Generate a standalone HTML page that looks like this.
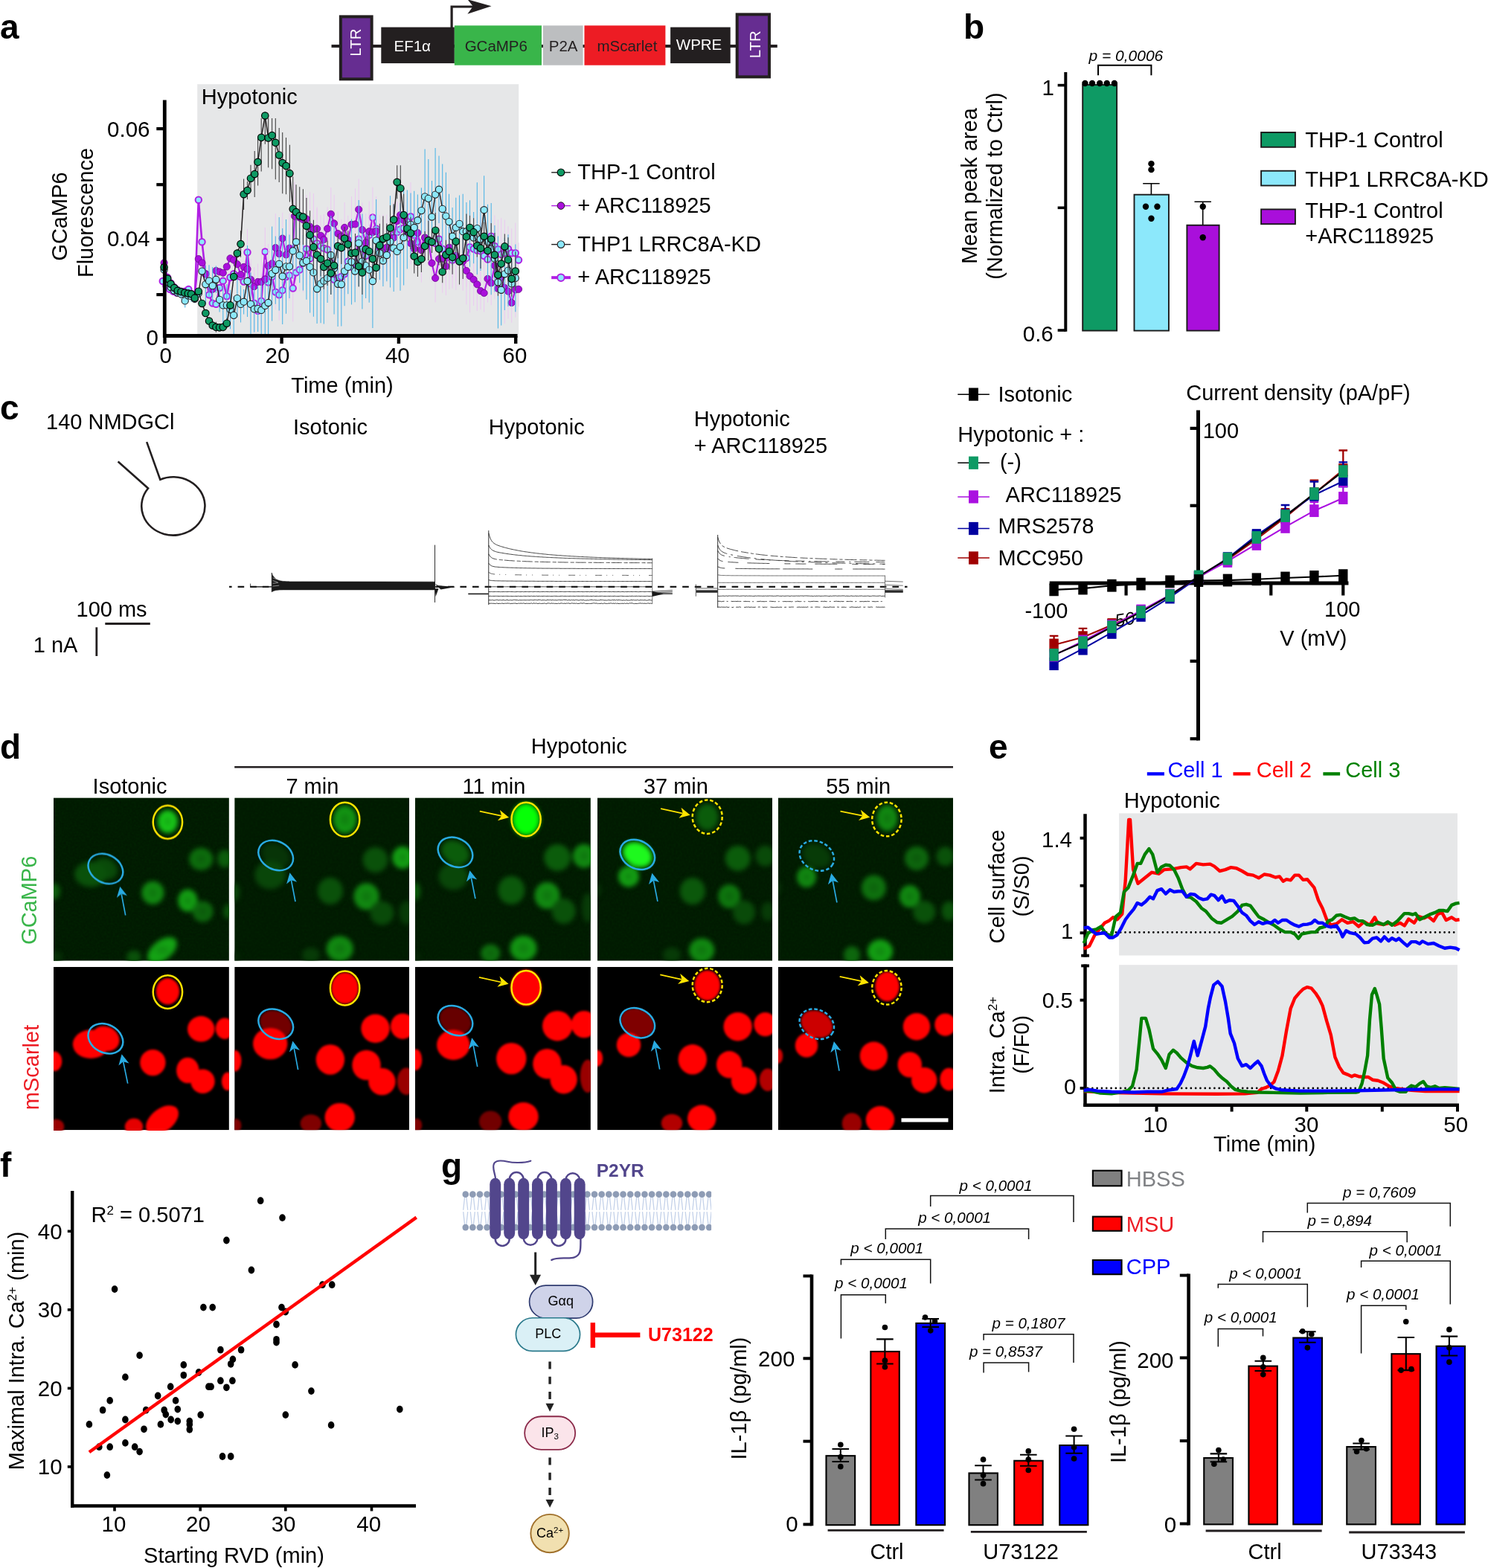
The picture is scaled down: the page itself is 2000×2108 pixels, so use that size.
<!DOCTYPE html>
<html lang="en"><head><meta charset="utf-8"><title>Figure</title>
<style>
html,body{margin:0;padding:0;background:#fff;}
body{width:2000px;height:2108px;overflow:hidden;}
svg{display:block;font-family:"Liberation Sans",sans-serif;}
</style></head><body>
<svg width="2000" height="2108" viewBox="0 0 2000 2108">
<rect x="0" y="0" width="2000" height="2108" fill="#fff"/>
<g id="pa">
<text x="0.00" y="52.30" font-size="46" font-weight="bold" >a</text>
<line x1="445.52" y1="61.94" x2="1044.78" y2="61.94" stroke="#231f20" stroke-width="4" />
<rect x="457.84" y="22.39" width="41.79" height="83.95" fill="#662d91" stroke="#231f20" stroke-width="4" />
<text font-size="20.5" text-anchor="middle" fill="#fff" transform="translate(485.45 57.09) rotate(-90)" >LTR</text>
<rect x="512.31" y="36.57" width="98.51" height="48.50" fill="#231f20" />
<text x="529.48" y="68.66" font-size="20.5" fill="#fff" >EF1α</text>
<path d="M607.1 37.3 L607.1 9.0 L638.8 9.0" fill="none" stroke="#231f20" stroke-width="3.2" />
<polygon points="628.4,-0.8 660.5,8.2 628.4,18.7 635.8,8.6" fill="#231f20"/>
<rect x="610.82" y="34.33" width="117.17" height="53.36" fill="#39b54a" />
<text x="666.79" y="68.66" font-size="20.5" text-anchor="middle" fill="#231f20" >GCaMP6</text>
<rect x="729.85" y="34.33" width="53.73" height="53.36" fill="#bcbec0" />
<text x="757.09" y="68.66" font-size="20.5" text-anchor="middle" fill="#231f20" >P2A</text>
<rect x="785.45" y="34.33" width="108.95" height="53.36" fill="#ed1c24" />
<text x="842.91" y="68.66" font-size="20.5" text-anchor="middle" fill="#231f20" >mScarlet</text>
<rect x="901.12" y="36.57" width="80.60" height="48.50" fill="#231f20" />
<text x="939.55" y="67.16" font-size="20.5" text-anchor="middle" fill="#fff" >WPRE</text>
<rect x="990.67" y="19.40" width="43.29" height="83.96" fill="#662d91" stroke="#231f20" stroke-width="4" />
<text font-size="20.5" text-anchor="middle" fill="#fff" transform="translate(1022.01 59.70) rotate(-90)" >LTR</text>
<rect x="265.20" y="113.20" width="432.00" height="336.40" fill="#e6e7e8" />
<text x="270.80" y="140.20" font-size="29" >Hypotonic</text>
<path d="M332.5 307.9 V370.7M337.0 354.6 V408.2M341.7 367.5 V447.7M346.6 393.2 V442.6M351.2 367.7 V441.8M356.3 305.8 V370.9M360.6 355.2 V403.9M365.6 335.7 V408.3M370.3 368.8 V416.4M375.2 362.0 V430.7M379.7 365.5 V414.8M384.5 346.8 V397.2M389.0 336.1 V404.2M393.7 342.8 V432.4M398.0 340.3 V392.5M402.7 333.9 V391.4M407.4 313.8 V392.8M411.9 286.6 V382.6M416.6 309.5 V385.8M421.4 288.1 V354.8M426.1 278.3 V375.9M431.1 306.8 V354.9M435.3 288.0 V379.3M440.1 305.0 V366.0M444.8 326.7 V379.9M449.1 349.8 V401.7M454.1 342.9 V404.9M458.8 327.5 V416.5M463.1 340.7 V395.9M467.8 313.2 V389.7M472.5 319.1 V398.7M477.1 320.6 V386.0M482.2 284.1 V358.9M486.9 310.1 V359.1M491.6 319.6 V368.3M496.2 287.6 V344.2M500.9 251.6 V333.4M505.6 273.3 V341.6M510.3 294.1 V356.4M514.9 296.2 V373.0M519.8 303.5 V373.2M524.5 301.9 V363.5M529.2 271.9 V359.8M533.7 270.7 V353.5M538.0 279.1 V337.7M542.6 268.4 V344.6M547.3 260.4 V333.9M552.0 245.1 V337.2M556.7 273.7 V358.1M561.4 294.8 V355.7M566.4 282.0 V379.7M571.1 293.7 V345.6M575.8 289.4 V357.3M580.5 282.3 V368.2M585.1 300.3 V354.0M590.0 285.7 V357.3M594.7 310.7 V358.4M599.4 303.4 V384.5M603.9 302.7 V389.0M608.1 311.5 V387.6M612.8 297.9 V390.0M617.5 316.5 V378.8M622.2 308.3 V390.9M626.9 308.1 V385.4M631.5 293.9 V370.4M636.6 299.7 V369.5M641.3 291.3 V381.6M646.0 289.5 V385.3M650.6 308.5 V379.4M655.5 308.2 V389.1M660.2 293.3 V342.2M664.9 289.4 V372.3M669.4 295.1 V375.2M673.7 292.9 V391.3M678.3 295.5 V384.9M683.0 304.2 V365.0M687.7 307.1 V373.3M692.8 299.6 V380.8M697.0 326.2 V373.0" stroke="#ecc9f2" stroke-width="1.0" fill="none"/>
<polyline points="218.7,378.0 223.4,384.2 228.1,388.9 232.8,391.7 237.4,393.6 243.4,394.5 248.3,391.7 253.3,388.9 257.1,395.4 261.8,399.2 266.8,268.7 271.5,325.2 276.4,368.3 281.0,396.4 285.7,407.6 290.4,408.9 295.1,387.0 299.8,377.6 304.8,398.2 309.5,373.0 314.2,368.3 318.9,371.1 323.5,372.0 327.6,378.6 332.5,339.3 337.0,381.4 341.7,407.6 346.6,417.9 351.2,404.8 356.3,338.3 360.6,379.5 365.6,372.0 370.3,392.6 375.2,396.4 379.7,390.2 384.5,372.0 389.0,370.1 393.7,387.6 398.0,366.4 402.7,362.7 407.4,353.3 411.9,334.6 416.6,347.7 421.4,321.5 426.1,327.1 431.1,330.9 435.3,333.7 440.1,335.5 444.8,353.3 449.1,375.8 454.1,373.9 458.8,372.0 463.1,368.3 467.8,351.4 472.5,358.9 477.1,353.3 482.2,321.5 486.9,334.6 491.6,343.9 496.2,315.9 500.9,292.5 505.6,307.4 510.3,325.2 514.9,334.6 519.8,338.3 524.5,332.7 529.2,315.9 533.7,312.1 538.0,308.4 542.6,306.5 547.3,297.2 552.0,291.2 556.7,315.9 561.4,325.2 566.4,330.9 571.1,319.6 575.8,323.4 580.5,325.2 585.1,327.1 590.0,321.5 594.7,334.6 599.4,343.9 603.9,345.8 608.1,349.6 612.8,343.9 617.5,347.7 622.2,349.6 626.9,346.8 631.5,332.2 636.6,334.6 641.3,336.5 646.0,337.4 650.6,343.9 655.5,348.6 660.2,317.8 664.9,330.9 669.4,335.1 673.7,342.1 678.3,340.2 683.0,334.6 687.7,340.2 692.8,340.2 697.0,349.6" fill="none" stroke="#b01fe3" stroke-width="2.6" />
<circle cx="218.72" cy="378.01" r="4.2" fill="#8ce8fb" stroke="#b01fe3" stroke-width="2.0" /><circle cx="223.40" cy="384.19" r="4.2" fill="#8ce8fb" stroke="#b01fe3" stroke-width="2.0" /><circle cx="228.07" cy="388.87" r="4.2" fill="#8ce8fb" stroke="#b01fe3" stroke-width="2.0" /><circle cx="232.75" cy="391.68" r="4.2" fill="#8ce8fb" stroke="#b01fe3" stroke-width="2.0" /><circle cx="237.43" cy="393.55" r="4.2" fill="#8ce8fb" stroke="#b01fe3" stroke-width="2.0" /><circle cx="243.42" cy="394.48" r="4.2" fill="#8ce8fb" stroke="#b01fe3" stroke-width="2.0" /><circle cx="248.29" cy="391.68" r="4.2" fill="#8ce8fb" stroke="#b01fe3" stroke-width="2.0" /><circle cx="253.34" cy="388.87" r="4.2" fill="#8ce8fb" stroke="#b01fe3" stroke-width="2.0" /><circle cx="257.08" cy="395.42" r="4.2" fill="#8ce8fb" stroke="#b01fe3" stroke-width="2.0" /><circle cx="261.76" cy="399.16" r="4.2" fill="#8ce8fb" stroke="#b01fe3" stroke-width="2.0" /><circle cx="266.82" cy="268.71" r="4.2" fill="#8ce8fb" stroke="#b01fe3" stroke-width="2.0" /><circle cx="271.50" cy="325.23" r="4.2" fill="#8ce8fb" stroke="#b01fe3" stroke-width="2.0" /><circle cx="276.36" cy="368.28" r="4.2" fill="#8ce8fb" stroke="#b01fe3" stroke-width="2.0" /><circle cx="281.04" cy="396.36" r="4.2" fill="#8ce8fb" stroke="#b01fe3" stroke-width="2.0" /><circle cx="285.72" cy="407.59" r="4.2" fill="#8ce8fb" stroke="#b01fe3" stroke-width="2.0" /><circle cx="290.40" cy="408.90" r="4.2" fill="#8ce8fb" stroke="#b01fe3" stroke-width="2.0" /><circle cx="295.08" cy="387.00" r="4.2" fill="#8ce8fb" stroke="#b01fe3" stroke-width="2.0" /><circle cx="299.76" cy="377.64" r="4.2" fill="#8ce8fb" stroke="#b01fe3" stroke-width="2.0" /><circle cx="304.81" cy="398.23" r="4.2" fill="#8ce8fb" stroke="#b01fe3" stroke-width="2.0" /><circle cx="309.49" cy="372.96" r="4.2" fill="#8ce8fb" stroke="#b01fe3" stroke-width="2.0" /><circle cx="314.17" cy="368.28" r="4.2" fill="#8ce8fb" stroke="#b01fe3" stroke-width="2.0" /><circle cx="318.85" cy="371.09" r="4.2" fill="#8ce8fb" stroke="#b01fe3" stroke-width="2.0" /><circle cx="323.53" cy="372.03" r="4.2" fill="#8ce8fb" stroke="#b01fe3" stroke-width="2.0" /><circle cx="327.64" cy="378.58" r="4.2" fill="#8ce8fb" stroke="#b01fe3" stroke-width="2.0" /><circle cx="332.51" cy="339.27" r="4.2" fill="#8ce8fb" stroke="#b01fe3" stroke-width="2.0" /><circle cx="337.00" cy="381.38" r="4.2" fill="#8ce8fb" stroke="#b01fe3" stroke-width="2.0" /><circle cx="341.68" cy="407.59" r="4.2" fill="#8ce8fb" stroke="#b01fe3" stroke-width="2.0" /><circle cx="346.55" cy="417.88" r="4.2" fill="#8ce8fb" stroke="#b01fe3" stroke-width="2.0" /><circle cx="351.23" cy="404.78" r="4.2" fill="#8ce8fb" stroke="#b01fe3" stroke-width="2.0" /><circle cx="356.28" cy="338.34" r="4.2" fill="#8ce8fb" stroke="#b01fe3" stroke-width="2.0" /><circle cx="360.58" cy="379.51" r="4.2" fill="#8ce8fb" stroke="#b01fe3" stroke-width="2.0" /><circle cx="365.64" cy="372.03" r="4.2" fill="#8ce8fb" stroke="#b01fe3" stroke-width="2.0" /><circle cx="370.32" cy="392.61" r="4.2" fill="#8ce8fb" stroke="#b01fe3" stroke-width="2.0" /><circle cx="375.18" cy="396.36" r="4.2" fill="#8ce8fb" stroke="#b01fe3" stroke-width="2.0" /><circle cx="379.67" cy="390.18" r="4.2" fill="#8ce8fb" stroke="#b01fe3" stroke-width="2.0" /><circle cx="384.54" cy="372.03" r="4.2" fill="#8ce8fb" stroke="#b01fe3" stroke-width="2.0" /><circle cx="389.03" cy="370.15" r="4.2" fill="#8ce8fb" stroke="#b01fe3" stroke-width="2.0" /><circle cx="393.71" cy="387.56" r="4.2" fill="#8ce8fb" stroke="#b01fe3" stroke-width="2.0" /><circle cx="398.02" cy="366.41" r="4.2" fill="#8ce8fb" stroke="#b01fe3" stroke-width="2.0" /><circle cx="402.70" cy="362.67" r="4.2" fill="#8ce8fb" stroke="#b01fe3" stroke-width="2.0" /><circle cx="407.37" cy="353.31" r="4.2" fill="#8ce8fb" stroke="#b01fe3" stroke-width="2.0" /><circle cx="411.87" cy="334.59" r="4.2" fill="#8ce8fb" stroke="#b01fe3" stroke-width="2.0" /><circle cx="416.55" cy="347.69" r="4.2" fill="#8ce8fb" stroke="#b01fe3" stroke-width="2.0" /><circle cx="421.41" cy="321.49" r="4.2" fill="#8ce8fb" stroke="#b01fe3" stroke-width="2.0" /><circle cx="426.09" cy="327.11" r="4.2" fill="#8ce8fb" stroke="#b01fe3" stroke-width="2.0" /><circle cx="431.14" cy="330.85" r="4.2" fill="#8ce8fb" stroke="#b01fe3" stroke-width="2.0" /><circle cx="435.26" cy="333.66" r="4.2" fill="#8ce8fb" stroke="#b01fe3" stroke-width="2.0" /><circle cx="440.13" cy="335.53" r="4.2" fill="#8ce8fb" stroke="#b01fe3" stroke-width="2.0" /><circle cx="444.81" cy="353.31" r="4.2" fill="#8ce8fb" stroke="#b01fe3" stroke-width="2.0" /><circle cx="449.06" cy="375.77" r="4.2" fill="#8ce8fb" stroke="#b01fe3" stroke-width="2.0" /><circle cx="454.12" cy="373.90" r="4.2" fill="#8ce8fb" stroke="#b01fe3" stroke-width="2.0" /><circle cx="458.80" cy="372.03" r="4.2" fill="#8ce8fb" stroke="#b01fe3" stroke-width="2.0" /><circle cx="463.10" cy="368.28" r="4.2" fill="#8ce8fb" stroke="#b01fe3" stroke-width="2.0" /><circle cx="467.78" cy="351.44" r="4.2" fill="#8ce8fb" stroke="#b01fe3" stroke-width="2.0" /><circle cx="472.46" cy="358.92" r="4.2" fill="#8ce8fb" stroke="#b01fe3" stroke-width="2.0" /><circle cx="477.14" cy="353.31" r="4.2" fill="#8ce8fb" stroke="#b01fe3" stroke-width="2.0" /><circle cx="482.19" cy="321.49" r="4.2" fill="#8ce8fb" stroke="#b01fe3" stroke-width="2.0" /><circle cx="486.87" cy="334.59" r="4.2" fill="#8ce8fb" stroke="#b01fe3" stroke-width="2.0" /><circle cx="491.55" cy="343.95" r="4.2" fill="#8ce8fb" stroke="#b01fe3" stroke-width="2.0" /><circle cx="496.23" cy="315.88" r="4.2" fill="#8ce8fb" stroke="#b01fe3" stroke-width="2.0" /><circle cx="500.91" cy="292.48" r="4.2" fill="#8ce8fb" stroke="#b01fe3" stroke-width="2.0" /><circle cx="505.59" cy="307.45" r="4.2" fill="#8ce8fb" stroke="#b01fe3" stroke-width="2.0" /><circle cx="510.27" cy="325.23" r="4.2" fill="#8ce8fb" stroke="#b01fe3" stroke-width="2.0" /><circle cx="514.94" cy="334.59" r="4.2" fill="#8ce8fb" stroke="#b01fe3" stroke-width="2.0" /><circle cx="519.81" cy="338.34" r="4.2" fill="#8ce8fb" stroke="#b01fe3" stroke-width="2.0" /><circle cx="524.49" cy="332.72" r="4.2" fill="#8ce8fb" stroke="#b01fe3" stroke-width="2.0" /><circle cx="529.17" cy="315.88" r="4.2" fill="#8ce8fb" stroke="#b01fe3" stroke-width="2.0" /><circle cx="533.66" cy="312.13" r="4.2" fill="#8ce8fb" stroke="#b01fe3" stroke-width="2.0" /><circle cx="537.97" cy="308.39" r="4.2" fill="#8ce8fb" stroke="#b01fe3" stroke-width="2.0" /><circle cx="542.64" cy="306.52" r="4.2" fill="#8ce8fb" stroke="#b01fe3" stroke-width="2.0" /><circle cx="547.32" cy="297.16" r="4.2" fill="#8ce8fb" stroke="#b01fe3" stroke-width="2.0" /><circle cx="552.00" cy="291.17" r="4.2" fill="#8ce8fb" stroke="#b01fe3" stroke-width="2.0" /><circle cx="556.68" cy="315.88" r="4.2" fill="#8ce8fb" stroke="#b01fe3" stroke-width="2.0" /><circle cx="561.36" cy="325.23" r="4.2" fill="#8ce8fb" stroke="#b01fe3" stroke-width="2.0" /><circle cx="566.41" cy="330.85" r="4.2" fill="#8ce8fb" stroke="#b01fe3" stroke-width="2.0" /><circle cx="571.09" cy="319.62" r="4.2" fill="#8ce8fb" stroke="#b01fe3" stroke-width="2.0" /><circle cx="575.77" cy="323.36" r="4.2" fill="#8ce8fb" stroke="#b01fe3" stroke-width="2.0" /><circle cx="580.45" cy="325.23" r="4.2" fill="#8ce8fb" stroke="#b01fe3" stroke-width="2.0" /><circle cx="585.13" cy="327.11" r="4.2" fill="#8ce8fb" stroke="#b01fe3" stroke-width="2.0" /><circle cx="590.00" cy="321.49" r="4.2" fill="#8ce8fb" stroke="#b01fe3" stroke-width="2.0" /><circle cx="594.68" cy="334.59" r="4.2" fill="#8ce8fb" stroke="#b01fe3" stroke-width="2.0" /><circle cx="599.35" cy="343.95" r="4.2" fill="#8ce8fb" stroke="#b01fe3" stroke-width="2.0" /><circle cx="603.85" cy="345.82" r="4.2" fill="#8ce8fb" stroke="#b01fe3" stroke-width="2.0" /><circle cx="608.15" cy="349.57" r="4.2" fill="#8ce8fb" stroke="#b01fe3" stroke-width="2.0" /><circle cx="612.83" cy="343.95" r="4.2" fill="#8ce8fb" stroke="#b01fe3" stroke-width="2.0" /><circle cx="617.51" cy="347.69" r="4.2" fill="#8ce8fb" stroke="#b01fe3" stroke-width="2.0" /><circle cx="622.19" cy="349.57" r="4.2" fill="#8ce8fb" stroke="#b01fe3" stroke-width="2.0" /><circle cx="626.87" cy="346.76" r="4.2" fill="#8ce8fb" stroke="#b01fe3" stroke-width="2.0" /><circle cx="631.55" cy="332.16" r="4.2" fill="#8ce8fb" stroke="#b01fe3" stroke-width="2.0" /><circle cx="636.60" cy="334.59" r="4.2" fill="#8ce8fb" stroke="#b01fe3" stroke-width="2.0" /><circle cx="641.28" cy="336.46" r="4.2" fill="#8ce8fb" stroke="#b01fe3" stroke-width="2.0" /><circle cx="645.96" cy="337.40" r="4.2" fill="#8ce8fb" stroke="#b01fe3" stroke-width="2.0" /><circle cx="650.64" cy="343.95" r="4.2" fill="#8ce8fb" stroke="#b01fe3" stroke-width="2.0" /><circle cx="655.50" cy="348.63" r="4.2" fill="#8ce8fb" stroke="#b01fe3" stroke-width="2.0" /><circle cx="660.18" cy="317.75" r="4.2" fill="#8ce8fb" stroke="#b01fe3" stroke-width="2.0" /><circle cx="664.86" cy="330.85" r="4.2" fill="#8ce8fb" stroke="#b01fe3" stroke-width="2.0" /><circle cx="669.35" cy="335.15" r="4.2" fill="#8ce8fb" stroke="#b01fe3" stroke-width="2.0" /><circle cx="673.66" cy="342.08" r="4.2" fill="#8ce8fb" stroke="#b01fe3" stroke-width="2.0" /><circle cx="678.34" cy="340.21" r="4.2" fill="#8ce8fb" stroke="#b01fe3" stroke-width="2.0" /><circle cx="683.02" cy="334.59" r="4.2" fill="#8ce8fb" stroke="#b01fe3" stroke-width="2.0" /><circle cx="687.69" cy="340.21" r="4.2" fill="#8ce8fb" stroke="#b01fe3" stroke-width="2.0" /><circle cx="692.75" cy="340.21" r="4.2" fill="#8ce8fb" stroke="#b01fe3" stroke-width="2.0" /><circle cx="697.05" cy="349.57" r="4.2" fill="#8ce8fb" stroke="#b01fe3" stroke-width="2.0" />
<path d="M332.5 326.6 V396.8M337.0 348.5 V403.0M341.7 359.2 V411.0M346.6 354.6 V403.3M351.2 335.7 V422.2M356.3 349.1 V401.6M360.6 328.0 V386.8M365.6 321.0 V387.4M370.3 287.1 V379.1M375.2 316.2 V366.1M379.7 285.8 V355.3M384.5 305.0 V379.9M389.0 287.4 V380.0M393.7 292.4 V381.6M396.0 244.8 V336.4M402.7 262.3 V322.7M407.4 261.4 V329.1M411.9 262.0 V326.7M416.6 258.3 V351.0M421.4 260.1 V356.7M426.1 280.6 V334.3M431.1 289.3 V344.3M435.3 293.1 V351.0M440.1 278.4 V336.5M444.8 252.1 V323.5M449.1 261.9 V338.8M454.1 284.2 V343.8M458.8 294.8 V340.7M463.1 272.0 V339.9M467.8 289.8 V355.1M472.5 264.0 V339.7M477.5 253.3 V349.6M482.2 240.5 V322.8M486.9 272.4 V345.5M491.6 286.9 V365.4M496.2 270.4 V352.0M500.9 287.9 V336.4M505.6 264.1 V357.5M510.3 289.2 V376.3M514.9 288.5 V380.7M519.8 288.7 V376.7M524.5 286.4 V352.9M529.2 286.2 V353.0M533.7 271.6 V322.7M538.0 249.4 V328.8M542.6 271.8 V320.7M547.3 287.5 V336.7M552.0 298.8 V355.5M556.7 307.5 V361.7M561.4 281.2 V344.9M566.4 312.3 V360.7M571.1 296.8 V342.4M575.8 295.6 V349.3M580.5 328.2 V379.2M585.1 341.4 V406.4M590.0 324.6 V371.5M594.7 301.6 V393.7M599.4 318.9 V397.1M603.9 306.0 V359.5M608.1 314.4 V373.5M612.8 313.8 V377.9M617.5 319.0 V383.9M622.2 325.4 V377.5M626.9 318.6 V409.4M631.5 321.9 V420.3M636.6 340.6 V411.0M641.3 346.6 V418.0M646.0 366.0 V416.2M650.6 368.4 V419.4M655.5 342.9 V406.7M660.2 350.6 V410.3M664.9 312.2 V401.9M669.4 360.8 V415.0M673.7 348.6 V395.4M678.3 338.9 V435.1M683.0 354.8 V428.5M687.7 380.3 V433.7M692.8 352.2 V426.7M697.0 365.4 V412.4" stroke="#ecc9f2" stroke-width="1.0" fill="none"/>
<polyline points="220.6,353.3 225.3,373.0 229.6,380.4 234.2,386.1 238.7,389.8 243.4,391.7 248.3,393.0 252.8,394.1 257.1,394.9 261.8,398.2 266.8,348.1 271.5,353.3 276.4,368.3 281.0,379.5 285.7,388.9 290.4,364.0 295.1,365.5 299.8,366.8 304.8,358.6 309.5,347.3 314.2,349.6 318.9,355.2 323.5,369.2 327.6,358.9 332.5,361.7 337.0,375.8 341.7,385.1 346.6,378.9 351.2,378.9 356.3,375.4 360.6,357.4 365.6,354.2 370.3,333.1 375.2,341.1 379.7,320.6 384.5,342.4 389.0,333.7 393.7,337.0 396.0,290.6 402.7,292.5 407.4,295.3 411.9,294.4 416.6,304.6 421.4,308.4 426.1,307.4 431.1,316.8 435.3,322.1 440.1,307.4 444.8,287.8 449.1,300.3 454.1,314.0 458.8,317.8 463.1,306.0 467.8,322.4 472.5,301.8 477.5,301.5 482.2,281.6 486.9,308.9 491.6,326.2 496.2,311.2 500.9,312.1 505.6,310.8 510.3,332.7 514.9,334.6 519.8,332.7 524.5,319.6 529.2,319.6 533.7,297.2 538.0,289.1 542.6,296.2 547.3,312.1 552.0,327.1 556.7,334.6 561.4,313.1 566.4,336.5 571.1,319.6 575.8,322.4 580.5,353.7 585.1,373.9 590.0,348.1 594.7,347.7 599.4,358.0 603.9,332.7 608.1,343.9 612.8,345.8 617.5,351.4 622.2,351.4 626.9,364.0 631.5,371.1 636.6,375.8 641.3,382.3 646.0,391.1 650.6,393.9 655.5,374.8 660.2,380.4 664.9,357.1 669.4,387.9 673.7,372.0 678.3,387.0 683.0,391.7 687.7,407.0 692.8,389.4 697.0,388.9" fill="none" stroke="#b01fe3" stroke-width="2.2" />
<circle cx="220.59" cy="353.31" r="4.6" fill="#a90fdb" stroke="#6a0b8a" stroke-width="0.8" /><circle cx="225.27" cy="372.96" r="4.6" fill="#a90fdb" stroke="#6a0b8a" stroke-width="0.8" /><circle cx="229.57" cy="380.45" r="4.6" fill="#a90fdb" stroke="#6a0b8a" stroke-width="0.8" /><circle cx="234.25" cy="386.06" r="4.6" fill="#a90fdb" stroke="#6a0b8a" stroke-width="0.8" /><circle cx="238.74" cy="389.81" r="4.6" fill="#a90fdb" stroke="#6a0b8a" stroke-width="0.8" /><circle cx="243.42" cy="391.68" r="4.6" fill="#a90fdb" stroke="#6a0b8a" stroke-width="0.8" /><circle cx="248.29" cy="392.99" r="4.6" fill="#a90fdb" stroke="#6a0b8a" stroke-width="0.8" /><circle cx="252.78" cy="394.11" r="4.6" fill="#a90fdb" stroke="#6a0b8a" stroke-width="0.8" /><circle cx="257.08" cy="394.86" r="4.6" fill="#a90fdb" stroke="#6a0b8a" stroke-width="0.8" /><circle cx="261.76" cy="398.23" r="4.6" fill="#a90fdb" stroke="#6a0b8a" stroke-width="0.8" /><circle cx="266.82" cy="348.07" r="4.6" fill="#a90fdb" stroke="#6a0b8a" stroke-width="0.8" /><circle cx="271.50" cy="353.31" r="4.6" fill="#a90fdb" stroke="#6a0b8a" stroke-width="0.8" /><circle cx="276.36" cy="368.28" r="4.6" fill="#a90fdb" stroke="#6a0b8a" stroke-width="0.8" /><circle cx="281.04" cy="379.51" r="4.6" fill="#a90fdb" stroke="#6a0b8a" stroke-width="0.8" /><circle cx="285.72" cy="388.87" r="4.6" fill="#a90fdb" stroke="#6a0b8a" stroke-width="0.8" /><circle cx="290.40" cy="363.98" r="4.6" fill="#a90fdb" stroke="#6a0b8a" stroke-width="0.8" /><circle cx="295.08" cy="365.47" r="4.6" fill="#a90fdb" stroke="#6a0b8a" stroke-width="0.8" /><circle cx="299.76" cy="366.78" r="4.6" fill="#a90fdb" stroke="#6a0b8a" stroke-width="0.8" /><circle cx="304.81" cy="358.55" r="4.6" fill="#a90fdb" stroke="#6a0b8a" stroke-width="0.8" /><circle cx="309.49" cy="347.32" r="4.6" fill="#a90fdb" stroke="#6a0b8a" stroke-width="0.8" /><circle cx="314.17" cy="349.57" r="4.6" fill="#a90fdb" stroke="#6a0b8a" stroke-width="0.8" /><circle cx="318.85" cy="355.18" r="4.6" fill="#a90fdb" stroke="#6a0b8a" stroke-width="0.8" /><circle cx="323.53" cy="369.22" r="4.6" fill="#a90fdb" stroke="#6a0b8a" stroke-width="0.8" /><circle cx="327.64" cy="358.92" r="4.6" fill="#a90fdb" stroke="#6a0b8a" stroke-width="0.8" /><circle cx="332.51" cy="361.73" r="4.6" fill="#a90fdb" stroke="#6a0b8a" stroke-width="0.8" /><circle cx="337.00" cy="375.77" r="4.6" fill="#a90fdb" stroke="#6a0b8a" stroke-width="0.8" /><circle cx="341.68" cy="385.13" r="4.6" fill="#a90fdb" stroke="#6a0b8a" stroke-width="0.8" /><circle cx="346.55" cy="378.95" r="4.6" fill="#a90fdb" stroke="#6a0b8a" stroke-width="0.8" /><circle cx="351.23" cy="378.95" r="4.6" fill="#a90fdb" stroke="#6a0b8a" stroke-width="0.8" /><circle cx="356.28" cy="375.39" r="4.6" fill="#a90fdb" stroke="#6a0b8a" stroke-width="0.8" /><circle cx="360.58" cy="357.43" r="4.6" fill="#a90fdb" stroke="#6a0b8a" stroke-width="0.8" /><circle cx="365.64" cy="354.24" r="4.6" fill="#a90fdb" stroke="#6a0b8a" stroke-width="0.8" /><circle cx="370.32" cy="333.10" r="4.6" fill="#a90fdb" stroke="#6a0b8a" stroke-width="0.8" /><circle cx="375.18" cy="341.14" r="4.6" fill="#a90fdb" stroke="#6a0b8a" stroke-width="0.8" /><circle cx="379.67" cy="320.56" r="4.6" fill="#a90fdb" stroke="#6a0b8a" stroke-width="0.8" /><circle cx="384.54" cy="342.45" r="4.6" fill="#a90fdb" stroke="#6a0b8a" stroke-width="0.8" /><circle cx="389.03" cy="333.66" r="4.6" fill="#a90fdb" stroke="#6a0b8a" stroke-width="0.8" /><circle cx="393.71" cy="337.03" r="4.6" fill="#a90fdb" stroke="#6a0b8a" stroke-width="0.8" /><circle cx="395.96" cy="290.61" r="4.6" fill="#a90fdb" stroke="#6a0b8a" stroke-width="0.8" /><circle cx="402.70" cy="292.48" r="4.6" fill="#a90fdb" stroke="#6a0b8a" stroke-width="0.8" /><circle cx="407.37" cy="295.29" r="4.6" fill="#a90fdb" stroke="#6a0b8a" stroke-width="0.8" /><circle cx="411.87" cy="294.35" r="4.6" fill="#a90fdb" stroke="#6a0b8a" stroke-width="0.8" /><circle cx="416.55" cy="304.65" r="4.6" fill="#a90fdb" stroke="#6a0b8a" stroke-width="0.8" /><circle cx="421.41" cy="308.39" r="4.6" fill="#a90fdb" stroke="#6a0b8a" stroke-width="0.8" /><circle cx="426.09" cy="307.45" r="4.6" fill="#a90fdb" stroke="#6a0b8a" stroke-width="0.8" /><circle cx="431.14" cy="316.81" r="4.6" fill="#a90fdb" stroke="#6a0b8a" stroke-width="0.8" /><circle cx="435.26" cy="322.05" r="4.6" fill="#a90fdb" stroke="#6a0b8a" stroke-width="0.8" /><circle cx="440.13" cy="307.45" r="4.6" fill="#a90fdb" stroke="#6a0b8a" stroke-width="0.8" /><circle cx="444.81" cy="287.80" r="4.6" fill="#a90fdb" stroke="#6a0b8a" stroke-width="0.8" /><circle cx="449.06" cy="300.34" r="4.6" fill="#a90fdb" stroke="#6a0b8a" stroke-width="0.8" /><circle cx="454.12" cy="314.01" r="4.6" fill="#a90fdb" stroke="#6a0b8a" stroke-width="0.8" /><circle cx="458.80" cy="317.75" r="4.6" fill="#a90fdb" stroke="#6a0b8a" stroke-width="0.8" /><circle cx="463.10" cy="305.96" r="4.6" fill="#a90fdb" stroke="#6a0b8a" stroke-width="0.8" /><circle cx="467.78" cy="322.43" r="4.6" fill="#a90fdb" stroke="#6a0b8a" stroke-width="0.8" /><circle cx="472.46" cy="301.84" r="4.6" fill="#a90fdb" stroke="#6a0b8a" stroke-width="0.8" /><circle cx="477.51" cy="301.47" r="4.6" fill="#a90fdb" stroke="#6a0b8a" stroke-width="0.8" /><circle cx="482.19" cy="281.63" r="4.6" fill="#a90fdb" stroke="#6a0b8a" stroke-width="0.8" /><circle cx="486.87" cy="308.95" r="4.6" fill="#a90fdb" stroke="#6a0b8a" stroke-width="0.8" /><circle cx="491.55" cy="326.17" r="4.6" fill="#a90fdb" stroke="#6a0b8a" stroke-width="0.8" /><circle cx="496.23" cy="311.20" r="4.6" fill="#a90fdb" stroke="#6a0b8a" stroke-width="0.8" /><circle cx="500.91" cy="312.13" r="4.6" fill="#a90fdb" stroke="#6a0b8a" stroke-width="0.8" /><circle cx="505.59" cy="310.82" r="4.6" fill="#a90fdb" stroke="#6a0b8a" stroke-width="0.8" /><circle cx="510.27" cy="332.72" r="4.6" fill="#a90fdb" stroke="#6a0b8a" stroke-width="0.8" /><circle cx="514.94" cy="334.59" r="4.6" fill="#a90fdb" stroke="#6a0b8a" stroke-width="0.8" /><circle cx="519.81" cy="332.72" r="4.6" fill="#a90fdb" stroke="#6a0b8a" stroke-width="0.8" /><circle cx="524.49" cy="319.62" r="4.6" fill="#a90fdb" stroke="#6a0b8a" stroke-width="0.8" /><circle cx="529.17" cy="319.62" r="4.6" fill="#a90fdb" stroke="#6a0b8a" stroke-width="0.8" /><circle cx="533.66" cy="297.16" r="4.6" fill="#a90fdb" stroke="#6a0b8a" stroke-width="0.8" /><circle cx="537.97" cy="289.11" r="4.6" fill="#a90fdb" stroke="#6a0b8a" stroke-width="0.8" /><circle cx="542.64" cy="296.22" r="4.6" fill="#a90fdb" stroke="#6a0b8a" stroke-width="0.8" /><circle cx="547.32" cy="312.13" r="4.6" fill="#a90fdb" stroke="#6a0b8a" stroke-width="0.8" /><circle cx="552.00" cy="327.11" r="4.6" fill="#a90fdb" stroke="#6a0b8a" stroke-width="0.8" /><circle cx="556.68" cy="334.59" r="4.6" fill="#a90fdb" stroke="#6a0b8a" stroke-width="0.8" /><circle cx="561.36" cy="313.07" r="4.6" fill="#a90fdb" stroke="#6a0b8a" stroke-width="0.8" /><circle cx="566.41" cy="336.46" r="4.6" fill="#a90fdb" stroke="#6a0b8a" stroke-width="0.8" /><circle cx="571.09" cy="319.62" r="4.6" fill="#a90fdb" stroke="#6a0b8a" stroke-width="0.8" /><circle cx="575.77" cy="322.43" r="4.6" fill="#a90fdb" stroke="#6a0b8a" stroke-width="0.8" /><circle cx="580.45" cy="353.68" r="4.6" fill="#a90fdb" stroke="#6a0b8a" stroke-width="0.8" /><circle cx="585.13" cy="373.90" r="4.6" fill="#a90fdb" stroke="#6a0b8a" stroke-width="0.8" /><circle cx="590.00" cy="348.07" r="4.6" fill="#a90fdb" stroke="#6a0b8a" stroke-width="0.8" /><circle cx="594.68" cy="347.69" r="4.6" fill="#a90fdb" stroke="#6a0b8a" stroke-width="0.8" /><circle cx="599.35" cy="357.99" r="4.6" fill="#a90fdb" stroke="#6a0b8a" stroke-width="0.8" /><circle cx="603.85" cy="332.72" r="4.6" fill="#a90fdb" stroke="#6a0b8a" stroke-width="0.8" /><circle cx="608.15" cy="343.95" r="4.6" fill="#a90fdb" stroke="#6a0b8a" stroke-width="0.8" /><circle cx="612.83" cy="345.82" r="4.6" fill="#a90fdb" stroke="#6a0b8a" stroke-width="0.8" /><circle cx="617.51" cy="351.44" r="4.6" fill="#a90fdb" stroke="#6a0b8a" stroke-width="0.8" /><circle cx="622.19" cy="351.44" r="4.6" fill="#a90fdb" stroke="#6a0b8a" stroke-width="0.8" /><circle cx="626.87" cy="363.98" r="4.6" fill="#a90fdb" stroke="#6a0b8a" stroke-width="0.8" /><circle cx="631.55" cy="371.09" r="4.6" fill="#a90fdb" stroke="#6a0b8a" stroke-width="0.8" /><circle cx="636.60" cy="375.77" r="4.6" fill="#a90fdb" stroke="#6a0b8a" stroke-width="0.8" /><circle cx="641.28" cy="382.32" r="4.6" fill="#a90fdb" stroke="#6a0b8a" stroke-width="0.8" /><circle cx="645.96" cy="391.12" r="4.6" fill="#a90fdb" stroke="#6a0b8a" stroke-width="0.8" /><circle cx="650.64" cy="393.92" r="4.6" fill="#a90fdb" stroke="#6a0b8a" stroke-width="0.8" /><circle cx="655.50" cy="374.83" r="4.6" fill="#a90fdb" stroke="#6a0b8a" stroke-width="0.8" /><circle cx="660.18" cy="380.45" r="4.6" fill="#a90fdb" stroke="#6a0b8a" stroke-width="0.8" /><circle cx="664.86" cy="357.05" r="4.6" fill="#a90fdb" stroke="#6a0b8a" stroke-width="0.8" /><circle cx="669.35" cy="387.93" r="4.6" fill="#a90fdb" stroke="#6a0b8a" stroke-width="0.8" /><circle cx="673.66" cy="372.03" r="4.6" fill="#a90fdb" stroke="#6a0b8a" stroke-width="0.8" /><circle cx="678.34" cy="387.00" r="4.6" fill="#a90fdb" stroke="#6a0b8a" stroke-width="0.8" /><circle cx="683.02" cy="391.68" r="4.6" fill="#a90fdb" stroke="#6a0b8a" stroke-width="0.8" /><circle cx="687.69" cy="407.02" r="4.6" fill="#a90fdb" stroke="#6a0b8a" stroke-width="0.8" /><circle cx="692.75" cy="389.43" r="4.6" fill="#a90fdb" stroke="#6a0b8a" stroke-width="0.8" /><circle cx="697.05" cy="388.87" r="4.6" fill="#a90fdb" stroke="#6a0b8a" stroke-width="0.8" />
<path d="M243.4 388.6 V402.2M248.7 395.4 V413.4M252.8 388.9 V405.7M257.1 390.6 V405.8M261.8 396.5 V407.4M266.8 388.5 V400.5M271.5 359.5 V369.6M276.4 357.2 V407.4M281.0 356.2 V399.0M285.7 359.0 V409.4M290.4 357.5 V394.0M295.1 386.3 V419.5M299.8 384.7 V436.1M304.8 382.0 V438.8M309.5 389.7 V442.3M314.2 398.3 V449.0M318.9 375.2 V426.8M323.5 384.3 V433.5M327.6 389.0 V422.4M332.5 329.9 V426.1M337.0 366.5 V449.0M341.7 384.4 V446.5M346.6 384.1 V446.0M351.2 377.2 V449.0M356.3 371.9 V449.0M360.6 352.8 V449.0M365.6 304.4 V431.4M370.3 317.4 V408.7M375.2 292.0 V417.6M379.7 306.9 V436.0M384.5 294.9 V421.8M389.0 315.6 V401.1M393.7 299.7 V375.1M398.0 287.3 V363.2M402.7 306.5 V380.3M407.4 316.2 V390.5M411.9 299.0 V402.7M416.6 297.4 V420.4M421.4 307.0 V425.8M426.1 341.5 V435.1M431.1 328.5 V434.2M435.3 319.7 V435.6M440.1 340.9 V406.9M444.8 289.9 V396.1M449.1 299.0 V422.6M454.1 324.4 V439.1M458.8 326.1 V438.6M463.1 317.8 V411.3M467.8 322.7 V395.2M472.5 294.4 V409.6M477.1 322.9 V406.2M482.2 269.1 V385.1M486.9 287.4 V415.4M491.6 313.2 V400.9M496.2 318.6 V406.7M500.9 314.9 V441.1M505.6 268.0 V378.7M510.3 304.3 V376.2M514.9 316.1 V384.9M519.8 307.7 V378.3M524.5 263.2 V386.5M529.2 275.4 V391.9M533.7 302.8 V373.1M538.0 272.9 V390.7M542.6 254.9 V383.6M547.3 255.4 V361.4M552.0 259.6 V344.1M556.7 256.8 V355.2M561.4 261.6 V330.8M566.4 252.6 V313.6M571.1 200.4 V328.4M575.8 214.1 V319.6M580.5 243.1 V340.0M585.1 198.9 V324.3M590.0 209.5 V299.9M594.7 220.4 V341.4M599.4 231.7 V349.5M603.5 260.7 V335.5M608.1 278.9 V356.6M612.8 265.7 V346.2M617.5 262.5 V339.3M622.2 260.7 V361.7M626.9 272.1 V350.3M631.5 269.3 V358.7M636.6 285.0 V354.2M641.3 245.2 V368.9M646.0 279.1 V363.9M650.6 236.2 V328.2M655.5 274.8 V375.6M660.2 272.9 V396.2M664.9 303.0 V392.4M669.4 317.4 V441.6M673.7 342.3 V437.4M678.3 319.7 V416.9M683.0 315.3 V411.9M687.7 350.7 V412.0M692.8 328.5 V419.3" stroke="#52b6e6" stroke-width="1.1" fill="none"/>
<polyline points="220.6,362.7 225.3,379.5 229.6,386.1 234.2,390.7 238.7,393.6 243.4,395.4 248.7,404.4 252.8,397.3 257.1,398.2 261.8,402.0 266.8,394.5 271.5,364.5 276.4,382.3 281.0,377.6 285.7,384.2 290.4,375.8 295.1,402.9 299.8,410.4 304.8,410.4 309.5,416.0 314.2,423.9 318.9,401.0 323.5,408.9 327.6,405.7 332.5,378.0 337.0,408.9 341.7,415.4 346.6,415.1 351.2,416.9 356.3,410.9 360.6,407.0 365.6,367.9 370.3,363.0 375.2,354.8 379.7,371.5 384.5,358.4 389.0,358.4 393.7,337.4 398.0,325.2 402.7,343.4 407.4,353.3 411.9,350.9 416.6,358.9 421.4,366.4 426.1,388.3 431.1,381.4 435.3,377.6 440.1,373.9 444.8,343.0 449.1,360.8 454.1,381.8 458.8,382.3 463.1,364.5 467.8,358.9 472.5,352.0 477.1,364.5 482.2,327.1 486.9,351.4 491.6,357.1 496.2,362.7 500.9,378.0 505.6,323.4 510.3,340.2 514.9,350.5 519.8,343.0 524.5,324.9 529.2,333.7 533.7,338.0 538.0,331.8 542.6,319.2 547.3,308.4 552.0,301.8 556.7,306.0 561.4,296.2 566.4,283.1 571.1,264.4 575.8,266.8 580.5,291.6 585.1,261.6 590.0,254.7 594.7,280.9 599.4,290.6 603.5,298.1 608.1,317.8 612.8,306.0 617.5,300.9 622.2,311.2 626.9,311.2 631.5,314.0 636.6,319.6 641.3,307.1 646.0,321.5 650.6,282.2 655.5,325.2 660.2,334.6 664.9,347.7 669.4,379.5 673.7,389.8 678.3,368.3 683.0,363.6 687.7,381.4 692.8,373.9" fill="none" stroke="#231f20" stroke-width="1.4" />
<circle cx="220.59" cy="362.67" r="4.6" fill="#8ce8fb" stroke="#231f20" stroke-width="1.1" /><circle cx="225.27" cy="379.51" r="4.6" fill="#8ce8fb" stroke="#231f20" stroke-width="1.1" /><circle cx="229.57" cy="386.06" r="4.6" fill="#8ce8fb" stroke="#231f20" stroke-width="1.1" /><circle cx="234.25" cy="390.74" r="4.6" fill="#8ce8fb" stroke="#231f20" stroke-width="1.1" /><circle cx="238.74" cy="393.55" r="4.6" fill="#8ce8fb" stroke="#231f20" stroke-width="1.1" /><circle cx="243.42" cy="395.42" r="4.6" fill="#8ce8fb" stroke="#231f20" stroke-width="1.1" /><circle cx="248.66" cy="404.40" r="4.6" fill="#8ce8fb" stroke="#231f20" stroke-width="1.1" /><circle cx="252.78" cy="397.29" r="4.6" fill="#8ce8fb" stroke="#231f20" stroke-width="1.1" /><circle cx="257.08" cy="398.23" r="4.6" fill="#8ce8fb" stroke="#231f20" stroke-width="1.1" /><circle cx="261.76" cy="401.97" r="4.6" fill="#8ce8fb" stroke="#231f20" stroke-width="1.1" /><circle cx="266.82" cy="394.48" r="4.6" fill="#8ce8fb" stroke="#231f20" stroke-width="1.1" /><circle cx="271.50" cy="364.54" r="4.6" fill="#8ce8fb" stroke="#231f20" stroke-width="1.1" /><circle cx="276.36" cy="382.32" r="4.6" fill="#8ce8fb" stroke="#231f20" stroke-width="1.1" /><circle cx="281.04" cy="377.64" r="4.6" fill="#8ce8fb" stroke="#231f20" stroke-width="1.1" /><circle cx="285.72" cy="384.19" r="4.6" fill="#8ce8fb" stroke="#231f20" stroke-width="1.1" /><circle cx="290.40" cy="375.77" r="4.6" fill="#8ce8fb" stroke="#231f20" stroke-width="1.1" /><circle cx="295.08" cy="402.91" r="4.6" fill="#8ce8fb" stroke="#231f20" stroke-width="1.1" /><circle cx="299.76" cy="410.39" r="4.6" fill="#8ce8fb" stroke="#231f20" stroke-width="1.1" /><circle cx="304.81" cy="410.39" r="4.6" fill="#8ce8fb" stroke="#231f20" stroke-width="1.1" /><circle cx="309.49" cy="416.01" r="4.6" fill="#8ce8fb" stroke="#231f20" stroke-width="1.1" /><circle cx="314.17" cy="423.87" r="4.6" fill="#8ce8fb" stroke="#231f20" stroke-width="1.1" /><circle cx="318.85" cy="401.03" r="4.6" fill="#8ce8fb" stroke="#231f20" stroke-width="1.1" /><circle cx="323.53" cy="408.90" r="4.6" fill="#8ce8fb" stroke="#231f20" stroke-width="1.1" /><circle cx="327.64" cy="405.71" r="4.6" fill="#8ce8fb" stroke="#231f20" stroke-width="1.1" /><circle cx="332.51" cy="378.01" r="4.6" fill="#8ce8fb" stroke="#231f20" stroke-width="1.1" /><circle cx="337.00" cy="408.90" r="4.6" fill="#8ce8fb" stroke="#231f20" stroke-width="1.1" /><circle cx="341.68" cy="415.45" r="4.6" fill="#8ce8fb" stroke="#231f20" stroke-width="1.1" /><circle cx="346.55" cy="415.07" r="4.6" fill="#8ce8fb" stroke="#231f20" stroke-width="1.1" /><circle cx="351.23" cy="416.94" r="4.6" fill="#8ce8fb" stroke="#231f20" stroke-width="1.1" /><circle cx="356.28" cy="410.95" r="4.6" fill="#8ce8fb" stroke="#231f20" stroke-width="1.1" /><circle cx="360.58" cy="407.02" r="4.6" fill="#8ce8fb" stroke="#231f20" stroke-width="1.1" /><circle cx="365.64" cy="367.91" r="4.6" fill="#8ce8fb" stroke="#231f20" stroke-width="1.1" /><circle cx="370.32" cy="363.04" r="4.6" fill="#8ce8fb" stroke="#231f20" stroke-width="1.1" /><circle cx="375.18" cy="354.81" r="4.6" fill="#8ce8fb" stroke="#231f20" stroke-width="1.1" /><circle cx="379.67" cy="371.46" r="4.6" fill="#8ce8fb" stroke="#231f20" stroke-width="1.1" /><circle cx="384.54" cy="358.36" r="4.6" fill="#8ce8fb" stroke="#231f20" stroke-width="1.1" /><circle cx="389.03" cy="358.36" r="4.6" fill="#8ce8fb" stroke="#231f20" stroke-width="1.1" /><circle cx="393.71" cy="337.40" r="4.6" fill="#8ce8fb" stroke="#231f20" stroke-width="1.1" /><circle cx="398.02" cy="325.23" r="4.6" fill="#8ce8fb" stroke="#231f20" stroke-width="1.1" /><circle cx="402.70" cy="343.39" r="4.6" fill="#8ce8fb" stroke="#231f20" stroke-width="1.1" /><circle cx="407.37" cy="353.31" r="4.6" fill="#8ce8fb" stroke="#231f20" stroke-width="1.1" /><circle cx="411.87" cy="350.88" r="4.6" fill="#8ce8fb" stroke="#231f20" stroke-width="1.1" /><circle cx="416.55" cy="358.92" r="4.6" fill="#8ce8fb" stroke="#231f20" stroke-width="1.1" /><circle cx="421.41" cy="366.41" r="4.6" fill="#8ce8fb" stroke="#231f20" stroke-width="1.1" /><circle cx="426.09" cy="388.31" r="4.6" fill="#8ce8fb" stroke="#231f20" stroke-width="1.1" /><circle cx="431.14" cy="381.38" r="4.6" fill="#8ce8fb" stroke="#231f20" stroke-width="1.1" /><circle cx="435.26" cy="377.64" r="4.6" fill="#8ce8fb" stroke="#231f20" stroke-width="1.1" /><circle cx="440.13" cy="373.90" r="4.6" fill="#8ce8fb" stroke="#231f20" stroke-width="1.1" /><circle cx="444.81" cy="343.02" r="4.6" fill="#8ce8fb" stroke="#231f20" stroke-width="1.1" /><circle cx="449.06" cy="360.80" r="4.6" fill="#8ce8fb" stroke="#231f20" stroke-width="1.1" /><circle cx="454.12" cy="381.76" r="4.6" fill="#8ce8fb" stroke="#231f20" stroke-width="1.1" /><circle cx="458.80" cy="382.32" r="4.6" fill="#8ce8fb" stroke="#231f20" stroke-width="1.1" /><circle cx="463.10" cy="364.54" r="4.6" fill="#8ce8fb" stroke="#231f20" stroke-width="1.1" /><circle cx="467.78" cy="358.92" r="4.6" fill="#8ce8fb" stroke="#231f20" stroke-width="1.1" /><circle cx="472.46" cy="352.00" r="4.6" fill="#8ce8fb" stroke="#231f20" stroke-width="1.1" /><circle cx="477.14" cy="364.54" r="4.6" fill="#8ce8fb" stroke="#231f20" stroke-width="1.1" /><circle cx="482.19" cy="327.11" r="4.6" fill="#8ce8fb" stroke="#231f20" stroke-width="1.1" /><circle cx="486.87" cy="351.44" r="4.6" fill="#8ce8fb" stroke="#231f20" stroke-width="1.1" /><circle cx="491.55" cy="357.05" r="4.6" fill="#8ce8fb" stroke="#231f20" stroke-width="1.1" /><circle cx="496.23" cy="362.67" r="4.6" fill="#8ce8fb" stroke="#231f20" stroke-width="1.1" /><circle cx="500.91" cy="378.01" r="4.6" fill="#8ce8fb" stroke="#231f20" stroke-width="1.1" /><circle cx="505.59" cy="323.36" r="4.6" fill="#8ce8fb" stroke="#231f20" stroke-width="1.1" /><circle cx="510.27" cy="340.21" r="4.6" fill="#8ce8fb" stroke="#231f20" stroke-width="1.1" /><circle cx="514.94" cy="350.50" r="4.6" fill="#8ce8fb" stroke="#231f20" stroke-width="1.1" /><circle cx="519.81" cy="343.02" r="4.6" fill="#8ce8fb" stroke="#231f20" stroke-width="1.1" /><circle cx="524.49" cy="324.86" r="4.6" fill="#8ce8fb" stroke="#231f20" stroke-width="1.1" /><circle cx="529.17" cy="333.66" r="4.6" fill="#8ce8fb" stroke="#231f20" stroke-width="1.1" /><circle cx="533.66" cy="337.96" r="4.6" fill="#8ce8fb" stroke="#231f20" stroke-width="1.1" /><circle cx="537.97" cy="331.79" r="4.6" fill="#8ce8fb" stroke="#231f20" stroke-width="1.1" /><circle cx="542.64" cy="319.25" r="4.6" fill="#8ce8fb" stroke="#231f20" stroke-width="1.1" /><circle cx="547.32" cy="308.39" r="4.6" fill="#8ce8fb" stroke="#231f20" stroke-width="1.1" /><circle cx="552.00" cy="301.84" r="4.6" fill="#8ce8fb" stroke="#231f20" stroke-width="1.1" /><circle cx="556.68" cy="305.96" r="4.6" fill="#8ce8fb" stroke="#231f20" stroke-width="1.1" /><circle cx="561.36" cy="296.22" r="4.6" fill="#8ce8fb" stroke="#231f20" stroke-width="1.1" /><circle cx="566.41" cy="283.12" r="4.6" fill="#8ce8fb" stroke="#231f20" stroke-width="1.1" /><circle cx="571.09" cy="264.41" r="4.6" fill="#8ce8fb" stroke="#231f20" stroke-width="1.1" /><circle cx="575.77" cy="266.84" r="4.6" fill="#8ce8fb" stroke="#231f20" stroke-width="1.1" /><circle cx="580.45" cy="291.55" r="4.6" fill="#8ce8fb" stroke="#231f20" stroke-width="1.1" /><circle cx="585.13" cy="261.60" r="4.6" fill="#8ce8fb" stroke="#231f20" stroke-width="1.1" /><circle cx="590.00" cy="254.68" r="4.6" fill="#8ce8fb" stroke="#231f20" stroke-width="1.1" /><circle cx="594.68" cy="280.88" r="4.6" fill="#8ce8fb" stroke="#231f20" stroke-width="1.1" /><circle cx="599.35" cy="290.61" r="4.6" fill="#8ce8fb" stroke="#231f20" stroke-width="1.1" /><circle cx="603.47" cy="298.10" r="4.6" fill="#8ce8fb" stroke="#231f20" stroke-width="1.1" /><circle cx="608.15" cy="317.75" r="4.6" fill="#8ce8fb" stroke="#231f20" stroke-width="1.1" /><circle cx="612.83" cy="305.96" r="4.6" fill="#8ce8fb" stroke="#231f20" stroke-width="1.1" /><circle cx="617.51" cy="300.90" r="4.6" fill="#8ce8fb" stroke="#231f20" stroke-width="1.1" /><circle cx="622.19" cy="311.20" r="4.6" fill="#8ce8fb" stroke="#231f20" stroke-width="1.1" /><circle cx="626.87" cy="311.20" r="4.6" fill="#8ce8fb" stroke="#231f20" stroke-width="1.1" /><circle cx="631.55" cy="314.01" r="4.6" fill="#8ce8fb" stroke="#231f20" stroke-width="1.1" /><circle cx="636.60" cy="319.62" r="4.6" fill="#8ce8fb" stroke="#231f20" stroke-width="1.1" /><circle cx="641.28" cy="307.08" r="4.6" fill="#8ce8fb" stroke="#231f20" stroke-width="1.1" /><circle cx="645.96" cy="321.49" r="4.6" fill="#8ce8fb" stroke="#231f20" stroke-width="1.1" /><circle cx="650.64" cy="282.19" r="4.6" fill="#8ce8fb" stroke="#231f20" stroke-width="1.1" /><circle cx="655.50" cy="325.23" r="4.6" fill="#8ce8fb" stroke="#231f20" stroke-width="1.1" /><circle cx="660.18" cy="334.59" r="4.6" fill="#8ce8fb" stroke="#231f20" stroke-width="1.1" /><circle cx="664.86" cy="347.69" r="4.6" fill="#8ce8fb" stroke="#231f20" stroke-width="1.1" /><circle cx="669.35" cy="379.51" r="4.6" fill="#8ce8fb" stroke="#231f20" stroke-width="1.1" /><circle cx="673.66" cy="389.81" r="4.6" fill="#8ce8fb" stroke="#231f20" stroke-width="1.1" /><circle cx="678.34" cy="368.28" r="4.6" fill="#8ce8fb" stroke="#231f20" stroke-width="1.1" /><circle cx="683.02" cy="363.60" r="4.6" fill="#8ce8fb" stroke="#231f20" stroke-width="1.1" /><circle cx="687.69" cy="381.38" r="4.6" fill="#8ce8fb" stroke="#231f20" stroke-width="1.1" /><circle cx="692.75" cy="373.90" r="4.6" fill="#8ce8fb" stroke="#231f20" stroke-width="1.1" />
<path d="M281.0 427.2 V435.9M285.7 433.9 V441.1M290.4 432.8 V446.7M295.1 436.0 V444.7M299.8 434.2 V445.4M304.8 428.1 V441.4M309.5 404.5 V416.3M314.2 367.1 V377.0M318.9 334.8 V346.4M323.5 310.2 V345.8M327.6 240.5 V281.9M332.5 243.9 V268.1M337.0 221.8 V257.6M342.2 203.1 V265.0M346.6 186.0 V249.6M351.2 159.0 V230.5M356.3 159.0 V193.7M360.6 159.0 V225.2M365.6 159.0 V227.3M370.3 159.0 V241.3M375.2 172.0 V244.9M379.7 178.0 V260.3M384.5 184.9 V261.2M389.4 194.8 V271.5M393.7 237.5 V324.3M398.0 248.3 V321.7M402.7 251.3 V329.2M407.4 254.2 V328.9M411.9 265.9 V341.5M416.6 283.2 V348.6M421.4 295.8 V368.6M426.1 304.9 V380.4M431.1 324.6 V371.5M435.3 329.2 V388.7M440.1 323.6 V384.1M444.8 338.8 V395.9M449.1 340.3 V373.8M454.1 314.4 V347.3M458.8 311.3 V354.9M463.1 304.9 V336.2M467.8 310.2 V347.0M472.5 325.0 V356.2M477.5 314.0 V365.3M482.2 330.4 V385.6M486.9 336.9 V395.9M491.6 318.2 V352.1M496.2 311.5 V364.4M500.9 322.6 V373.6M505.6 343.1 V376.7M510.3 300.7 V359.1M514.9 290.5 V351.8M519.8 300.6 V336.8M524.5 276.1 V336.9M529.2 274.2 V316.4M533.7 222.2 V267.3M538.3 222.2 V284.2M542.6 260.7 V317.5M547.3 290.3 V324.6M552.0 291.8 V335.1M556.7 321.4 V367.6M561.4 331.9 V372.1M566.4 330.6 V365.9M571.1 311.1 V350.6M575.8 296.8 V349.9M580.5 310.5 V340.0M585.3 286.0 V333.4M590.0 312.8 V356.4M594.7 350.8 V380.2M599.4 322.7 V362.6M603.9 313.1 V362.8M608.1 322.8 V368.8M612.8 309.2 V340.2M617.5 320.5 V382.4M622.2 319.7 V375.0M626.9 287.6 V349.0M631.5 289.8 V322.1M636.6 293.3 V331.0M641.3 315.2 V345.4M646.0 306.2 V361.1M650.6 298.8 V336.7M655.5 320.5 V353.6M660.2 300.0 V343.0M664.9 312.9 V372.4M669.4 341.4 V397.7M673.7 335.9 V373.4M678.3 314.5 V348.3M683.0 319.3 V379.0M687.7 350.8 V398.8M692.8 338.4 V390.7" stroke="#444" stroke-width="1.1" fill="none"/>
<polyline points="220.6,359.3 225.3,374.8 229.6,381.8 234.2,387.0 238.7,390.7 243.4,392.2 248.3,393.6 252.8,394.5 257.1,395.2 261.8,400.7 266.8,391.7 271.5,408.0 276.4,421.1 281.0,431.5 285.7,437.5 290.4,439.8 295.1,440.3 299.8,439.8 304.8,434.7 309.5,410.4 314.2,372.0 318.9,340.6 323.5,328.0 327.6,261.2 332.5,256.0 337.0,239.7 342.2,234.1 346.6,217.8 351.2,184.9 356.3,155.5 360.6,185.4 365.6,182.1 370.3,191.8 375.2,208.4 379.7,219.1 384.5,223.1 389.4,233.2 393.7,280.9 398.0,285.0 402.7,290.2 407.4,291.6 411.9,303.7 416.6,315.9 421.4,332.2 426.1,342.6 431.1,348.1 435.3,358.9 440.1,353.9 444.8,367.4 449.1,357.1 454.1,330.9 458.8,333.1 463.1,320.6 467.8,328.6 472.5,340.6 477.5,339.6 482.2,358.0 486.9,366.4 491.6,335.1 496.2,338.0 500.9,348.1 505.6,359.9 510.3,329.9 514.9,321.1 519.8,318.7 524.5,306.5 529.2,295.3 533.7,244.8 538.3,253.2 542.6,289.1 547.3,307.4 552.0,313.4 556.7,344.5 561.4,352.0 566.4,348.3 571.1,330.9 575.8,323.4 580.5,325.2 585.3,309.7 590.0,334.6 594.7,365.5 599.4,342.6 603.9,338.0 608.1,345.8 612.8,324.7 617.5,351.4 622.2,347.3 626.9,318.3 631.5,306.0 636.6,312.1 641.3,330.3 646.0,333.7 650.6,317.8 655.5,337.0 660.2,321.5 664.9,342.6 669.4,369.6 673.7,354.6 678.3,331.4 683.0,349.2 687.7,374.8 692.8,364.5" fill="none" stroke="#231f20" stroke-width="1.5" />
<circle cx="220.59" cy="359.30" r="4.7" fill="#0e9a64" stroke="#000" stroke-width="1.2" /><circle cx="225.27" cy="374.83" r="4.7" fill="#0e9a64" stroke="#000" stroke-width="1.2" /><circle cx="229.57" cy="381.76" r="4.7" fill="#0e9a64" stroke="#000" stroke-width="1.2" /><circle cx="234.25" cy="387.00" r="4.7" fill="#0e9a64" stroke="#000" stroke-width="1.2" /><circle cx="238.74" cy="390.74" r="4.7" fill="#0e9a64" stroke="#000" stroke-width="1.2" /><circle cx="243.42" cy="392.24" r="4.7" fill="#0e9a64" stroke="#000" stroke-width="1.2" /><circle cx="248.29" cy="393.55" r="4.7" fill="#0e9a64" stroke="#000" stroke-width="1.2" /><circle cx="252.78" cy="394.48" r="4.7" fill="#0e9a64" stroke="#000" stroke-width="1.2" /><circle cx="257.08" cy="395.23" r="4.7" fill="#0e9a64" stroke="#000" stroke-width="1.2" /><circle cx="261.76" cy="400.66" r="4.7" fill="#0e9a64" stroke="#000" stroke-width="1.2" /><circle cx="266.82" cy="391.68" r="4.7" fill="#0e9a64" stroke="#000" stroke-width="1.2" /><circle cx="271.50" cy="407.96" r="4.7" fill="#0e9a64" stroke="#000" stroke-width="1.2" /><circle cx="276.36" cy="421.06" r="4.7" fill="#0e9a64" stroke="#000" stroke-width="1.2" /><circle cx="281.04" cy="431.54" r="4.7" fill="#0e9a64" stroke="#000" stroke-width="1.2" /><circle cx="285.72" cy="437.53" r="4.7" fill="#0e9a64" stroke="#000" stroke-width="1.2" /><circle cx="290.40" cy="439.78" r="4.7" fill="#0e9a64" stroke="#000" stroke-width="1.2" /><circle cx="295.08" cy="440.34" r="4.7" fill="#0e9a64" stroke="#000" stroke-width="1.2" /><circle cx="299.76" cy="439.78" r="4.7" fill="#0e9a64" stroke="#000" stroke-width="1.2" /><circle cx="304.81" cy="434.72" r="4.7" fill="#0e9a64" stroke="#000" stroke-width="1.2" /><circle cx="309.49" cy="410.39" r="4.7" fill="#0e9a64" stroke="#000" stroke-width="1.2" /><circle cx="314.17" cy="372.03" r="4.7" fill="#0e9a64" stroke="#000" stroke-width="1.2" /><circle cx="318.85" cy="340.58" r="4.7" fill="#0e9a64" stroke="#000" stroke-width="1.2" /><circle cx="323.53" cy="328.04" r="4.7" fill="#0e9a64" stroke="#000" stroke-width="1.2" /><circle cx="327.64" cy="261.23" r="4.7" fill="#0e9a64" stroke="#000" stroke-width="1.2" /><circle cx="332.51" cy="255.99" r="4.7" fill="#0e9a64" stroke="#000" stroke-width="1.2" /><circle cx="337.00" cy="239.70" r="4.7" fill="#0e9a64" stroke="#000" stroke-width="1.2" /><circle cx="342.24" cy="234.09" r="4.7" fill="#0e9a64" stroke="#000" stroke-width="1.2" /><circle cx="346.55" cy="217.80" r="4.7" fill="#0e9a64" stroke="#000" stroke-width="1.2" /><circle cx="351.23" cy="184.86" r="4.7" fill="#0e9a64" stroke="#000" stroke-width="1.2" /><circle cx="356.28" cy="155.48" r="4.7" fill="#0e9a64" stroke="#000" stroke-width="1.2" /><circle cx="360.58" cy="185.43" r="4.7" fill="#0e9a64" stroke="#000" stroke-width="1.2" /><circle cx="365.64" cy="182.06" r="4.7" fill="#0e9a64" stroke="#000" stroke-width="1.2" /><circle cx="370.32" cy="191.79" r="4.7" fill="#0e9a64" stroke="#000" stroke-width="1.2" /><circle cx="375.18" cy="208.45" r="4.7" fill="#0e9a64" stroke="#000" stroke-width="1.2" /><circle cx="379.67" cy="219.11" r="4.7" fill="#0e9a64" stroke="#000" stroke-width="1.2" /><circle cx="384.54" cy="223.05" r="4.7" fill="#0e9a64" stroke="#000" stroke-width="1.2" /><circle cx="389.41" cy="233.15" r="4.7" fill="#0e9a64" stroke="#000" stroke-width="1.2" /><circle cx="393.71" cy="280.88" r="4.7" fill="#0e9a64" stroke="#000" stroke-width="1.2" /><circle cx="398.02" cy="285.00" r="4.7" fill="#0e9a64" stroke="#000" stroke-width="1.2" /><circle cx="402.70" cy="290.24" r="4.7" fill="#0e9a64" stroke="#000" stroke-width="1.2" /><circle cx="407.37" cy="291.55" r="4.7" fill="#0e9a64" stroke="#000" stroke-width="1.2" /><circle cx="411.87" cy="303.71" r="4.7" fill="#0e9a64" stroke="#000" stroke-width="1.2" /><circle cx="416.55" cy="315.88" r="4.7" fill="#0e9a64" stroke="#000" stroke-width="1.2" /><circle cx="421.41" cy="332.16" r="4.7" fill="#0e9a64" stroke="#000" stroke-width="1.2" /><circle cx="426.09" cy="342.64" r="4.7" fill="#0e9a64" stroke="#000" stroke-width="1.2" /><circle cx="431.14" cy="348.07" r="4.7" fill="#0e9a64" stroke="#000" stroke-width="1.2" /><circle cx="435.26" cy="358.92" r="4.7" fill="#0e9a64" stroke="#000" stroke-width="1.2" /><circle cx="440.13" cy="353.87" r="4.7" fill="#0e9a64" stroke="#000" stroke-width="1.2" /><circle cx="444.81" cy="367.35" r="4.7" fill="#0e9a64" stroke="#000" stroke-width="1.2" /><circle cx="449.06" cy="357.05" r="4.7" fill="#0e9a64" stroke="#000" stroke-width="1.2" /><circle cx="454.12" cy="330.85" r="4.7" fill="#0e9a64" stroke="#000" stroke-width="1.2" /><circle cx="458.80" cy="333.10" r="4.7" fill="#0e9a64" stroke="#000" stroke-width="1.2" /><circle cx="463.10" cy="320.56" r="4.7" fill="#0e9a64" stroke="#000" stroke-width="1.2" /><circle cx="467.78" cy="328.60" r="4.7" fill="#0e9a64" stroke="#000" stroke-width="1.2" /><circle cx="472.46" cy="340.58" r="4.7" fill="#0e9a64" stroke="#000" stroke-width="1.2" /><circle cx="477.51" cy="339.65" r="4.7" fill="#0e9a64" stroke="#000" stroke-width="1.2" /><circle cx="482.19" cy="357.99" r="4.7" fill="#0e9a64" stroke="#000" stroke-width="1.2" /><circle cx="486.87" cy="366.41" r="4.7" fill="#0e9a64" stroke="#000" stroke-width="1.2" /><circle cx="491.55" cy="335.15" r="4.7" fill="#0e9a64" stroke="#000" stroke-width="1.2" /><circle cx="496.23" cy="337.96" r="4.7" fill="#0e9a64" stroke="#000" stroke-width="1.2" /><circle cx="500.91" cy="348.07" r="4.7" fill="#0e9a64" stroke="#000" stroke-width="1.2" /><circle cx="505.59" cy="359.86" r="4.7" fill="#0e9a64" stroke="#000" stroke-width="1.2" /><circle cx="510.27" cy="329.91" r="4.7" fill="#0e9a64" stroke="#000" stroke-width="1.2" /><circle cx="514.94" cy="321.12" r="4.7" fill="#0e9a64" stroke="#000" stroke-width="1.2" /><circle cx="519.81" cy="318.68" r="4.7" fill="#0e9a64" stroke="#000" stroke-width="1.2" /><circle cx="524.49" cy="306.52" r="4.7" fill="#0e9a64" stroke="#000" stroke-width="1.2" /><circle cx="529.17" cy="295.29" r="4.7" fill="#0e9a64" stroke="#000" stroke-width="1.2" /><circle cx="533.66" cy="244.76" r="4.7" fill="#0e9a64" stroke="#000" stroke-width="1.2" /><circle cx="538.34" cy="253.18" r="4.7" fill="#0e9a64" stroke="#000" stroke-width="1.2" /><circle cx="542.64" cy="289.11" r="4.7" fill="#0e9a64" stroke="#000" stroke-width="1.2" /><circle cx="547.32" cy="307.45" r="4.7" fill="#0e9a64" stroke="#000" stroke-width="1.2" /><circle cx="552.00" cy="313.44" r="4.7" fill="#0e9a64" stroke="#000" stroke-width="1.2" /><circle cx="556.68" cy="344.51" r="4.7" fill="#0e9a64" stroke="#000" stroke-width="1.2" /><circle cx="561.36" cy="352.00" r="4.7" fill="#0e9a64" stroke="#000" stroke-width="1.2" /><circle cx="566.41" cy="348.26" r="4.7" fill="#0e9a64" stroke="#000" stroke-width="1.2" /><circle cx="571.09" cy="330.85" r="4.7" fill="#0e9a64" stroke="#000" stroke-width="1.2" /><circle cx="575.77" cy="323.36" r="4.7" fill="#0e9a64" stroke="#000" stroke-width="1.2" /><circle cx="580.45" cy="325.23" r="4.7" fill="#0e9a64" stroke="#000" stroke-width="1.2" /><circle cx="585.32" cy="309.70" r="4.7" fill="#0e9a64" stroke="#000" stroke-width="1.2" /><circle cx="590.00" cy="334.59" r="4.7" fill="#0e9a64" stroke="#000" stroke-width="1.2" /><circle cx="594.68" cy="365.47" r="4.7" fill="#0e9a64" stroke="#000" stroke-width="1.2" /><circle cx="599.35" cy="342.64" r="4.7" fill="#0e9a64" stroke="#000" stroke-width="1.2" /><circle cx="603.85" cy="337.96" r="4.7" fill="#0e9a64" stroke="#000" stroke-width="1.2" /><circle cx="608.15" cy="345.82" r="4.7" fill="#0e9a64" stroke="#000" stroke-width="1.2" /><circle cx="612.83" cy="324.67" r="4.7" fill="#0e9a64" stroke="#000" stroke-width="1.2" /><circle cx="617.51" cy="351.44" r="4.7" fill="#0e9a64" stroke="#000" stroke-width="1.2" /><circle cx="622.19" cy="347.32" r="4.7" fill="#0e9a64" stroke="#000" stroke-width="1.2" /><circle cx="626.87" cy="318.31" r="4.7" fill="#0e9a64" stroke="#000" stroke-width="1.2" /><circle cx="631.55" cy="305.96" r="4.7" fill="#0e9a64" stroke="#000" stroke-width="1.2" /><circle cx="636.60" cy="312.13" r="4.7" fill="#0e9a64" stroke="#000" stroke-width="1.2" /><circle cx="641.28" cy="330.29" r="4.7" fill="#0e9a64" stroke="#000" stroke-width="1.2" /><circle cx="645.96" cy="333.66" r="4.7" fill="#0e9a64" stroke="#000" stroke-width="1.2" /><circle cx="650.64" cy="317.75" r="4.7" fill="#0e9a64" stroke="#000" stroke-width="1.2" /><circle cx="655.50" cy="337.03" r="4.7" fill="#0e9a64" stroke="#000" stroke-width="1.2" /><circle cx="660.18" cy="321.49" r="4.7" fill="#0e9a64" stroke="#000" stroke-width="1.2" /><circle cx="664.86" cy="342.64" r="4.7" fill="#0e9a64" stroke="#000" stroke-width="1.2" /><circle cx="669.35" cy="369.59" r="4.7" fill="#0e9a64" stroke="#000" stroke-width="1.2" /><circle cx="673.66" cy="354.62" r="4.7" fill="#0e9a64" stroke="#000" stroke-width="1.2" /><circle cx="678.34" cy="331.41" r="4.7" fill="#0e9a64" stroke="#000" stroke-width="1.2" /><circle cx="683.02" cy="349.19" r="4.7" fill="#0e9a64" stroke="#000" stroke-width="1.2" /><circle cx="687.69" cy="374.83" r="4.7" fill="#0e9a64" stroke="#000" stroke-width="1.2" /><circle cx="692.75" cy="364.54" r="4.7" fill="#0e9a64" stroke="#000" stroke-width="1.2" />
<line x1="221.30" y1="134.50" x2="221.30" y2="453.90" stroke="#000" stroke-width="4.8" />
<line x1="219.00" y1="451.50" x2="695.50" y2="451.50" stroke="#000" stroke-width="4.8" />
<line x1="210.30" y1="173.10" x2="221.50" y2="173.10" stroke="#000" stroke-width="4.2" />
<line x1="210.30" y1="248.20" x2="221.50" y2="248.20" stroke="#000" stroke-width="4.2" />
<line x1="210.30" y1="321.80" x2="221.50" y2="321.80" stroke="#000" stroke-width="4.2" />
<line x1="210.30" y1="396.10" x2="221.50" y2="396.10" stroke="#000" stroke-width="4.2" />
<line x1="221.50" y1="451.50" x2="221.50" y2="462.00" stroke="#000" stroke-width="4.4" />
<line x1="378.60" y1="451.50" x2="378.60" y2="462.00" stroke="#000" stroke-width="4.4" />
<line x1="535.90" y1="451.50" x2="535.90" y2="462.00" stroke="#000" stroke-width="4.4" />
<line x1="693.20" y1="451.50" x2="693.20" y2="462.00" stroke="#000" stroke-width="4.4" />
<text x="201.50" y="184.40" font-size="29.5" text-anchor="end" >0.06</text>
<text x="201.50" y="331.40" font-size="29.5" text-anchor="end" >0.04</text>
<text x="213.00" y="464.00" font-size="29.5" text-anchor="end" >0</text>
<text x="222.80" y="488.30" font-size="29.5" text-anchor="middle" >0</text>
<text x="373.00" y="488.30" font-size="29.5" text-anchor="middle" >20</text>
<text x="534.30" y="488.30" font-size="29.5" text-anchor="middle" >40</text>
<text x="692.00" y="488.30" font-size="29.5" text-anchor="middle" >60</text>
<text x="460.00" y="527.50" font-size="29" text-anchor="middle" >Time (min)</text>
<text font-size="29" text-anchor="middle" transform="translate(90.00 291.00) rotate(-90)" >GCaMP6</text>
<text font-size="29" text-anchor="middle" transform="translate(124.50 286.00) rotate(-90)" >Fluorescence</text>
<line x1="741.15" y1="231.81" x2="766.95" y2="231.81" stroke="#231f20" stroke-width="1.4" />
<circle cx="753.94" cy="231.81" r="4.8" fill="#0e9a64" stroke="#000" stroke-width="1.1" />
<text x="776.33" y="241.19" font-size="29" >THP-1 Control</text>
<line x1="741.15" y1="276.59" x2="766.95" y2="276.59" stroke="#b01fe3" stroke-width="1.4" />
<circle cx="753.94" cy="276.59" r="4.8" fill="#a90fdb" stroke="#231f20" stroke-width="1.0" />
<text x="776.33" y="285.54" font-size="29" >+ ARC118925</text>
<line x1="741.15" y1="328.61" x2="766.95" y2="328.61" stroke="#231f20" stroke-width="1.4" />
<circle cx="753.94" cy="328.61" r="4.8" fill="#8ce8fb" stroke="#231f20" stroke-width="1.1" />
<text x="776.33" y="337.78" font-size="29" >THP1 LRRC8A-KD</text>
<line x1="741.15" y1="373.18" x2="766.95" y2="373.18" stroke="#b01fe3" stroke-width="4" />
<circle cx="753.94" cy="373.18" r="4.8" fill="#8ce8fb" stroke="#b01fe3" stroke-width="2.0" />
<text x="776.33" y="382.13" font-size="29" >+ ARC118925</text>
</g>
<g id="pb">
<text x="1295.00" y="51.50" font-size="46" font-weight="bold" >b</text>
<rect x="1455.19" y="114.04" width="45.91" height="330.52" fill="#0e9a64" stroke="#1a1a1a" stroke-width="1.9" />
<rect x="1524.49" y="261.69" width="46.44" height="182.87" fill="#8ce8fb" stroke="#1a1a1a" stroke-width="1.9" />
<rect x="1595.38" y="302.74" width="43.25" height="141.82" fill="#a90fdb" stroke="#1a1a1a" stroke-width="1.9" />
<path d="M1536.2 246.8 H1558.6 M1547.4 246.8 V261.2" fill="none" stroke="#000" stroke-width="1.6" />
<path d="M1605.5 271.3 H1627.9 M1616.7 271.3 V302.2" fill="none" stroke="#000" stroke-width="1.6" />
<circle cx="1458.42" cy="111.94" r="4.2" fill="#000" />
<circle cx="1468.02" cy="111.94" r="4.2" fill="#000" />
<circle cx="1478.14" cy="111.94" r="4.2" fill="#000" />
<circle cx="1487.74" cy="111.94" r="4.2" fill="#000" />
<circle cx="1497.87" cy="111.94" r="4.2" fill="#000" />
<circle cx="1547.44" cy="220.15" r="4.2" fill="#000" />
<circle cx="1547.44" cy="228.14" r="4.2" fill="#000" />
<circle cx="1539.98" cy="277.72" r="4.2" fill="#000" />
<circle cx="1555.44" cy="277.72" r="4.2" fill="#000" />
<circle cx="1547.44" cy="293.71" r="4.2" fill="#000" />
<circle cx="1616.74" cy="277.72" r="4.2" fill="#000" />
<circle cx="1616.74" cy="319.30" r="4.2" fill="#000" />
<path d="M1476.0 101.3 V87.7 H1547.4 V101.3" fill="none" stroke="#000" stroke-width="2.0" />
<text x="1513.33" y="82.09" font-size="21" text-anchor="middle" font-style="italic" >p = 0,0006</text>
<line x1="1432.30" y1="97.01" x2="1432.30" y2="445.63" stroke="#000" stroke-width="4" />
<line x1="1421.64" y1="114.61" x2="1432.30" y2="114.61" stroke="#000" stroke-width="3.6" />
<line x1="1421.64" y1="279.32" x2="1432.30" y2="279.32" stroke="#000" stroke-width="3.6" />
<line x1="1421.64" y1="444.03" x2="1432.30" y2="444.03" stroke="#000" stroke-width="3.6" />
<text x="1416.84" y="128.46" font-size="29.5" text-anchor="end" >1</text>
<text x="1415.78" y="459.22" font-size="29.5" text-anchor="end" >0.6</text>
<text font-size="29" text-anchor="middle" transform="translate(1312.90 250.00) rotate(-90)" >Mean peak area</text>
<text font-size="29" text-anchor="middle" transform="translate(1347.01 250.00) rotate(-90)" >(Normalized to Ctrl)</text>
<rect x="1695.10" y="178.01" width="45.84" height="19.78" fill="#0e9a64" stroke="#1a1a1a" stroke-width="1.9" />
<rect x="1695.10" y="229.71" width="45.84" height="19.79" fill="#8ce8fb" stroke="#1a1a1a" stroke-width="1.9" />
<rect x="1695.10" y="281.42" width="45.84" height="19.79" fill="#a90fdb" stroke="#1a1a1a" stroke-width="1.9" />
<text x="1754.26" y="198.29" font-size="29" >THP-1 Control</text>
<text x="1754.26" y="250.53" font-size="29" >THP1 LRRC8A-KD</text>
<text x="1754.26" y="292.64" font-size="29" >THP-1 Control</text>
<text x="1754.26" y="326.76" font-size="29" >+ARC118925</text>
</g>
<g id="pc">
<text x="0.00" y="563.50" font-size="46" font-weight="bold" >c</text>
<text x="62.00" y="577.30" font-size="29" >140 NMDGCl</text>
<path d="M197.2 594.1 L215.3 644.7 A42.6 39.2 0 1 1 199.1 656.5 L158.6 620.5" fill="none" stroke="#231f20" stroke-width="2.6" stroke-linejoin="miter"/>
<text x="102.50" y="828.60" font-size="29" >100 ms</text>
<line x1="141.30" y1="838.50" x2="201.80" y2="838.50" stroke="#231f20" stroke-width="2.8" />
<line x1="129.80" y1="843.30" x2="129.80" y2="882.00" stroke="#231f20" stroke-width="2.8" />
<text x="44.80" y="876.60" font-size="29" >1 nA</text>
<text x="394.00" y="584.00" font-size="29" >Isotonic</text>
<text x="656.70" y="584.20" font-size="29" >Hypotonic</text>
<text x="932.80" y="573.00" font-size="29" >Hypotonic</text>
<text x="932.80" y="608.70" font-size="29" >+ ARC118925</text>
<line x1="308.00" y1="788.90" x2="1219.50" y2="788.90" stroke="#1a1a1a" stroke-width="2.4" stroke-dasharray="8.6 8.0" stroke-dashoffset="5"/>
<line x1="336.64" y1="788.88" x2="365.16" y2="788.88" stroke="#1a1a1a" stroke-width="1.4" />
<line x1="336.64" y1="784.62" x2="336.64" y2="789.41" stroke="#1a1a1a" stroke-width="0.8" />
<path d="M365.2 770.0 L366.2 772.8 L367.2 774.4 L368.2 775.8 L369.2 776.9 L370.2 777.8 L371.2 778.6 L372.2 779.2 L373.2 779.7 L374.2 780.1 L375.2 780.4 L376.2 780.7 L377.2 780.9 L378.2 781.1 L379.2 781.3 L380.2 781.4 L381.2 781.5 L382.2 781.6 L383.2 781.6 L384.2 781.7 L385.2 781.7 L386.2 781.8 L387.2 781.8 L388.2 781.8 L389.2 781.9 L390.2 781.9 L391.2 781.9 L392.2 781.9 L393.2 781.9 L394.2 781.9 L395.2 781.9 L396.2 781.9 L397.2 781.9 L398.2 781.9 L399.2 781.9 L400.2 781.9 L401.2 781.9 L402.2 781.9 L403.2 781.9 L404.2 781.9 L584.5 782.2 L584.5 792.9 L404.2 792.9 L403.2 792.9 L402.2 792.9 L401.2 792.9 L400.2 792.9 L399.2 792.9 L398.2 792.9 L397.2 792.9 L396.2 792.9 L395.2 792.9 L394.2 792.9 L393.2 792.9 L392.2 792.9 L391.2 792.9 L390.2 792.9 L389.2 792.9 L388.2 792.9 L387.2 792.9 L386.2 792.9 L385.2 792.9 L384.2 792.9 L383.2 792.9 L382.2 792.9 L381.2 792.9 L380.2 792.9 L379.2 793.0 L378.2 793.0 L377.2 793.0 L376.2 793.1 L375.2 793.1 L374.2 793.2 L373.2 793.3 L372.2 793.4 L371.2 793.5 L370.2 793.7 L369.2 794.0 L368.2 794.3 L367.2 794.7 L366.2 795.2 L365.2 795.8 Z" fill="#1a1a1a" stroke="#1a1a1a" stroke-width="0.6"/>
<line x1="366.66" y1="773.16" x2="371.16" y2="775.16" stroke="#fff" stroke-width="0.5" />
<line x1="366.66" y1="776.89" x2="372.16" y2="778.89" stroke="#fff" stroke-width="0.5" />
<line x1="366.66" y1="780.62" x2="373.16" y2="782.62" stroke="#fff" stroke-width="0.5" />
<line x1="366.66" y1="784.35" x2="374.16" y2="783.35" stroke="#fff" stroke-width="0.5" />
<line x1="366.66" y1="788.08" x2="375.16" y2="787.08" stroke="#fff" stroke-width="0.5" />
<line x1="584.51" y1="732.64" x2="584.51" y2="809.94" stroke="#1a1a1a" stroke-width="0.9" />
<polygon points="584.5,784.9 589.5,787.3 612.5,788.9 592.5,792.4" fill="#1a1a1a"/><polygon points="584.5,791.3 589.5,791.3 585.7,801.9" fill="#1a1a1a"/>
<line x1="629.28" y1="798.43" x2="656.78" y2="798.43" stroke="#1a1a1a" stroke-width="1.6" />
<line x1="656.78" y1="713.19" x2="656.78" y2="813.14" stroke="#333" stroke-width="1.0" />
<line x1="876.68" y1="750.45" x2="876.68" y2="811.54" stroke="#555" stroke-width="0.8" />
<polyline points="656.8,716.6 658.0,721.0 659.2,724.2 660.4,726.5 661.6,728.2 662.8,729.4 664.0,730.4 665.2,731.2 666.4,731.9 667.6,732.5 668.8,733.0 670.0,733.4 671.2,733.9 672.4,734.3 673.6,734.7 674.8,735.0 676.0,735.4 677.2,735.7 678.4,736.1 679.6,736.4 680.8,736.7 682.0,737.0 683.2,737.3 684.4,737.6 685.6,737.9 686.8,738.2 688.0,738.4 689.2,738.7 690.4,738.9 691.6,739.2 692.8,739.4 694.0,739.7 695.2,739.9 696.4,740.1 697.6,740.4 698.8,740.6 700.0,740.8 701.2,741.0 702.4,741.2 703.6,741.4 704.8,741.6 706.0,741.8 707.2,741.9 708.5,742.1 709.7,742.3 710.9,742.5 712.1,742.6 713.3,742.8 714.5,743.0 715.7,743.1 716.9,743.3 718.1,743.4 719.3,743.6 720.5,743.7 721.7,743.9 722.9,744.0 724.1,744.1 725.3,744.3 726.5,744.4 727.7,744.5 728.9,744.7 730.1,744.8 731.3,744.9 732.5,745.0 733.7,745.1 734.9,745.3 736.1,745.4 737.3,745.5 738.5,745.6 739.7,745.7 740.9,745.8 742.1,745.9 743.3,746.0 744.5,746.1 745.7,746.2 746.9,746.3 748.1,746.4 749.3,746.5 750.5,746.6 751.7,746.7 752.9,746.7 754.1,746.8 755.3,746.9 756.5,747.0 757.7,747.1 758.9,747.2 760.1,747.2 761.3,747.3 762.5,747.4 763.7,747.5 764.9,747.6 766.1,747.6 767.3,747.7 768.5,747.8 769.7,747.8 770.9,747.9 772.1,748.0 773.3,748.0 774.5,748.1 775.7,748.2 776.9,748.2 778.1,748.3 779.3,748.4 780.5,748.4 781.8,748.5 783.0,748.5 784.2,748.6 785.4,748.7 786.6,748.7 787.8,748.8 789.0,748.8 790.2,748.9 791.4,748.9 792.6,749.0 793.8,749.1 795.0,749.1 796.2,749.2 797.4,749.2 798.6,749.3 799.8,749.3 801.0,749.4 802.2,749.4 803.4,749.5 804.6,749.5 805.8,749.5 807.0,749.6 808.2,749.6 809.4,749.7 810.6,749.7 811.8,749.8 813.0,749.8 814.2,749.9 815.4,749.9 816.6,749.9 817.8,750.0 819.0,750.0 820.2,750.1 821.4,750.1 822.6,750.1 823.8,750.2 825.0,750.2 826.2,750.3 827.4,750.3 828.6,750.3 829.8,750.4 831.0,750.4 832.2,750.4 833.4,750.5 834.6,750.5 835.8,750.6 837.0,750.6 838.2,750.6 839.4,750.7 840.6,750.7 841.8,750.7 843.0,750.8 844.2,750.8 845.4,750.8 846.6,750.9 847.8,750.9 849.0,750.9 850.2,750.9 851.4,751.0 852.6,751.0 853.8,751.0 855.1,751.1 856.3,751.1 857.5,751.1 858.7,751.2 859.9,751.2 861.1,751.2 862.3,751.2 863.5,751.3 864.7,751.3 865.9,751.3 867.1,751.3 868.3,751.4 869.5,751.4 870.7,751.4 871.9,751.4 873.1,751.5 874.3,751.5 875.5,751.5 876.7,751.5" fill="none" stroke="#222" stroke-width="0.85" stroke-linejoin="round"/>
<polyline points="656.8,732.9 658.0,735.5 659.2,737.3 660.4,738.5 661.6,739.5 662.8,740.2 664.0,740.8 665.2,741.2 666.4,741.6 667.6,742.0 668.8,742.3 670.0,742.5 671.2,742.8 672.4,743.0 673.6,743.2 674.8,743.4 676.0,743.6 677.2,743.8 678.4,744.0 679.6,744.2 680.8,744.4 682.0,744.6 683.2,744.7 684.4,744.9 685.6,745.1 686.8,745.2 688.0,745.4 689.2,745.5 690.4,745.7 691.6,745.8 692.8,746.0 694.0,746.1 695.2,746.2 696.4,746.4 697.6,746.5 698.8,746.6 700.0,746.7 701.2,746.8 702.4,747.0 703.6,747.1 704.8,747.2 706.0,747.3 707.2,747.4 708.5,747.5 709.7,747.6 710.9,747.7 712.1,747.8 713.3,747.9 714.5,748.0 715.7,748.1 716.9,748.1 718.1,748.2 719.3,748.3 720.5,748.4 721.7,748.5 722.9,748.6 724.1,748.6 725.3,748.7 726.5,748.8 727.7,748.8 728.9,748.9 730.1,749.0 731.3,749.1 732.5,749.1 733.7,749.2 734.9,749.3 736.1,749.3 737.3,749.4 738.5,749.4 739.7,749.5 740.9,749.6 742.1,749.6 743.3,749.7 744.5,749.7 745.7,749.8 746.9,749.8 748.1,749.9 749.3,749.9 750.5,750.0 751.7,750.0 752.9,750.1 754.1,750.1 755.3,750.2 756.5,750.2 757.7,750.3 758.9,750.3 760.1,750.4 761.3,750.4 762.5,750.4 763.7,750.5 764.9,750.5 766.1,750.6 767.3,750.6 768.5,750.6 769.7,750.7 770.9,750.7 772.1,750.8 773.3,750.8 774.5,750.8 775.7,750.9 776.9,750.9 778.1,750.9 779.3,751.0 780.5,751.0 781.8,751.0 783.0,751.1 784.2,751.1 785.4,751.1 786.6,751.2 787.8,751.2 789.0,751.2 790.2,751.2 791.4,751.3 792.6,751.3 793.8,751.3 795.0,751.4 796.2,751.4 797.4,751.4 798.6,751.4 799.8,751.5 801.0,751.5 802.2,751.5 803.4,751.6 804.6,751.6 805.8,751.6 807.0,751.6 808.2,751.7 809.4,751.7 810.6,751.7 811.8,751.7 813.0,751.7 814.2,751.8 815.4,751.8 816.6,751.8 817.8,751.8 819.0,751.9 820.2,751.9 821.4,751.9 822.6,751.9 823.8,751.9 825.0,752.0 826.2,752.0 827.4,752.0 828.6,752.0 829.8,752.0 831.0,752.1 832.2,752.1 833.4,752.1 834.6,752.1 835.8,752.1 837.0,752.2 838.2,752.2 839.4,752.2 840.6,752.2 841.8,752.2 843.0,752.3 844.2,752.3 845.4,752.3 846.6,752.3 847.8,752.3 849.0,752.3 850.2,752.4 851.4,752.4 852.6,752.4 853.8,752.4 855.1,752.4 856.3,752.4 857.5,752.5 858.7,752.5 859.9,752.5 861.1,752.5 862.3,752.5 863.5,752.5 864.7,752.5 865.9,752.6 867.1,752.6 868.3,752.6 869.5,752.6 870.7,752.6 871.9,752.6 873.1,752.6 874.3,752.7 875.5,752.7 876.7,752.7" fill="none" stroke="#222" stroke-width="0.85" stroke-linejoin="round"/>
<polyline points="656.8,744.7 658.0,746.9 659.2,748.4 660.4,749.5 661.6,750.3 662.8,750.8 664.0,751.2 665.2,751.5 666.4,751.8 667.6,752.0 668.8,752.2 670.0,752.3 671.2,752.5 672.4,752.6 673.6,752.7 674.8,752.8 676.0,752.9 677.2,753.0 678.4,753.1 679.6,753.2 680.8,753.3 682.0,753.4 683.2,753.5 684.4,753.6 685.6,753.7 686.8,753.7 688.0,753.8 689.2,753.9 690.4,754.0 691.6,754.0 692.8,754.1 694.0,754.2 695.2,754.2 696.4,754.3 697.6,754.3 698.8,754.4 700.0,754.5 701.2,754.5 702.4,754.6 703.6,754.6 704.8,754.7 706.0,754.7 707.2,754.8 708.5,754.8 709.7,754.8 710.9,754.9 712.1,754.9 713.3,755.0 714.5,755.0 715.7,755.1 716.9,755.1 718.1,755.1 719.3,755.2 720.5,755.2 721.7,755.2 722.9,755.3 724.1,755.3 725.3,755.3 726.5,755.4 727.7,755.4 728.9,755.4 730.1,755.4 731.3,755.5 732.5,755.5 733.7,755.5 734.9,755.6 736.1,755.6 737.3,755.6 738.5,755.6 739.7,755.6 740.9,755.7 742.1,755.7 743.3,755.7 744.5,755.7 745.7,755.8 746.9,755.8 748.1,755.8 749.3,755.8 750.5,755.8 751.7,755.9 752.9,755.9 754.1,755.9 755.3,755.9 756.5,755.9 757.7,755.9 758.9,756.0 760.1,756.0 761.3,756.0 762.5,756.0 763.7,756.0 764.9,756.0 766.1,756.0 767.3,756.1 768.5,756.1 769.7,756.1 770.9,756.1 772.1,756.1 773.3,756.1 774.5,756.1 775.7,756.1 776.9,756.2 778.1,756.2 779.3,756.2 780.5,756.2 781.8,756.2 783.0,756.2 784.2,756.2 785.4,756.2 786.6,756.2 787.8,756.3 789.0,756.3 790.2,756.3 791.4,756.3 792.6,756.3 793.8,756.3 795.0,756.3 796.2,756.3 797.4,756.3 798.6,756.3 799.8,756.3 801.0,756.3 802.2,756.4 803.4,756.4 804.6,756.4 805.8,756.4 807.0,756.4 808.2,756.4 809.4,756.4 810.6,756.4 811.8,756.4 813.0,756.4 814.2,756.4 815.4,756.4 816.6,756.4 817.8,756.4 819.0,756.5 820.2,756.5 821.4,756.5 822.6,756.5 823.8,756.5 825.0,756.5 826.2,756.5 827.4,756.5 828.6,756.5 829.8,756.5 831.0,756.5 832.2,756.5 833.4,756.5 834.6,756.5 835.8,756.5 837.0,756.5 838.2,756.5 839.4,756.6 840.6,756.6 841.8,756.6 843.0,756.6 844.2,756.6 845.4,756.6 846.6,756.6 847.8,756.6 849.0,756.6 850.2,756.6 851.4,756.6 852.6,756.6 853.8,756.6 855.1,756.6 856.3,756.6 857.5,756.6 858.7,756.6 859.9,756.6 861.1,756.6 862.3,756.6 863.5,756.6 864.7,756.6 865.9,756.6 867.1,756.7 868.3,756.7 869.5,756.7 870.7,756.7 871.9,756.7 873.1,756.7 874.3,756.7 875.5,756.7 876.7,756.7" fill="none" stroke="#222" stroke-width="0.85" stroke-linejoin="round" stroke-dasharray="14 3 5 2"/>
<polyline points="656.8,757.2 658.0,758.8 659.2,759.8 660.4,760.6 661.6,761.1 662.8,761.5 664.0,761.7 665.2,762.0 666.4,762.1 667.6,762.2 668.8,762.3 670.0,762.4 671.2,762.5 672.4,762.6 673.6,762.7 674.8,762.7 676.0,762.8 677.2,762.8 678.4,762.9 679.6,762.9 680.8,763.0 682.0,763.0 683.2,763.1 684.4,763.1 685.6,763.2 686.8,763.2 688.0,763.2 689.2,763.3 690.4,763.3 691.6,763.4 692.8,763.4 694.0,763.4 695.2,763.5 696.4,763.5 697.6,763.5 698.8,763.6 700.0,763.6 701.2,763.6 702.4,763.6 703.6,763.7 704.8,763.7 706.0,763.7 707.2,763.7 708.5,763.8 709.7,763.8 710.9,763.8 712.1,763.8 713.3,763.8 714.5,763.9 715.7,763.9 716.9,763.9 718.1,763.9 719.3,763.9 720.5,763.9 721.7,764.0 722.9,764.0 724.1,764.0 725.3,764.0 726.5,764.0 727.7,764.0 728.9,764.1 730.1,764.1 731.3,764.1 732.5,764.1 733.7,764.1 734.9,764.1 736.1,764.1 737.3,764.1 738.5,764.1 739.7,764.2 740.9,764.2 742.1,764.2 743.3,764.2 744.5,764.2 745.7,764.2 746.9,764.2 748.1,764.2 749.3,764.2 750.5,764.2 751.7,764.2 752.9,764.3 754.1,764.3 755.3,764.3 756.5,764.3 757.7,764.3 758.9,764.3 760.1,764.3 761.3,764.3 762.5,764.3 763.7,764.3 764.9,764.3 766.1,764.3 767.3,764.3 768.5,764.3 769.7,764.3 770.9,764.3 772.1,764.3 773.3,764.3 774.5,764.4 775.7,764.4 776.9,764.4 778.1,764.4 779.3,764.4 780.5,764.4 781.8,764.4 783.0,764.4 784.2,764.4 785.4,764.4 786.6,764.4 787.8,764.4 789.0,764.4 790.2,764.4 791.4,764.4 792.6,764.4 793.8,764.4 795.0,764.4 796.2,764.4 797.4,764.4 798.6,764.4 799.8,764.4 801.0,764.4 802.2,764.4 803.4,764.4 804.6,764.4 805.8,764.4 807.0,764.4 808.2,764.4 809.4,764.4 810.6,764.4 811.8,764.4 813.0,764.5 814.2,764.5 815.4,764.5 816.6,764.5 817.8,764.5 819.0,764.5 820.2,764.5 821.4,764.5 822.6,764.5 823.8,764.5 825.0,764.5 826.2,764.5 827.4,764.5 828.6,764.5 829.8,764.5 831.0,764.5 832.2,764.5 833.4,764.5 834.6,764.5 835.8,764.5 837.0,764.5 838.2,764.5 839.4,764.5 840.6,764.5 841.8,764.5 843.0,764.5 844.2,764.5 845.4,764.5 846.6,764.5 847.8,764.5 849.0,764.5 850.2,764.5 851.4,764.5 852.6,764.5 853.8,764.5 855.1,764.5 856.3,764.5 857.5,764.5 858.7,764.5 859.9,764.5 861.1,764.5 862.3,764.5 863.5,764.5 864.7,764.5 865.9,764.5 867.1,764.5 868.3,764.5 869.5,764.5 870.7,764.5 871.9,764.5 873.1,764.5 874.3,764.5 875.5,764.5 876.7,764.5" fill="none" stroke="#222" stroke-width="0.85" stroke-linejoin="round"/>
<polyline points="656.8,769.2 658.0,770.1 659.2,770.8 660.4,771.2 661.6,771.5 662.8,771.7 664.0,771.9 665.2,772.0 666.4,772.1 667.6,772.1 668.8,772.2 670.0,772.2 671.2,772.3 672.4,772.3 673.6,772.4 674.8,772.4 676.0,772.4 677.2,772.5 678.4,772.5 679.6,772.5 680.8,772.5 682.0,772.6 683.2,772.6 684.4,772.6 685.6,772.6 686.8,772.7 688.0,772.7 689.2,772.7 690.4,772.7 691.6,772.8 692.8,772.8 694.0,772.8 695.2,772.8 696.4,772.8 697.6,772.8 698.8,772.9 700.0,772.9 701.2,772.9 702.4,772.9 703.6,772.9 704.8,772.9 706.0,772.9 707.2,773.0 708.5,773.0 709.7,773.0 710.9,773.0 712.1,773.0 713.3,773.0 714.5,773.0 715.7,773.0 716.9,773.1 718.1,773.1 719.3,773.1 720.5,773.1 721.7,773.1 722.9,773.1 724.1,773.1 725.3,773.1 726.5,773.1 727.7,773.1 728.9,773.1 730.1,773.2 731.3,773.2 732.5,773.2 733.7,773.2 734.9,773.2 736.1,773.2 737.3,773.2 738.5,773.2 739.7,773.2 740.9,773.2 742.1,773.2 743.3,773.2 744.5,773.2 745.7,773.2 746.9,773.2 748.1,773.3 749.3,773.3 750.5,773.3 751.7,773.3 752.9,773.3 754.1,773.3 755.3,773.3 756.5,773.3 757.7,773.3 758.9,773.3 760.1,773.3 761.3,773.3 762.5,773.3 763.7,773.3 764.9,773.3 766.1,773.3 767.3,773.3 768.5,773.3 769.7,773.3 770.9,773.3 772.1,773.3 773.3,773.3 774.5,773.3 775.7,773.3 776.9,773.3 778.1,773.3 779.3,773.4 780.5,773.4 781.8,773.4 783.0,773.4 784.2,773.4 785.4,773.4 786.6,773.4 787.8,773.4 789.0,773.4 790.2,773.4 791.4,773.4 792.6,773.4 793.8,773.4 795.0,773.4 796.2,773.4 797.4,773.4 798.6,773.4 799.8,773.4 801.0,773.4 802.2,773.4 803.4,773.4 804.6,773.4 805.8,773.4 807.0,773.4 808.2,773.4 809.4,773.4 810.6,773.4 811.8,773.4 813.0,773.4 814.2,773.4 815.4,773.4 816.6,773.4 817.8,773.4 819.0,773.4 820.2,773.4 821.4,773.4 822.6,773.4 823.8,773.4 825.0,773.4 826.2,773.4 827.4,773.4 828.6,773.4 829.8,773.4 831.0,773.4 832.2,773.4 833.4,773.4 834.6,773.4 835.8,773.4 837.0,773.4 838.2,773.4 839.4,773.4 840.6,773.4 841.8,773.4 843.0,773.5 844.2,773.5 845.4,773.5 846.6,773.5 847.8,773.5 849.0,773.5 850.2,773.5 851.4,773.5 852.6,773.5 853.8,773.5 855.1,773.5 856.3,773.5 857.5,773.5 858.7,773.5 859.9,773.5 861.1,773.5 862.3,773.5 863.5,773.5 864.7,773.5 865.9,773.5 867.1,773.5 868.3,773.5 869.5,773.5 870.7,773.5 871.9,773.5 873.1,773.5 874.3,773.5 875.5,773.5 876.7,773.5" fill="none" stroke="#222" stroke-width="0.7" stroke-linejoin="round" stroke-dasharray="9 6 1 7 1 12"/>
<polyline points="656.8,779.6 658.0,780.0 659.2,780.3 660.4,780.4 661.6,780.6 662.8,780.6 664.0,780.7 665.2,780.8 666.4,780.8 667.6,780.8 668.8,780.9 670.0,780.9 671.2,780.9 672.4,780.9 673.6,781.0 674.8,781.0 676.0,781.0 677.2,781.0 678.4,781.0 679.6,781.0 680.8,781.1 682.0,781.1 683.2,781.1 684.4,781.1 685.6,781.1 686.8,781.1 688.0,781.1 689.2,781.1 690.4,781.2 691.6,781.2 692.8,781.2 694.0,781.2 695.2,781.2 696.4,781.2 697.6,781.2 698.8,781.2 700.0,781.2 701.2,781.2 702.4,781.3 703.6,781.3 704.8,781.3 706.0,781.3 707.2,781.3 708.5,781.3 709.7,781.3 710.9,781.3 712.1,781.3 713.3,781.3 714.5,781.3 715.7,781.3 716.9,781.3 718.1,781.3 719.3,781.4 720.5,781.4 721.7,781.4 722.9,781.4 724.1,781.4 725.3,781.4 726.5,781.4 727.7,781.4 728.9,781.4 730.1,781.4 731.3,781.4 732.5,781.4 733.7,781.4 734.9,781.4 736.1,781.4 737.3,781.4 738.5,781.4 739.7,781.4 740.9,781.4 742.1,781.4 743.3,781.4 744.5,781.4 745.7,781.5 746.9,781.5 748.1,781.5 749.3,781.5 750.5,781.5 751.7,781.5 752.9,781.5 754.1,781.5 755.3,781.5 756.5,781.5 757.7,781.5 758.9,781.5 760.1,781.5 761.3,781.5 762.5,781.5 763.7,781.5 764.9,781.5 766.1,781.5 767.3,781.5 768.5,781.5 769.7,781.5 770.9,781.5 772.1,781.5 773.3,781.5 774.5,781.5 775.7,781.5 776.9,781.5 778.1,781.5 779.3,781.5 780.5,781.5 781.8,781.5 783.0,781.5 784.2,781.5 785.4,781.5 786.6,781.5 787.8,781.5 789.0,781.5 790.2,781.5 791.4,781.6 792.6,781.6 793.8,781.6 795.0,781.6 796.2,781.6 797.4,781.6 798.6,781.6 799.8,781.6 801.0,781.6 802.2,781.6 803.4,781.6 804.6,781.6 805.8,781.6 807.0,781.6 808.2,781.6 809.4,781.6 810.6,781.6 811.8,781.6 813.0,781.6 814.2,781.6 815.4,781.6 816.6,781.6 817.8,781.6 819.0,781.6 820.2,781.6 821.4,781.6 822.6,781.6 823.8,781.6 825.0,781.6 826.2,781.6 827.4,781.6 828.6,781.6 829.8,781.6 831.0,781.6 832.2,781.6 833.4,781.6 834.6,781.6 835.8,781.6 837.0,781.6 838.2,781.6 839.4,781.6 840.6,781.6 841.8,781.6 843.0,781.6 844.2,781.6 845.4,781.6 846.6,781.6 847.8,781.6 849.0,781.6 850.2,781.6 851.4,781.6 852.6,781.6 853.8,781.6 855.1,781.6 856.3,781.6 857.5,781.6 858.7,781.6 859.9,781.6 861.1,781.6 862.3,781.6 863.5,781.6 864.7,781.6 865.9,781.6 867.1,781.6 868.3,781.6 869.5,781.6 870.7,781.6 871.9,781.6 873.1,781.6 874.3,781.6 875.5,781.6 876.7,781.6" fill="none" stroke="#222" stroke-width="0.85" stroke-linejoin="round"/>
<polyline points="656.8,788.8 658.0,788.8 659.2,788.8 660.4,788.8 661.6,788.8 662.8,788.8 664.0,788.8 665.2,788.8 666.4,788.8 667.6,788.8 668.8,788.8 670.0,788.8 671.2,788.8 672.4,788.8 673.6,788.8 674.8,788.8 676.0,788.8 677.2,788.8 678.4,788.8 679.6,788.8 680.8,788.8 682.0,788.8 683.2,788.8 684.4,788.8 685.6,788.8 686.8,788.8 688.0,788.8 689.2,788.8 690.4,788.8 691.6,788.8 692.8,788.8 694.0,788.8 695.2,788.8 696.4,788.8 697.6,788.8 698.8,788.8 700.0,788.8 701.2,788.8 702.4,788.8 703.6,788.8 704.8,788.8 706.0,788.8 707.2,788.8 708.5,788.8 709.7,788.8 710.9,788.8 712.1,788.8 713.3,788.8 714.5,788.8 715.7,788.8 716.9,788.8 718.1,788.8 719.3,788.8 720.5,788.8 721.7,788.8 722.9,788.8 724.1,788.8 725.3,788.8 726.5,788.8 727.7,788.8 728.9,788.8 730.1,788.8 731.3,788.8 732.5,788.8 733.7,788.8 734.9,788.8 736.1,788.8 737.3,788.8 738.5,788.8 739.7,788.8 740.9,788.8 742.1,788.8 743.3,788.8 744.5,788.8 745.7,788.8 746.9,788.8 748.1,788.8 749.3,788.8 750.5,788.8 751.7,788.8 752.9,788.8 754.1,788.8 755.3,788.8 756.5,788.8 757.7,788.8 758.9,788.8 760.1,788.8 761.3,788.8 762.5,788.8 763.7,788.8 764.9,788.8 766.1,788.8 767.3,788.8 768.5,788.8 769.7,788.8 770.9,788.8 772.1,788.8 773.3,788.8 774.5,788.8 775.7,788.8 776.9,788.8 778.1,788.8 779.3,788.8 780.5,788.8 781.8,788.8 783.0,788.8 784.2,788.8 785.4,788.8 786.6,788.8 787.8,788.8 789.0,788.8 790.2,788.8 791.4,788.8 792.6,788.8 793.8,788.8 795.0,788.8 796.2,788.8 797.4,788.8 798.6,788.8 799.8,788.8 801.0,788.8 802.2,788.8 803.4,788.8 804.6,788.8 805.8,788.8 807.0,788.8 808.2,788.8 809.4,788.8 810.6,788.8 811.8,788.8 813.0,788.8 814.2,788.8 815.4,788.8 816.6,788.8 817.8,788.8 819.0,788.8 820.2,788.8 821.4,788.8 822.6,788.8 823.8,788.8 825.0,788.8 826.2,788.8 827.4,788.8 828.6,788.8 829.8,788.8 831.0,788.8 832.2,788.8 833.4,788.8 834.6,788.8 835.8,788.8 837.0,788.8 838.2,788.8 839.4,788.8 840.6,788.8 841.8,788.8 843.0,788.8 844.2,788.8 845.4,788.8 846.6,788.8 847.8,788.8 849.0,788.8 850.2,788.8 851.4,788.8 852.6,788.8 853.8,788.8 855.1,788.8 856.3,788.8 857.5,788.8 858.7,788.8 859.9,788.8 861.1,788.8 862.3,788.8 863.5,788.8 864.7,788.8 865.9,788.8 867.1,788.8 868.3,788.8 869.5,788.8 870.7,788.8 871.9,788.8 873.1,788.8 874.3,788.8 875.5,788.8 876.7,788.8" fill="none" stroke="#222" stroke-width="0.85" stroke-linejoin="round"/>
<polyline points="656.8,795.4 658.0,795.6 659.2,795.6 660.4,795.5 661.6,795.5 662.8,795.7 664.0,795.5 665.2,795.6 666.4,795.4 667.6,795.6 668.8,795.5 670.0,795.6 671.2,795.5 672.4,795.7 673.6,795.6 674.8,795.6 676.0,795.6 677.2,795.5 678.4,795.6 679.6,795.5 680.8,795.6 682.0,795.6 683.2,795.5 684.4,795.4 685.6,795.4 686.8,795.6 688.0,795.5 689.2,795.6 690.4,795.6 691.6,795.7 692.8,795.7 694.0,795.6 695.2,795.5 696.4,795.4 697.6,795.6 698.8,795.6 700.0,795.7 701.2,795.5 702.4,795.4 703.6,795.7 704.8,795.6 706.0,795.5 707.2,795.6 708.5,795.4 709.7,795.6 710.9,795.6 712.1,795.6 713.3,795.4 714.5,795.4 715.7,795.6 716.9,795.7 718.1,795.4 719.3,795.4 720.5,795.4 721.7,795.6 722.9,795.5 724.1,795.5 725.3,795.7 726.5,795.6 727.7,795.5 728.9,795.6 730.1,795.4 731.3,795.5 732.5,795.6 733.7,795.4 734.9,795.4 736.1,795.6 737.3,795.5 738.5,795.7 739.7,795.4 740.9,795.6 742.1,795.5 743.3,795.6 744.5,795.5 745.7,795.6 746.9,795.5 748.1,795.5 749.3,795.5 750.5,795.6 751.7,795.5 752.9,795.5 754.1,795.5 755.3,795.4 756.5,795.5 757.7,795.6 758.9,795.6 760.1,795.6 761.3,795.5 762.5,795.4 763.7,795.4 764.9,795.5 766.1,795.5 767.3,795.6 768.5,795.5 769.7,795.6 770.9,795.6 772.1,795.6 773.3,795.6 774.5,795.6 775.7,795.5 776.9,795.5 778.1,795.4 779.3,795.6 780.5,795.5 781.8,795.4 783.0,795.7 784.2,795.6 785.4,795.6 786.6,795.5 787.8,795.4 789.0,795.7 790.2,795.4 791.4,795.5 792.6,795.7 793.8,795.4 795.0,795.5 796.2,795.5 797.4,795.5 798.6,795.7 799.8,795.5 801.0,795.4 802.2,795.5 803.4,795.4 804.6,795.6 805.8,795.7 807.0,795.7 808.2,795.4 809.4,795.6 810.6,795.5 811.8,795.5 813.0,795.5 814.2,795.5 815.4,795.4 816.6,795.6 817.8,795.4 819.0,795.7 820.2,795.4 821.4,795.7 822.6,795.5 823.8,795.4 825.0,795.6 826.2,795.6 827.4,795.6 828.6,795.6 829.8,795.6 831.0,795.4 832.2,795.6 833.4,795.6 834.6,795.7 835.8,795.4 837.0,795.4 838.2,795.6 839.4,795.7 840.6,795.5 841.8,795.6 843.0,795.6 844.2,795.5 845.4,795.5 846.6,795.6 847.8,795.4 849.0,795.5 850.2,795.6 851.4,795.5 852.6,795.5 853.8,795.5 855.1,795.5 856.3,795.6 857.5,795.6 858.7,795.7 859.9,795.5 861.1,795.5 862.3,795.5 863.5,795.4 864.7,795.5 865.9,795.6 867.1,795.6 868.3,795.5 869.5,795.4 870.7,795.4 871.9,795.4 873.1,795.5 874.3,795.5 875.5,795.7 876.7,795.6" fill="none" stroke="#222" stroke-width="0.85" stroke-linejoin="round"/>
<polyline points="656.8,801.4 658.0,801.4 659.2,801.3 660.4,801.5 661.6,801.5 662.8,801.4 664.0,801.5 665.2,801.4 666.4,801.4 667.6,801.4 668.8,801.4 670.0,801.5 671.2,801.5 672.4,801.5 673.6,801.3 674.8,801.6 676.0,801.5 677.2,801.4 678.4,801.5 679.6,801.4 680.8,801.4 682.0,801.4 683.2,801.5 684.4,801.5 685.6,801.6 686.8,801.4 688.0,801.6 689.2,801.6 690.4,801.5 691.6,801.6 692.8,801.4 694.0,801.6 695.2,801.6 696.4,801.3 697.6,801.5 698.8,801.6 700.0,801.4 701.2,801.6 702.4,801.6 703.6,801.4 704.8,801.4 706.0,801.4 707.2,801.6 708.5,801.4 709.7,801.4 710.9,801.4 712.1,801.6 713.3,801.4 714.5,801.3 715.7,801.6 716.9,801.4 718.1,801.4 719.3,801.6 720.5,801.4 721.7,801.3 722.9,801.6 724.1,801.4 725.3,801.4 726.5,801.6 727.7,801.4 728.9,801.6 730.1,801.4 731.3,801.4 732.5,801.4 733.7,801.5 734.9,801.5 736.1,801.4 737.3,801.5 738.5,801.4 739.7,801.6 740.9,801.6 742.1,801.5 743.3,801.6 744.5,801.3 745.7,801.4 746.9,801.4 748.1,801.4 749.3,801.6 750.5,801.6 751.7,801.6 752.9,801.5 754.1,801.3 755.3,801.4 756.5,801.3 757.7,801.6 758.9,801.4 760.1,801.4 761.3,801.6 762.5,801.4 763.7,801.6 764.9,801.4 766.1,801.5 767.3,801.3 768.5,801.6 769.7,801.4 770.9,801.4 772.1,801.5 773.3,801.5 774.5,801.4 775.7,801.3 776.9,801.5 778.1,801.3 779.3,801.6 780.5,801.4 781.8,801.4 783.0,801.4 784.2,801.3 785.4,801.4 786.6,801.5 787.8,801.4 789.0,801.4 790.2,801.4 791.4,801.5 792.6,801.6 793.8,801.4 795.0,801.6 796.2,801.5 797.4,801.3 798.6,801.4 799.8,801.6 801.0,801.5 802.2,801.4 803.4,801.5 804.6,801.6 805.8,801.4 807.0,801.4 808.2,801.4 809.4,801.3 810.6,801.5 811.8,801.5 813.0,801.5 814.2,801.5 815.4,801.5 816.6,801.5 817.8,801.4 819.0,801.6 820.2,801.3 821.4,801.6 822.6,801.4 823.8,801.6 825.0,801.4 826.2,801.3 827.4,801.5 828.6,801.6 829.8,801.6 831.0,801.6 832.2,801.6 833.4,801.3 834.6,801.4 835.8,801.3 837.0,801.5 838.2,801.5 839.4,801.5 840.6,801.6 841.8,801.6 843.0,801.5 844.2,801.6 845.4,801.5 846.6,801.3 847.8,801.6 849.0,801.3 850.2,801.3 851.4,801.6 852.6,801.4 853.8,801.5 855.1,801.3 856.3,801.4 857.5,801.5 858.7,801.3 859.9,801.5 861.1,801.6 862.3,801.4 863.5,801.5 864.7,801.5 865.9,801.5 867.1,801.6 868.3,801.5 869.5,801.3 870.7,801.4 871.9,801.5 873.1,801.6 874.3,801.4 875.5,801.5 876.7,801.3" fill="none" stroke="#222" stroke-width="0.85" stroke-linejoin="round"/>
<polyline points="656.8,807.0 658.0,806.7 659.2,806.8 660.4,806.9 661.6,806.5 662.8,806.9 664.0,807.0 665.2,807.0 666.4,806.6 667.6,806.5 668.8,806.5 670.0,807.1 671.2,806.7 672.4,806.7 673.6,806.8 674.8,806.9 676.0,806.6 677.2,806.6 678.4,807.0 679.6,807.0 680.8,806.6 682.0,806.4 683.2,807.1 684.4,806.9 685.6,806.8 686.8,806.7 688.0,807.1 689.2,806.7 690.4,806.5 691.6,806.4 692.8,806.6 694.0,806.8 695.2,806.6 696.4,807.1 697.6,806.9 698.8,806.7 700.0,806.9 701.2,806.8 702.4,806.8 703.6,806.7 704.8,806.8 706.0,806.7 707.2,807.0 708.5,806.5 709.7,807.0 710.9,806.6 712.1,807.0 713.3,806.4 714.5,806.7 715.7,806.7 716.9,806.9 718.1,806.5 719.3,806.6 720.5,806.5 721.7,806.8 722.9,806.8 724.1,806.3 725.3,806.5 726.5,806.5 727.7,807.1 728.9,806.7 730.1,806.8 731.3,806.6 732.5,806.9 733.7,807.0 734.9,806.9 736.1,806.3 737.3,806.7 738.5,806.7 739.7,806.4 740.9,807.0 742.1,806.6 743.3,806.6 744.5,806.8 745.7,806.8 746.9,806.7 748.1,807.0 749.3,806.8 750.5,806.6 751.7,806.4 752.9,806.8 754.1,806.6 755.3,806.8 756.5,806.6 757.7,806.3 758.9,806.4 760.1,806.5 761.3,806.4 762.5,807.0 763.7,806.8 764.9,806.5 766.1,806.9 767.3,806.9 768.5,806.4 769.7,806.9 770.9,806.5 772.1,807.1 773.3,806.5 774.5,806.6 775.7,806.5 776.9,807.0 778.1,807.0 779.3,806.8 780.5,806.5 781.8,806.7 783.0,806.9 784.2,806.4 785.4,807.1 786.6,807.0 787.8,807.1 789.0,806.9 790.2,806.8 791.4,807.1 792.6,806.6 793.8,806.6 795.0,806.4 796.2,806.5 797.4,807.0 798.6,806.4 799.8,806.9 801.0,806.7 802.2,807.0 803.4,807.0 804.6,806.9 805.8,807.0 807.0,806.4 808.2,806.6 809.4,806.6 810.6,806.7 811.8,806.9 813.0,807.0 814.2,806.9 815.4,807.1 816.6,806.9 817.8,806.6 819.0,806.8 820.2,806.9 821.4,807.0 822.6,806.6 823.8,806.6 825.0,806.8 826.2,806.5 827.4,807.1 828.6,806.3 829.8,806.9 831.0,806.7 832.2,806.5 833.4,806.8 834.6,806.7 835.8,807.1 837.0,807.1 838.2,806.8 839.4,807.0 840.6,807.1 841.8,806.5 843.0,807.0 844.2,807.0 845.4,807.1 846.6,807.0 847.8,806.7 849.0,806.5 850.2,806.9 851.4,806.5 852.6,806.9 853.8,806.8 855.1,807.0 856.3,806.6 857.5,806.6 858.7,807.1 859.9,806.9 861.1,806.6 862.3,806.8 863.5,806.7 864.7,806.9 865.9,806.8 867.1,806.6 868.3,807.1 869.5,807.1 870.7,807.0 871.9,806.6 873.1,806.5 874.3,806.9 875.5,807.0 876.7,806.9" fill="none" stroke="#222" stroke-width="0.85" stroke-linejoin="round"/>
<polyline points="656.8,811.0 658.0,811.4 659.2,811.2 660.4,811.1 661.6,811.3 662.8,811.2 664.0,811.3 665.2,811.4 666.4,811.6 667.6,810.9 668.8,811.3 670.0,811.6 671.2,811.3 672.4,811.3 673.6,811.5 674.8,810.8 676.0,811.5 677.2,811.3 678.4,811.3 679.6,811.1 680.8,811.3 682.0,810.9 683.2,811.2 684.4,811.0 685.6,811.6 686.8,811.5 688.0,811.2 689.2,811.4 690.4,811.1 691.6,811.2 692.8,811.0 694.0,811.5 695.2,811.4 696.4,811.4 697.6,810.9 698.8,811.5 700.0,810.8 701.2,811.3 702.4,811.2 703.6,810.9 704.8,811.2 706.0,811.5 707.2,811.3 708.5,811.1 709.7,811.5 710.9,811.1 712.1,811.5 713.3,811.1 714.5,810.9 715.7,811.6 716.9,810.9 718.1,811.0 719.3,811.4 720.5,810.9 721.7,811.3 722.9,811.5 724.1,811.3 725.3,811.1 726.5,811.4 727.7,811.5 728.9,811.3 730.1,811.3 731.3,811.1 732.5,811.1 733.7,811.6 734.9,811.6 736.1,810.8 737.3,811.0 738.5,811.0 739.7,811.5 740.9,811.0 742.1,811.0 743.3,811.4 744.5,811.0 745.7,811.6 746.9,811.2 748.1,811.5 749.3,811.5 750.5,811.0 751.7,811.5 752.9,811.2 754.1,811.0 755.3,810.9 756.5,811.4 757.7,811.3 758.9,811.1 760.1,811.5 761.3,811.0 762.5,811.2 763.7,810.9 764.9,811.1 766.1,811.5 767.3,811.2 768.5,810.9 769.7,811.0 770.9,811.3 772.1,811.0 773.3,811.5 774.5,810.9 775.7,811.5 776.9,811.3 778.1,811.5 779.3,811.1 780.5,810.9 781.8,811.0 783.0,811.3 784.2,810.8 785.4,810.9 786.6,811.4 787.8,811.5 789.0,811.5 790.2,811.5 791.4,811.3 792.6,811.5 793.8,811.4 795.0,811.3 796.2,811.2 797.4,810.8 798.6,810.9 799.8,811.0 801.0,811.2 802.2,810.9 803.4,811.6 804.6,811.3 805.8,811.4 807.0,811.5 808.2,811.0 809.4,811.5 810.6,811.6 811.8,811.0 813.0,810.9 814.2,811.5 815.4,811.5 816.6,811.5 817.8,811.1 819.0,811.3 820.2,810.9 821.4,811.0 822.6,811.2 823.8,811.4 825.0,810.9 826.2,811.6 827.4,810.8 828.6,811.6 829.8,811.0 831.0,811.5 832.2,811.5 833.4,811.6 834.6,811.2 835.8,811.4 837.0,811.1 838.2,811.5 839.4,810.9 840.6,811.5 841.8,811.3 843.0,810.9 844.2,811.6 845.4,811.1 846.6,810.9 847.8,811.0 849.0,810.8 850.2,811.0 851.4,811.4 852.6,811.6 853.8,811.3 855.1,811.5 856.3,811.5 857.5,811.4 858.7,811.1 859.9,811.0 861.1,810.9 862.3,811.3 863.5,811.0 864.7,811.4 865.9,811.1 867.1,811.3 868.3,811.3 869.5,811.3 870.7,810.9 871.9,811.0 873.1,811.4 874.3,811.0 875.5,811.4 876.7,811.6" fill="none" stroke="#222" stroke-width="0.85" stroke-linejoin="round"/>
<line x1="876.68" y1="795.23" x2="903.86" y2="793.63" stroke="#222" stroke-width="0.8" />
<line x1="876.68" y1="797.15" x2="903.86" y2="795.55" stroke="#222" stroke-width="0.8" />
<line x1="876.68" y1="797.47" x2="903.86" y2="797.47" stroke="#222" stroke-width="0.8" />
<line x1="876.68" y1="798.75" x2="903.86" y2="798.75" stroke="#222" stroke-width="0.8" />
<polygon points="876.7,794.8 891.9,798.4 876.7,802.0" fill="#1a1a1a"/>
<line x1="935.35" y1="785.52" x2="935.35" y2="801.73" stroke="#333" stroke-width="0.8" />
<rect x="935.69" y="793.37" width="29.00" height="3.41" fill="#2a2a2a" />
<line x1="935.69" y1="790.98" x2="964.69" y2="790.98" stroke="#222" stroke-width="0.7" />
<line x1="964.69" y1="719.00" x2="964.69" y2="817.08" stroke="#333" stroke-width="1.0" />
<line x1="1189.51" y1="773.58" x2="1189.51" y2="803.43" stroke="#555" stroke-width="0.8" />
<polyline points="964.7,722.1 965.9,726.1 967.1,728.9 968.3,730.9 969.5,732.4 970.7,733.6 971.9,734.4 973.1,735.2 974.3,735.8 975.5,736.3 976.7,736.7 977.9,737.2 979.1,737.5 980.3,737.9 981.5,738.3 982.7,738.6 983.9,738.9 985.1,739.2 986.3,739.5 987.5,739.8 988.7,740.1 989.9,740.4 991.1,740.6 992.3,740.9 993.5,741.1 994.7,741.4 995.9,741.6 997.2,741.9 998.4,742.1 999.6,742.3 1000.8,742.5 1002.0,742.7 1003.2,742.9 1004.4,743.1 1005.6,743.3 1006.8,743.5 1008.0,743.7 1009.2,743.9 1010.4,744.1 1011.6,744.3 1012.8,744.4 1014.0,744.6 1015.2,744.8 1016.4,744.9 1017.6,745.1 1018.8,745.2 1020.0,745.4 1021.2,745.5 1022.4,745.7 1023.6,745.8 1024.8,746.0 1026.0,746.1 1027.2,746.2 1028.4,746.4 1029.6,746.5 1030.8,746.6 1032.0,746.7 1033.2,746.9 1034.4,747.0 1035.6,747.1 1036.8,747.2 1038.0,747.3 1039.2,747.4 1040.4,747.5 1041.6,747.6 1042.8,747.7 1044.0,747.8 1045.2,747.9 1046.4,748.0 1047.6,748.1 1048.8,748.2 1050.0,748.3 1051.3,748.4 1052.5,748.5 1053.7,748.6 1054.9,748.7 1056.1,748.7 1057.3,748.8 1058.5,748.9 1059.7,749.0 1060.9,749.1 1062.1,749.1 1063.3,749.2 1064.5,749.3 1065.7,749.4 1066.9,749.4 1068.1,749.5 1069.3,749.6 1070.5,749.6 1071.7,749.7 1072.9,749.8 1074.1,749.8 1075.3,749.9 1076.5,750.0 1077.7,750.0 1078.9,750.1 1080.1,750.2 1081.3,750.2 1082.5,750.3 1083.7,750.3 1084.9,750.4 1086.1,750.4 1087.3,750.5 1088.5,750.6 1089.7,750.6 1090.9,750.7 1092.1,750.7 1093.3,750.8 1094.5,750.8 1095.7,750.9 1096.9,750.9 1098.1,751.0 1099.3,751.0 1100.5,751.1 1101.7,751.1 1102.9,751.2 1104.2,751.2 1105.4,751.3 1106.6,751.3 1107.8,751.3 1109.0,751.4 1110.2,751.4 1111.4,751.5 1112.6,751.5 1113.8,751.6 1115.0,751.6 1116.2,751.6 1117.4,751.7 1118.6,751.7 1119.8,751.8 1121.0,751.8 1122.2,751.8 1123.4,751.9 1124.6,751.9 1125.8,752.0 1127.0,752.0 1128.2,752.0 1129.4,752.1 1130.6,752.1 1131.8,752.1 1133.0,752.2 1134.2,752.2 1135.4,752.2 1136.6,752.3 1137.8,752.3 1139.0,752.3 1140.2,752.4 1141.4,752.4 1142.6,752.4 1143.8,752.5 1145.0,752.5 1146.2,752.5 1147.4,752.6 1148.6,752.6 1149.8,752.6 1151.0,752.6 1152.2,752.7 1153.4,752.7 1154.6,752.7 1155.8,752.8 1157.0,752.8 1158.3,752.8 1159.5,752.8 1160.7,752.9 1161.9,752.9 1163.1,752.9 1164.3,752.9 1165.5,753.0 1166.7,753.0 1167.9,753.0 1169.1,753.0 1170.3,753.1 1171.5,753.1 1172.7,753.1 1173.9,753.1 1175.1,753.2 1176.3,753.2 1177.5,753.2 1178.7,753.2 1179.9,753.3 1181.1,753.3 1182.3,753.3 1183.5,753.3 1184.7,753.4 1185.9,753.4 1187.1,753.4 1188.3,753.4 1189.5,753.4" fill="none" stroke="#222" stroke-width="0.85" stroke-linejoin="round" stroke-dasharray="10 3 4 3 16 4"/>
<polyline points="964.7,732.9 965.9,736.0 967.1,738.1 968.3,739.7 969.5,740.9 970.7,741.7 971.9,742.4 973.1,743.0 974.3,743.5 975.5,743.9 976.7,744.3 977.9,744.6 979.1,744.9 980.3,745.2 981.5,745.5 982.7,745.8 983.9,746.0 985.1,746.3 986.3,746.5 987.5,746.7 988.7,747.0 989.9,747.2 991.1,747.4 992.3,747.6 993.5,747.8 994.7,748.0 995.9,748.2 997.2,748.4 998.4,748.6 999.6,748.8 1000.8,749.0 1002.0,749.1 1003.2,749.3 1004.4,749.5 1005.6,749.6 1006.8,749.8 1008.0,750.0 1009.2,750.1 1010.4,750.3 1011.6,750.4 1012.8,750.6 1014.0,750.7 1015.2,750.8 1016.4,751.0 1017.6,751.1 1018.8,751.2 1020.0,751.3 1021.2,751.5 1022.4,751.6 1023.6,751.7 1024.8,751.8 1026.0,751.9 1027.2,752.0 1028.4,752.2 1029.6,752.3 1030.8,752.4 1032.0,752.5 1033.2,752.6 1034.4,752.7 1035.6,752.8 1036.8,752.9 1038.0,752.9 1039.2,753.0 1040.4,753.1 1041.6,753.2 1042.8,753.3 1044.0,753.4 1045.2,753.5 1046.4,753.6 1047.6,753.6 1048.8,753.7 1050.0,753.8 1051.3,753.9 1052.5,753.9 1053.7,754.0 1054.9,754.1 1056.1,754.2 1057.3,754.2 1058.5,754.3 1059.7,754.4 1060.9,754.4 1062.1,754.5 1063.3,754.6 1064.5,754.6 1065.7,754.7 1066.9,754.8 1068.1,754.8 1069.3,754.9 1070.5,754.9 1071.7,755.0 1072.9,755.0 1074.1,755.1 1075.3,755.2 1076.5,755.2 1077.7,755.3 1078.9,755.3 1080.1,755.4 1081.3,755.4 1082.5,755.5 1083.7,755.5 1084.9,755.6 1086.1,755.6 1087.3,755.7 1088.5,755.7 1089.7,755.8 1090.9,755.8 1092.1,755.9 1093.3,755.9 1094.5,755.9 1095.7,756.0 1096.9,756.0 1098.1,756.1 1099.3,756.1 1100.5,756.2 1101.7,756.2 1102.9,756.2 1104.2,756.3 1105.4,756.3 1106.6,756.4 1107.8,756.4 1109.0,756.4 1110.2,756.5 1111.4,756.5 1112.6,756.5 1113.8,756.6 1115.0,756.6 1116.2,756.7 1117.4,756.7 1118.6,756.7 1119.8,756.8 1121.0,756.8 1122.2,756.8 1123.4,756.9 1124.6,756.9 1125.8,756.9 1127.0,757.0 1128.2,757.0 1129.4,757.0 1130.6,757.0 1131.8,757.1 1133.0,757.1 1134.2,757.1 1135.4,757.2 1136.6,757.2 1137.8,757.2 1139.0,757.3 1140.2,757.3 1141.4,757.3 1142.6,757.3 1143.8,757.4 1145.0,757.4 1146.2,757.4 1147.4,757.4 1148.6,757.5 1149.8,757.5 1151.0,757.5 1152.2,757.5 1153.4,757.6 1154.6,757.6 1155.8,757.6 1157.0,757.6 1158.3,757.7 1159.5,757.7 1160.7,757.7 1161.9,757.7 1163.1,757.8 1164.3,757.8 1165.5,757.8 1166.7,757.8 1167.9,757.9 1169.1,757.9 1170.3,757.9 1171.5,757.9 1172.7,757.9 1173.9,758.0 1175.1,758.0 1176.3,758.0 1177.5,758.0 1178.7,758.0 1179.9,758.1 1181.1,758.1 1182.3,758.1 1183.5,758.1 1184.7,758.1 1185.9,758.2 1187.1,758.2 1188.3,758.2 1189.5,758.2" fill="none" stroke="#222" stroke-width="0.85" stroke-linejoin="round" stroke-dasharray="18 5 3 6"/>
<polyline points="964.7,740.3 965.9,742.4 967.1,743.9 968.3,745.0 969.5,745.8 970.7,746.4 971.9,746.8 973.1,747.2 974.3,747.5 975.5,747.7 976.7,748.0 977.9,748.2 979.1,748.4 980.3,748.6 981.5,748.7 982.7,748.9 983.9,749.1 985.1,749.2 986.3,749.4 987.5,749.5 988.7,749.6 989.9,749.8 991.1,749.9 992.3,750.0 993.5,750.2 994.7,750.3 995.9,750.4 997.2,750.5 998.4,750.6 999.6,750.7 1000.8,750.8 1002.0,750.9 1003.2,751.0 1004.4,751.1 1005.6,751.2 1006.8,751.3 1008.0,751.4 1009.2,751.5 1010.4,751.6 1011.6,751.7 1012.8,751.7 1014.0,751.8 1015.2,751.9 1016.4,752.0 1017.6,752.0 1018.8,752.1 1020.0,752.2 1021.2,752.3 1022.4,752.3 1023.6,752.4 1024.8,752.5 1026.0,752.5 1027.2,752.6 1028.4,752.6 1029.6,752.7 1030.8,752.8 1032.0,752.8 1033.2,752.9 1034.4,752.9 1035.6,753.0 1036.8,753.0 1038.0,753.1 1039.2,753.1 1040.4,753.2 1041.6,753.2 1042.8,753.3 1044.0,753.3 1045.2,753.4 1046.4,753.4 1047.6,753.4 1048.8,753.5 1050.0,753.5 1051.3,753.6 1052.5,753.6 1053.7,753.6 1054.9,753.7 1056.1,753.7 1057.3,753.7 1058.5,753.8 1059.7,753.8 1060.9,753.9 1062.1,753.9 1063.3,753.9 1064.5,753.9 1065.7,754.0 1066.9,754.0 1068.1,754.0 1069.3,754.1 1070.5,754.1 1071.7,754.1 1072.9,754.2 1074.1,754.2 1075.3,754.2 1076.5,754.2 1077.7,754.3 1078.9,754.3 1080.1,754.3 1081.3,754.3 1082.5,754.4 1083.7,754.4 1084.9,754.4 1086.1,754.4 1087.3,754.5 1088.5,754.5 1089.7,754.5 1090.9,754.5 1092.1,754.6 1093.3,754.6 1094.5,754.6 1095.7,754.6 1096.9,754.6 1098.1,754.7 1099.3,754.7 1100.5,754.7 1101.7,754.7 1102.9,754.7 1104.2,754.8 1105.4,754.8 1106.6,754.8 1107.8,754.8 1109.0,754.8 1110.2,754.9 1111.4,754.9 1112.6,754.9 1113.8,754.9 1115.0,754.9 1116.2,754.9 1117.4,755.0 1118.6,755.0 1119.8,755.0 1121.0,755.0 1122.2,755.0 1123.4,755.0 1124.6,755.1 1125.8,755.1 1127.0,755.1 1128.2,755.1 1129.4,755.1 1130.6,755.1 1131.8,755.1 1133.0,755.2 1134.2,755.2 1135.4,755.2 1136.6,755.2 1137.8,755.2 1139.0,755.2 1140.2,755.2 1141.4,755.2 1142.6,755.3 1143.8,755.3 1145.0,755.3 1146.2,755.3 1147.4,755.3 1148.6,755.3 1149.8,755.3 1151.0,755.3 1152.2,755.4 1153.4,755.4 1154.6,755.4 1155.8,755.4 1157.0,755.4 1158.3,755.4 1159.5,755.4 1160.7,755.4 1161.9,755.4 1163.1,755.5 1164.3,755.5 1165.5,755.5 1166.7,755.5 1167.9,755.5 1169.1,755.5 1170.3,755.5 1171.5,755.5 1172.7,755.5 1173.9,755.5 1175.1,755.6 1176.3,755.6 1177.5,755.6 1178.7,755.6 1179.9,755.6 1181.1,755.6 1182.3,755.6 1183.5,755.6 1184.7,755.6 1185.9,755.6 1187.1,755.6 1188.3,755.7 1189.5,755.7" fill="none" stroke="#222" stroke-width="0.85" stroke-linejoin="round" stroke-dasharray="12 6 2 5 20 9"/>
<polyline points="964.7,750.8 965.9,752.1 967.1,753.0 968.3,753.7 969.5,754.1 970.7,754.5 971.9,754.7 973.1,754.9 974.3,755.1 975.5,755.2 976.7,755.3 977.9,755.4 979.1,755.5 980.3,755.6 981.5,755.7 982.7,755.8 983.9,755.8 985.1,755.9 986.3,756.0 987.5,756.0 988.7,756.1 989.9,756.2 991.1,756.2 992.3,756.3 993.5,756.3 994.7,756.4 995.9,756.4 997.2,756.5 998.4,756.5 999.6,756.6 1000.8,756.6 1002.0,756.7 1003.2,756.7 1004.4,756.8 1005.6,756.8 1006.8,756.9 1008.0,756.9 1009.2,756.9 1010.4,757.0 1011.6,757.0 1012.8,757.0 1014.0,757.1 1015.2,757.1 1016.4,757.1 1017.6,757.2 1018.8,757.2 1020.0,757.2 1021.2,757.3 1022.4,757.3 1023.6,757.3 1024.8,757.3 1026.0,757.4 1027.2,757.4 1028.4,757.4 1029.6,757.4 1030.8,757.5 1032.0,757.5 1033.2,757.5 1034.4,757.5 1035.6,757.6 1036.8,757.6 1038.0,757.6 1039.2,757.6 1040.4,757.6 1041.6,757.7 1042.8,757.7 1044.0,757.7 1045.2,757.7 1046.4,757.7 1047.6,757.7 1048.8,757.8 1050.0,757.8 1051.3,757.8 1052.5,757.8 1053.7,757.8 1054.9,757.8 1056.1,757.9 1057.3,757.9 1058.5,757.9 1059.7,757.9 1060.9,757.9 1062.1,757.9 1063.3,757.9 1064.5,757.9 1065.7,758.0 1066.9,758.0 1068.1,758.0 1069.3,758.0 1070.5,758.0 1071.7,758.0 1072.9,758.0 1074.1,758.0 1075.3,758.1 1076.5,758.1 1077.7,758.1 1078.9,758.1 1080.1,758.1 1081.3,758.1 1082.5,758.1 1083.7,758.1 1084.9,758.1 1086.1,758.1 1087.3,758.1 1088.5,758.2 1089.7,758.2 1090.9,758.2 1092.1,758.2 1093.3,758.2 1094.5,758.2 1095.7,758.2 1096.9,758.2 1098.1,758.2 1099.3,758.2 1100.5,758.2 1101.7,758.2 1102.9,758.2 1104.2,758.3 1105.4,758.3 1106.6,758.3 1107.8,758.3 1109.0,758.3 1110.2,758.3 1111.4,758.3 1112.6,758.3 1113.8,758.3 1115.0,758.3 1116.2,758.3 1117.4,758.3 1118.6,758.3 1119.8,758.3 1121.0,758.3 1122.2,758.3 1123.4,758.4 1124.6,758.4 1125.8,758.4 1127.0,758.4 1128.2,758.4 1129.4,758.4 1130.6,758.4 1131.8,758.4 1133.0,758.4 1134.2,758.4 1135.4,758.4 1136.6,758.4 1137.8,758.4 1139.0,758.4 1140.2,758.4 1141.4,758.4 1142.6,758.4 1143.8,758.4 1145.0,758.4 1146.2,758.4 1147.4,758.4 1148.6,758.5 1149.8,758.5 1151.0,758.5 1152.2,758.5 1153.4,758.5 1154.6,758.5 1155.8,758.5 1157.0,758.5 1158.3,758.5 1159.5,758.5 1160.7,758.5 1161.9,758.5 1163.1,758.5 1164.3,758.5 1165.5,758.5 1166.7,758.5 1167.9,758.5 1169.1,758.5 1170.3,758.5 1171.5,758.5 1172.7,758.5 1173.9,758.5 1175.1,758.5 1176.3,758.5 1177.5,758.5 1178.7,758.5 1179.9,758.5 1181.1,758.5 1182.3,758.5 1183.5,758.6 1184.7,758.6 1185.9,758.6 1187.1,758.6 1188.3,758.6 1189.5,758.6" fill="none" stroke="#222" stroke-width="0.85" stroke-linejoin="round" stroke-dasharray="8 7 14 12 30 20"/>
<polyline points="964.7,761.7 965.9,762.4 967.1,762.9 968.3,763.2 969.5,763.5 970.7,763.7 971.9,763.8 973.1,763.9 974.3,763.9 975.5,764.0 976.7,764.0 977.9,764.1 979.1,764.1 980.3,764.1 981.5,764.2 982.7,764.2 983.9,764.2 985.1,764.2 986.3,764.3 987.5,764.3 988.7,764.3 989.9,764.3 991.1,764.4 992.3,764.4 993.5,764.4 994.7,764.4 995.9,764.4 997.2,764.4 998.4,764.5 999.6,764.5 1000.8,764.5 1002.0,764.5 1003.2,764.5 1004.4,764.5 1005.6,764.5 1006.8,764.6 1008.0,764.6 1009.2,764.6 1010.4,764.6 1011.6,764.6 1012.8,764.6 1014.0,764.6 1015.2,764.6 1016.4,764.7 1017.6,764.7 1018.8,764.7 1020.0,764.7 1021.2,764.7 1022.4,764.7 1023.6,764.7 1024.8,764.7 1026.0,764.7 1027.2,764.7 1028.4,764.7 1029.6,764.7 1030.8,764.8 1032.0,764.8 1033.2,764.8 1034.4,764.8 1035.6,764.8 1036.8,764.8 1038.0,764.8 1039.2,764.8 1040.4,764.8 1041.6,764.8 1042.8,764.8 1044.0,764.8 1045.2,764.8 1046.4,764.8 1047.6,764.8 1048.8,764.8 1050.0,764.8 1051.3,764.9 1052.5,764.9 1053.7,764.9 1054.9,764.9 1056.1,764.9 1057.3,764.9 1058.5,764.9 1059.7,764.9 1060.9,764.9 1062.1,764.9 1063.3,764.9 1064.5,764.9 1065.7,764.9 1066.9,764.9 1068.1,764.9 1069.3,764.9 1070.5,764.9 1071.7,764.9 1072.9,764.9 1074.1,764.9 1075.3,764.9 1076.5,764.9 1077.7,764.9 1078.9,764.9 1080.1,764.9 1081.3,764.9 1082.5,764.9 1083.7,764.9 1084.9,764.9 1086.1,764.9 1087.3,765.0 1088.5,765.0 1089.7,765.0 1090.9,765.0 1092.1,765.0 1093.3,765.0 1094.5,765.0 1095.7,765.0 1096.9,765.0 1098.1,765.0 1099.3,765.0 1100.5,765.0 1101.7,765.0 1102.9,765.0 1104.2,765.0 1105.4,765.0 1106.6,765.0 1107.8,765.0 1109.0,765.0 1110.2,765.0 1111.4,765.0 1112.6,765.0 1113.8,765.0 1115.0,765.0 1116.2,765.0 1117.4,765.0 1118.6,765.0 1119.8,765.0 1121.0,765.0 1122.2,765.0 1123.4,765.0 1124.6,765.0 1125.8,765.0 1127.0,765.0 1128.2,765.0 1129.4,765.0 1130.6,765.0 1131.8,765.0 1133.0,765.0 1134.2,765.0 1135.4,765.0 1136.6,765.0 1137.8,765.0 1139.0,765.0 1140.2,765.0 1141.4,765.0 1142.6,765.0 1143.8,765.0 1145.0,765.0 1146.2,765.0 1147.4,765.0 1148.6,765.0 1149.8,765.0 1151.0,765.0 1152.2,765.0 1153.4,765.0 1154.6,765.0 1155.8,765.0 1157.0,765.0 1158.3,765.0 1159.5,765.0 1160.7,765.0 1161.9,765.0 1163.1,765.0 1164.3,765.0 1165.5,765.0 1166.7,765.0 1167.9,765.0 1169.1,765.0 1170.3,765.0 1171.5,765.0 1172.7,765.0 1173.9,765.0 1175.1,765.0 1176.3,765.0 1177.5,765.0 1178.7,765.0 1179.9,765.0 1181.1,765.0 1182.3,765.0 1183.5,765.0 1184.7,765.0 1185.9,765.0 1187.1,765.1 1188.3,765.1 1189.5,765.1" fill="none" stroke="#222" stroke-width="0.85" stroke-linejoin="round" stroke-dasharray="10 14 60 4 40 30"/>
<polyline points="964.7,772.8 965.9,773.0 967.1,773.2 968.3,773.4 969.5,773.5 970.7,773.5 971.9,773.6 973.1,773.6 974.3,773.6 975.5,773.7 976.7,773.7 977.9,773.7 979.1,773.7 980.3,773.7 981.5,773.7 982.7,773.8 983.9,773.8 985.1,773.8 986.3,773.8 987.5,773.8 988.7,773.8 989.9,773.8 991.1,773.8 992.3,773.8 993.5,773.8 994.7,773.8 995.9,773.8 997.2,773.8 998.4,773.9 999.6,773.9 1000.8,773.9 1002.0,773.9 1003.2,773.9 1004.4,773.9 1005.6,773.9 1006.8,773.9 1008.0,773.9 1009.2,773.9 1010.4,773.9 1011.6,773.9 1012.8,773.9 1014.0,773.9 1015.2,773.9 1016.4,773.9 1017.6,773.9 1018.8,773.9 1020.0,773.9 1021.2,773.9 1022.4,774.0 1023.6,774.0 1024.8,774.0 1026.0,774.0 1027.2,774.0 1028.4,774.0 1029.6,774.0 1030.8,774.0 1032.0,774.0 1033.2,774.0 1034.4,774.0 1035.6,774.0 1036.8,774.0 1038.0,774.0 1039.2,774.0 1040.4,774.0 1041.6,774.0 1042.8,774.0 1044.0,774.0 1045.2,774.0 1046.4,774.0 1047.6,774.0 1048.8,774.0 1050.0,774.0 1051.3,774.0 1052.5,774.0 1053.7,774.0 1054.9,774.0 1056.1,774.0 1057.3,774.0 1058.5,774.0 1059.7,774.0 1060.9,774.0 1062.1,774.0 1063.3,774.0 1064.5,774.0 1065.7,774.0 1066.9,774.0 1068.1,774.0 1069.3,774.0 1070.5,774.0 1071.7,774.0 1072.9,774.0 1074.1,774.0 1075.3,774.0 1076.5,774.0 1077.7,774.0 1078.9,774.0 1080.1,774.0 1081.3,774.0 1082.5,774.0 1083.7,774.0 1084.9,774.1 1086.1,774.1 1087.3,774.1 1088.5,774.1 1089.7,774.1 1090.9,774.1 1092.1,774.1 1093.3,774.1 1094.5,774.1 1095.7,774.1 1096.9,774.1 1098.1,774.1 1099.3,774.1 1100.5,774.1 1101.7,774.1 1102.9,774.1 1104.2,774.1 1105.4,774.1 1106.6,774.1 1107.8,774.1 1109.0,774.1 1110.2,774.1 1111.4,774.1 1112.6,774.1 1113.8,774.1 1115.0,774.1 1116.2,774.1 1117.4,774.1 1118.6,774.1 1119.8,774.1 1121.0,774.1 1122.2,774.1 1123.4,774.1 1124.6,774.1 1125.8,774.1 1127.0,774.1 1128.2,774.1 1129.4,774.1 1130.6,774.1 1131.8,774.1 1133.0,774.1 1134.2,774.1 1135.4,774.1 1136.6,774.1 1137.8,774.1 1139.0,774.1 1140.2,774.1 1141.4,774.1 1142.6,774.1 1143.8,774.1 1145.0,774.1 1146.2,774.1 1147.4,774.1 1148.6,774.1 1149.8,774.1 1151.0,774.1 1152.2,774.1 1153.4,774.1 1154.6,774.1 1155.8,774.1 1157.0,774.1 1158.3,774.1 1159.5,774.1 1160.7,774.1 1161.9,774.1 1163.1,774.1 1164.3,774.1 1165.5,774.1 1166.7,774.1 1167.9,774.1 1169.1,774.1 1170.3,774.1 1171.5,774.1 1172.7,774.1 1173.9,774.1 1175.1,774.1 1176.3,774.1 1177.5,774.1 1178.7,774.1 1179.9,774.1 1181.1,774.1 1182.3,774.1 1183.5,774.1 1184.7,774.1 1185.9,774.1 1187.1,774.1 1188.3,774.1 1189.5,774.1" fill="none" stroke="#555" stroke-width="0.85" stroke-linejoin="round"/>
<polyline points="964.7,783.3 965.9,783.3 967.1,783.3 968.3,783.3 969.5,783.3 970.7,783.3 971.9,783.3 973.1,783.3 974.3,783.3 975.5,783.3 976.7,783.3 977.9,783.3 979.1,783.3 980.3,783.3 981.5,783.3 982.7,783.3 983.9,783.3 985.1,783.3 986.3,783.3 987.5,783.3 988.7,783.3 989.9,783.3 991.1,783.3 992.3,783.3 993.5,783.3 994.7,783.3 995.9,783.3 997.2,783.3 998.4,783.3 999.6,783.3 1000.8,783.3 1002.0,783.3 1003.2,783.3 1004.4,783.3 1005.6,783.3 1006.8,783.3 1008.0,783.3 1009.2,783.3 1010.4,783.3 1011.6,783.3 1012.8,783.3 1014.0,783.3 1015.2,783.3 1016.4,783.3 1017.6,783.3 1018.8,783.3 1020.0,783.3 1021.2,783.3 1022.4,783.3 1023.6,783.3 1024.8,783.3 1026.0,783.3 1027.2,783.3 1028.4,783.3 1029.6,783.3 1030.8,783.3 1032.0,783.3 1033.2,783.3 1034.4,783.3 1035.6,783.3 1036.8,783.3 1038.0,783.3 1039.2,783.3 1040.4,783.3 1041.6,783.3 1042.8,783.3 1044.0,783.3 1045.2,783.3 1046.4,783.3 1047.6,783.3 1048.8,783.3 1050.0,783.3 1051.3,783.3 1052.5,783.3 1053.7,783.3 1054.9,783.3 1056.1,783.3 1057.3,783.3 1058.5,783.3 1059.7,783.3 1060.9,783.3 1062.1,783.3 1063.3,783.3 1064.5,783.3 1065.7,783.3 1066.9,783.3 1068.1,783.3 1069.3,783.3 1070.5,783.3 1071.7,783.3 1072.9,783.3 1074.1,783.3 1075.3,783.3 1076.5,783.3 1077.7,783.3 1078.9,783.3 1080.1,783.3 1081.3,783.3 1082.5,783.3 1083.7,783.3 1084.9,783.3 1086.1,783.3 1087.3,783.3 1088.5,783.3 1089.7,783.3 1090.9,783.3 1092.1,783.3 1093.3,783.3 1094.5,783.3 1095.7,783.3 1096.9,783.3 1098.1,783.3 1099.3,783.3 1100.5,783.3 1101.7,783.3 1102.9,783.3 1104.2,783.3 1105.4,783.3 1106.6,783.3 1107.8,783.3 1109.0,783.3 1110.2,783.3 1111.4,783.3 1112.6,783.3 1113.8,783.3 1115.0,783.3 1116.2,783.3 1117.4,783.3 1118.6,783.3 1119.8,783.3 1121.0,783.3 1122.2,783.3 1123.4,783.3 1124.6,783.3 1125.8,783.3 1127.0,783.3 1128.2,783.3 1129.4,783.3 1130.6,783.3 1131.8,783.3 1133.0,783.3 1134.2,783.3 1135.4,783.3 1136.6,783.3 1137.8,783.3 1139.0,783.3 1140.2,783.3 1141.4,783.3 1142.6,783.3 1143.8,783.3 1145.0,783.3 1146.2,783.3 1147.4,783.3 1148.6,783.3 1149.8,783.3 1151.0,783.3 1152.2,783.3 1153.4,783.3 1154.6,783.3 1155.8,783.3 1157.0,783.3 1158.3,783.3 1159.5,783.3 1160.7,783.3 1161.9,783.3 1163.1,783.3 1164.3,783.3 1165.5,783.3 1166.7,783.3 1167.9,783.3 1169.1,783.3 1170.3,783.3 1171.5,783.3 1172.7,783.3 1173.9,783.3 1175.1,783.3 1176.3,783.3 1177.5,783.3 1178.7,783.3 1179.9,783.3 1181.1,783.3 1182.3,783.3 1183.5,783.3 1184.7,783.3 1185.9,783.3 1187.1,783.3 1188.3,783.3 1189.5,783.3" fill="none" stroke="#555" stroke-width="0.85" stroke-linejoin="round"/>
<polyline points="964.7,792.3 965.9,792.3 967.1,792.3 968.3,792.3 969.5,792.3 970.7,792.3 971.9,792.3 973.1,792.3 974.3,792.3 975.5,792.3 976.7,792.3 977.9,792.3 979.1,792.3 980.3,792.3 981.5,792.3 982.7,792.3 983.9,792.3 985.1,792.3 986.3,792.3 987.5,792.3 988.7,792.3 989.9,792.3 991.1,792.3 992.3,792.3 993.5,792.3 994.7,792.3 995.9,792.3 997.2,792.3 998.4,792.3 999.6,792.3 1000.8,792.3 1002.0,792.3 1003.2,792.3 1004.4,792.3 1005.6,792.3 1006.8,792.3 1008.0,792.3 1009.2,792.3 1010.4,792.3 1011.6,792.3 1012.8,792.3 1014.0,792.3 1015.2,792.3 1016.4,792.3 1017.6,792.3 1018.8,792.3 1020.0,792.3 1021.2,792.3 1022.4,792.3 1023.6,792.3 1024.8,792.3 1026.0,792.3 1027.2,792.3 1028.4,792.3 1029.6,792.3 1030.8,792.3 1032.0,792.3 1033.2,792.3 1034.4,792.3 1035.6,792.3 1036.8,792.3 1038.0,792.3 1039.2,792.3 1040.4,792.3 1041.6,792.3 1042.8,792.3 1044.0,792.3 1045.2,792.3 1046.4,792.3 1047.6,792.3 1048.8,792.3 1050.0,792.3 1051.3,792.3 1052.5,792.3 1053.7,792.3 1054.9,792.3 1056.1,792.3 1057.3,792.3 1058.5,792.3 1059.7,792.3 1060.9,792.3 1062.1,792.3 1063.3,792.3 1064.5,792.3 1065.7,792.3 1066.9,792.3 1068.1,792.3 1069.3,792.3 1070.5,792.3 1071.7,792.3 1072.9,792.3 1074.1,792.3 1075.3,792.3 1076.5,792.3 1077.7,792.3 1078.9,792.3 1080.1,792.3 1081.3,792.3 1082.5,792.3 1083.7,792.3 1084.9,792.3 1086.1,792.3 1087.3,792.3 1088.5,792.3 1089.7,792.3 1090.9,792.3 1092.1,792.3 1093.3,792.3 1094.5,792.3 1095.7,792.3 1096.9,792.3 1098.1,792.3 1099.3,792.3 1100.5,792.3 1101.7,792.3 1102.9,792.3 1104.2,792.3 1105.4,792.3 1106.6,792.3 1107.8,792.3 1109.0,792.3 1110.2,792.3 1111.4,792.3 1112.6,792.3 1113.8,792.3 1115.0,792.3 1116.2,792.3 1117.4,792.3 1118.6,792.3 1119.8,792.3 1121.0,792.3 1122.2,792.3 1123.4,792.3 1124.6,792.3 1125.8,792.3 1127.0,792.3 1128.2,792.3 1129.4,792.3 1130.6,792.3 1131.8,792.3 1133.0,792.3 1134.2,792.3 1135.4,792.3 1136.6,792.3 1137.8,792.3 1139.0,792.3 1140.2,792.3 1141.4,792.3 1142.6,792.3 1143.8,792.3 1145.0,792.3 1146.2,792.3 1147.4,792.3 1148.6,792.3 1149.8,792.3 1151.0,792.3 1152.2,792.3 1153.4,792.3 1154.6,792.3 1155.8,792.3 1157.0,792.3 1158.3,792.3 1159.5,792.3 1160.7,792.3 1161.9,792.3 1163.1,792.3 1164.3,792.3 1165.5,792.3 1166.7,792.3 1167.9,792.3 1169.1,792.3 1170.3,792.3 1171.5,792.3 1172.7,792.3 1173.9,792.3 1175.1,792.3 1176.3,792.3 1177.5,792.3 1178.7,792.3 1179.9,792.3 1181.1,792.3 1182.3,792.3 1183.5,792.3 1184.7,792.3 1185.9,792.3 1187.1,792.3 1188.3,792.3 1189.5,792.3" fill="none" stroke="#555" stroke-width="0.85" stroke-linejoin="round"/>
<polyline points="964.7,801.2 965.9,801.4 967.1,801.4 968.3,801.3 969.5,801.4 970.7,801.1 971.9,801.2 973.1,801.1 974.3,801.5 975.5,801.0 976.7,801.1 977.9,801.4 979.1,801.1 980.3,801.0 981.5,801.1 982.7,801.2 983.9,801.2 985.1,801.1 986.3,801.1 987.5,801.1 988.7,801.0 989.9,801.2 991.1,801.1 992.3,801.1 993.5,801.4 994.7,801.4 995.9,801.2 997.2,801.2 998.4,801.0 999.6,801.0 1000.8,801.2 1002.0,801.4 1003.2,801.0 1004.4,801.2 1005.6,801.4 1006.8,801.0 1008.0,801.3 1009.2,801.1 1010.4,801.3 1011.6,801.4 1012.8,801.4 1014.0,801.4 1015.2,801.0 1016.4,801.3 1017.6,801.2 1018.8,801.1 1020.0,801.1 1021.2,801.2 1022.4,801.2 1023.6,801.2 1024.8,801.4 1026.0,801.1 1027.2,801.4 1028.4,801.0 1029.6,801.3 1030.8,801.2 1032.0,801.2 1033.2,801.2 1034.4,801.0 1035.6,801.1 1036.8,801.2 1038.0,801.1 1039.2,801.4 1040.4,801.3 1041.6,801.3 1042.8,801.3 1044.0,801.0 1045.2,801.0 1046.4,801.0 1047.6,801.4 1048.8,801.2 1050.0,801.5 1051.3,801.1 1052.5,801.2 1053.7,801.3 1054.9,801.4 1056.1,801.2 1057.3,801.2 1058.5,801.1 1059.7,801.1 1060.9,801.4 1062.1,801.4 1063.3,801.2 1064.5,801.0 1065.7,801.4 1066.9,801.2 1068.1,801.3 1069.3,801.2 1070.5,801.0 1071.7,801.3 1072.9,801.0 1074.1,801.4 1075.3,801.0 1076.5,801.1 1077.7,801.0 1078.9,801.1 1080.1,801.3 1081.3,801.0 1082.5,801.0 1083.7,801.0 1084.9,801.0 1086.1,801.2 1087.3,801.1 1088.5,801.3 1089.7,801.3 1090.9,801.2 1092.1,801.4 1093.3,801.5 1094.5,801.1 1095.7,801.4 1096.9,801.3 1098.1,801.1 1099.3,801.4 1100.5,801.0 1101.7,801.3 1102.9,801.4 1104.2,801.3 1105.4,801.3 1106.6,801.3 1107.8,801.2 1109.0,801.0 1110.2,801.2 1111.4,801.1 1112.6,801.4 1113.8,801.4 1115.0,801.5 1116.2,801.1 1117.4,801.4 1118.6,801.4 1119.8,801.0 1121.0,801.2 1122.2,801.0 1123.4,801.0 1124.6,801.2 1125.8,801.3 1127.0,801.1 1128.2,801.1 1129.4,801.2 1130.6,801.2 1131.8,801.0 1133.0,801.0 1134.2,801.0 1135.4,801.1 1136.6,801.5 1137.8,801.1 1139.0,801.3 1140.2,801.3 1141.4,801.4 1142.6,801.4 1143.8,801.0 1145.0,801.1 1146.2,801.4 1147.4,801.3 1148.6,801.4 1149.8,801.0 1151.0,801.4 1152.2,801.2 1153.4,801.4 1154.6,801.3 1155.8,801.1 1157.0,801.2 1158.3,801.0 1159.5,801.4 1160.7,801.4 1161.9,801.3 1163.1,801.3 1164.3,801.3 1165.5,801.2 1166.7,801.1 1167.9,801.3 1169.1,801.5 1170.3,801.4 1171.5,801.4 1172.7,801.0 1173.9,801.1 1175.1,801.1 1176.3,801.2 1177.5,801.4 1178.7,801.3 1179.9,801.3 1181.1,801.2 1182.3,801.0 1183.5,801.1 1184.7,801.5 1185.9,801.4 1187.1,801.3 1188.3,801.3 1189.5,801.1" fill="none" stroke="#222" stroke-width="0.85" stroke-linejoin="round"/>
<polyline points="964.7,808.3 965.9,808.3 967.1,808.3 968.3,808.4 969.5,808.8 970.7,808.6 971.9,808.4 973.1,808.3 974.3,808.3 975.5,808.3 976.7,808.4 977.9,808.5 979.1,808.4 980.3,808.4 981.5,808.6 982.7,808.4 983.9,808.4 985.1,808.7 986.3,808.4 987.5,808.6 988.7,808.4 989.9,808.7 991.1,808.3 992.3,808.4 993.5,808.7 994.7,808.4 995.9,808.6 997.2,808.4 998.4,808.3 999.6,808.5 1000.8,808.5 1002.0,808.3 1003.2,808.6 1004.4,808.5 1005.6,808.5 1006.8,808.7 1008.0,808.7 1009.2,808.5 1010.4,808.5 1011.6,808.7 1012.8,808.7 1014.0,808.6 1015.2,808.6 1016.4,808.5 1017.6,808.7 1018.8,808.6 1020.0,808.7 1021.2,808.4 1022.4,808.3 1023.6,808.7 1024.8,808.6 1026.0,808.7 1027.2,808.7 1028.4,808.7 1029.6,808.5 1030.8,808.7 1032.0,808.6 1033.2,808.5 1034.4,808.4 1035.6,808.3 1036.8,808.4 1038.0,808.5 1039.2,808.5 1040.4,808.6 1041.6,808.8 1042.8,808.6 1044.0,808.6 1045.2,808.3 1046.4,808.7 1047.6,808.6 1048.8,808.7 1050.0,808.5 1051.3,808.6 1052.5,808.6 1053.7,808.7 1054.9,808.5 1056.1,808.7 1057.3,808.7 1058.5,808.6 1059.7,808.6 1060.9,808.7 1062.1,808.6 1063.3,808.8 1064.5,808.8 1065.7,808.5 1066.9,808.6 1068.1,808.3 1069.3,808.8 1070.5,808.6 1071.7,808.3 1072.9,808.3 1074.1,808.7 1075.3,808.7 1076.5,808.6 1077.7,808.5 1078.9,808.4 1080.1,808.5 1081.3,808.8 1082.5,808.6 1083.7,808.3 1084.9,808.4 1086.1,808.3 1087.3,808.7 1088.5,808.7 1089.7,808.8 1090.9,808.5 1092.1,808.5 1093.3,808.3 1094.5,808.4 1095.7,808.5 1096.9,808.5 1098.1,808.5 1099.3,808.7 1100.5,808.7 1101.7,808.5 1102.9,808.7 1104.2,808.4 1105.4,808.4 1106.6,808.7 1107.8,808.3 1109.0,808.3 1110.2,808.8 1111.4,808.5 1112.6,808.5 1113.8,808.7 1115.0,808.7 1116.2,808.5 1117.4,808.7 1118.6,808.4 1119.8,808.7 1121.0,808.5 1122.2,808.5 1123.4,808.3 1124.6,808.3 1125.8,808.5 1127.0,808.4 1128.2,808.6 1129.4,808.8 1130.6,808.4 1131.8,808.7 1133.0,808.6 1134.2,808.6 1135.4,808.7 1136.6,808.5 1137.8,808.7 1139.0,808.4 1140.2,808.6 1141.4,808.6 1142.6,808.4 1143.8,808.4 1145.0,808.8 1146.2,808.6 1147.4,808.5 1148.6,808.6 1149.8,808.7 1151.0,808.6 1152.2,808.4 1153.4,808.8 1154.6,808.7 1155.8,808.7 1157.0,808.7 1158.3,808.6 1159.5,808.5 1160.7,808.8 1161.9,808.7 1163.1,808.4 1164.3,808.7 1165.5,808.5 1166.7,808.3 1167.9,808.7 1169.1,808.4 1170.3,808.5 1171.5,808.3 1172.7,808.6 1173.9,808.6 1175.1,808.7 1176.3,808.8 1177.5,808.7 1178.7,808.6 1179.9,808.5 1181.1,808.8 1182.3,808.4 1183.5,808.5 1184.7,808.6 1185.9,808.5 1187.1,808.6 1188.3,808.4 1189.5,808.4" fill="none" stroke="#222" stroke-width="0.85" stroke-linejoin="round" stroke-dasharray="9 3 2 4 14 3"/>
<polyline points="964.7,816.0 965.9,816.2 967.1,816.1 968.3,816.4 969.5,816.1 970.7,816.1 971.9,816.3 973.1,816.1 974.3,816.4 975.5,816.2 976.7,816.0 977.9,816.3 979.1,816.5 980.3,816.1 981.5,816.3 982.7,816.2 983.9,816.5 985.1,816.5 986.3,816.0 987.5,816.2 988.7,816.4 989.9,816.2 991.1,816.2 992.3,816.3 993.5,816.0 994.7,816.0 995.9,816.4 997.2,816.2 998.4,816.2 999.6,816.3 1000.8,816.4 1002.0,816.4 1003.2,816.0 1004.4,816.3 1005.6,816.0 1006.8,816.2 1008.0,816.4 1009.2,816.2 1010.4,816.2 1011.6,816.4 1012.8,816.3 1014.0,816.4 1015.2,816.2 1016.4,816.1 1017.6,816.3 1018.8,816.2 1020.0,816.0 1021.2,816.0 1022.4,816.5 1023.6,816.3 1024.8,816.0 1026.0,816.4 1027.2,816.4 1028.4,816.0 1029.6,816.5 1030.8,816.1 1032.0,816.2 1033.2,816.3 1034.4,816.2 1035.6,816.1 1036.8,816.2 1038.0,816.3 1039.2,816.5 1040.4,816.4 1041.6,816.5 1042.8,816.4 1044.0,816.2 1045.2,816.2 1046.4,816.4 1047.6,816.4 1048.8,816.1 1050.0,816.4 1051.3,816.1 1052.5,816.0 1053.7,816.2 1054.9,816.4 1056.1,816.2 1057.3,816.4 1058.5,816.4 1059.7,816.4 1060.9,816.1 1062.1,816.4 1063.3,816.0 1064.5,816.2 1065.7,816.0 1066.9,816.2 1068.1,816.4 1069.3,816.4 1070.5,816.5 1071.7,816.3 1072.9,816.2 1074.1,816.1 1075.3,816.2 1076.5,816.4 1077.7,816.1 1078.9,816.4 1080.1,816.1 1081.3,816.4 1082.5,816.1 1083.7,816.5 1084.9,816.0 1086.1,816.0 1087.3,816.3 1088.5,816.4 1089.7,816.3 1090.9,816.2 1092.1,816.3 1093.3,816.1 1094.5,816.1 1095.7,816.1 1096.9,816.1 1098.1,816.0 1099.3,816.1 1100.5,816.2 1101.7,816.3 1102.9,816.1 1104.2,816.3 1105.4,816.1 1106.6,816.4 1107.8,816.0 1109.0,816.4 1110.2,816.4 1111.4,816.3 1112.6,816.3 1113.8,816.5 1115.0,816.0 1116.2,816.0 1117.4,816.2 1118.6,816.3 1119.8,816.2 1121.0,816.2 1122.2,816.2 1123.4,816.2 1124.6,816.4 1125.8,816.0 1127.0,816.3 1128.2,816.0 1129.4,816.4 1130.6,816.1 1131.8,816.4 1133.0,816.1 1134.2,816.3 1135.4,816.2 1136.6,816.5 1137.8,816.2 1139.0,816.2 1140.2,816.2 1141.4,816.1 1142.6,816.5 1143.8,816.1 1145.0,816.0 1146.2,816.1 1147.4,816.3 1148.6,816.4 1149.8,816.3 1151.0,816.5 1152.2,816.1 1153.4,816.4 1154.6,816.4 1155.8,816.1 1157.0,816.0 1158.3,816.2 1159.5,816.2 1160.7,816.2 1161.9,816.3 1163.1,816.1 1164.3,816.1 1165.5,816.1 1166.7,816.1 1167.9,816.2 1169.1,816.3 1170.3,816.1 1171.5,816.0 1172.7,816.3 1173.9,816.0 1175.1,816.4 1176.3,816.3 1177.5,816.1 1178.7,816.0 1179.9,816.4 1181.1,816.0 1182.3,816.4 1183.5,816.2 1184.7,816.3 1185.9,816.1 1187.1,816.3 1188.3,816.1 1189.5,816.3" fill="none" stroke="#222" stroke-width="0.85" stroke-linejoin="round" stroke-dasharray="16 3 3 3 7 4"/>
<line x1="1189.51" y1="781.26" x2="1213.73" y2="782.11" stroke="#333" stroke-width="0.7" />
<line x1="1189.51" y1="786.38" x2="1213.73" y2="787.23" stroke="#333" stroke-width="0.7" />
<line x1="1189.51" y1="791.49" x2="1213.73" y2="792.35" stroke="#333" stroke-width="0.7" />
<line x1="1189.51" y1="794.05" x2="1213.73" y2="794.90" stroke="#333" stroke-width="0.7" />
<rect x="1189.51" y="793.37" width="24.22" height="3.41" fill="#2a2a2a" />
<line x1="1287.27" y1="530.13" x2="1329.87" y2="530.13" stroke="#000" stroke-width="1.5" />
<rect x="1302.05" y="521.49" width="12.86" height="17.27" fill="#000" />
<text x="1341.39" y="539.92" font-size="29" >Isotonic</text>
<line x1="1287.27" y1="622.24" x2="1329.87" y2="622.24" stroke="#000" stroke-width="1.5" />
<rect x="1302.05" y="613.61" width="12.86" height="17.27" fill="#0e9a64" />
<text x="1343.88" y="631.07" font-size="29" >(-)</text>
<line x1="1287.27" y1="667.91" x2="1329.87" y2="667.91" stroke="#aa10e0" stroke-width="1.5" />
<rect x="1302.05" y="659.28" width="12.86" height="17.27" fill="#aa10e0" />
<text x="1351.56" y="674.63" font-size="29" >ARC118925</text>
<line x1="1287.27" y1="710.52" x2="1329.87" y2="710.52" stroke="#0000a0" stroke-width="1.5" />
<rect x="1302.05" y="701.88" width="12.86" height="17.27" fill="#0000a0" />
<text x="1341.39" y="717.42" font-size="29" >MRS2578</text>
<line x1="1287.27" y1="750.05" x2="1329.87" y2="750.05" stroke="#a00000" stroke-width="1.5" />
<rect x="1302.05" y="741.41" width="12.86" height="17.27" fill="#a00000" />
<text x="1341.39" y="760.41" font-size="29" >MCC950</text>
<text x="1287.27" y="594.03" font-size="29" >Hypotonic + :</text>
<text x="1594.30" y="538.40" font-size="29" >Current density (pA/pF)</text>
<line x1="1610.50" y1="551.40" x2="1610.50" y2="995.50" stroke="#000" stroke-width="5" />
<line x1="1599.55" y1="575.86" x2="1610.50" y2="575.86" stroke="#000" stroke-width="4.2" />
<line x1="1599.55" y1="679.75" x2="1610.50" y2="679.75" stroke="#000" stroke-width="4.2" />
<line x1="1599.55" y1="888.81" x2="1610.50" y2="888.81" stroke="#000" stroke-width="4.2" />
<line x1="1599.55" y1="993.21" x2="1610.50" y2="993.21" stroke="#000" stroke-width="4.2" />
<line x1="1410.71" y1="783.90" x2="1812.45" y2="783.90" stroke="#000" stroke-width="5" />
<line x1="1416.59" y1="783.90" x2="1416.59" y2="800.53" stroke="#000" stroke-width="4.2" />
<line x1="1513.57" y1="783.90" x2="1513.57" y2="800.53" stroke="#000" stroke-width="4.2" />
<line x1="1708.30" y1="783.90" x2="1708.30" y2="800.53" stroke="#000" stroke-width="4.2" />
<line x1="1805.28" y1="783.90" x2="1805.28" y2="800.53" stroke="#000" stroke-width="4.2" />
<text x="1435.50" y="831.00" font-size="29" text-anchor="end" >-100</text>
<text x="1804.26" y="828.70" font-size="29" text-anchor="middle" >100</text>
<text x="1616.70" y="589.00" font-size="29" >100</text>
<text font-size="24" text-anchor="middle" font-style="italic" transform="translate(1509.22 841.47) rotate(-10)" >-50</text>
<text x="1720.30" y="868.30" font-size="29" >V (mV)</text>
<path d="M1416.6 867.1 V854.8 M1410.8 854.8 H1422.4" fill="none" stroke="#a00000" stroke-width="2.3" />
<path d="M1455.5 856.8 V844.8 M1449.7 844.8 H1461.3" fill="none" stroke="#a00000" stroke-width="2.3" />
<path d="M1494.4 840.2 V832.5 M1488.6 832.5 H1500.2" fill="none" stroke="#a00000" stroke-width="2.3" />
<path d="M1533.5 822.3 V819.2 M1527.7 819.2 H1539.3" fill="none" stroke="#a00000" stroke-width="2.3" />
<path d="M1688.8 725.0 V722.0 M1683.0 722.0 H1694.6" fill="none" stroke="#a00000" stroke-width="2.3" />
<path d="M1727.5 695.6 V684.1 M1721.7 684.1 H1733.3" fill="none" stroke="#a00000" stroke-width="2.3" />
<path d="M1766.4 663.6 V645.7 M1760.6 645.7 H1772.2" fill="none" stroke="#a00000" stroke-width="2.3" />
<path d="M1805.3 631.6 V605.5 M1799.5 605.5 H1811.1" fill="none" stroke="#a00000" stroke-width="2.3" />
<polyline points="1416.6,867.1 1455.5,856.8 1494.4,840.2 1533.5,822.3 1572.4,800.5 1611.1,776.2 1650.0,752.4 1688.8,725.0 1727.5,695.6 1766.4,663.6 1805.3,631.6" fill="none" stroke="#a00000" stroke-width="2.1" />
<rect x="1410.39" y="858.66" width="12.40" height="16.80" fill="#a00000" />
<rect x="1449.29" y="848.43" width="12.40" height="16.80" fill="#a00000" />
<rect x="1488.18" y="831.79" width="12.40" height="16.80" fill="#a00000" />
<rect x="1527.33" y="813.88" width="12.40" height="16.80" fill="#a00000" />
<rect x="1566.23" y="792.13" width="12.40" height="16.80" fill="#a00000" />
<rect x="1604.86" y="767.82" width="12.40" height="16.80" fill="#a00000" />
<rect x="1643.76" y="744.03" width="12.40" height="16.80" fill="#a00000" />
<rect x="1682.65" y="716.65" width="12.40" height="16.80" fill="#a00000" />
<rect x="1721.29" y="687.22" width="12.40" height="16.80" fill="#a00000" />
<rect x="1760.19" y="655.23" width="12.40" height="16.80" fill="#a00000" />
<rect x="1799.08" y="623.25" width="12.40" height="16.80" fill="#a00000" />
<path d="M1416.6 892.6 V885.0 M1410.8 885.0 H1422.4" fill="none" stroke="#0000a0" stroke-width="2.3" />
<path d="M1455.5 872.2 V864.5 M1449.7 864.5 H1461.3" fill="none" stroke="#0000a0" stroke-width="2.3" />
<path d="M1494.4 850.4 V844.0 M1488.6 844.0 H1500.2" fill="none" stroke="#0000a0" stroke-width="2.3" />
<path d="M1533.5 827.4 V823.6 M1527.7 823.6 H1539.3" fill="none" stroke="#0000a0" stroke-width="2.3" />
<path d="M1650.0 750.6 V748.1 M1644.2 748.1 H1655.8" fill="none" stroke="#0000a0" stroke-width="2.3" />
<path d="M1688.8 719.9 V712.3 M1683.0 712.3 H1694.6" fill="none" stroke="#0000a0" stroke-width="2.3" />
<path d="M1727.5 693.1 V679.0 M1721.7 679.0 H1733.3" fill="none" stroke="#0000a0" stroke-width="2.3" />
<path d="M1766.4 665.4 V647.5 M1760.6 647.5 H1772.2" fill="none" stroke="#0000a0" stroke-width="2.3" />
<path d="M1805.3 647.0 V621.4 M1799.5 621.4 H1811.1" fill="none" stroke="#0000a0" stroke-width="2.3" />
<polyline points="1416.6,892.6 1455.5,872.2 1494.4,850.4 1533.5,827.4 1572.4,803.1 1611.1,776.2 1650.0,750.6 1688.8,719.9 1727.5,693.1 1766.4,665.4 1805.3,647.0" fill="none" stroke="#0000a0" stroke-width="2.1" />
<rect x="1410.39" y="884.25" width="12.40" height="16.80" fill="#0000a0" />
<rect x="1449.29" y="863.78" width="12.40" height="16.80" fill="#0000a0" />
<rect x="1488.18" y="842.03" width="12.40" height="16.80" fill="#0000a0" />
<rect x="1527.33" y="819.00" width="12.40" height="16.80" fill="#0000a0" />
<rect x="1566.23" y="794.69" width="12.40" height="16.80" fill="#0000a0" />
<rect x="1604.86" y="767.82" width="12.40" height="16.80" fill="#0000a0" />
<rect x="1643.76" y="742.23" width="12.40" height="16.80" fill="#0000a0" />
<rect x="1682.65" y="711.53" width="12.40" height="16.80" fill="#0000a0" />
<rect x="1721.29" y="684.66" width="12.40" height="16.80" fill="#0000a0" />
<rect x="1760.19" y="657.02" width="12.40" height="16.80" fill="#0000a0" />
<rect x="1799.08" y="638.60" width="12.40" height="16.80" fill="#0000a0" />
<path d="M1416.6 881.1 V876.0 M1410.8 876.0 H1422.4" fill="none" stroke="#aa10e0" stroke-width="2.3" />
<path d="M1455.5 861.9 V856.8 M1449.7 856.8 H1461.3" fill="none" stroke="#aa10e0" stroke-width="2.3" />
<path d="M1494.4 841.5 V837.6 M1488.6 837.6 H1500.2" fill="none" stroke="#aa10e0" stroke-width="2.3" />
<path d="M1533.5 821.0 V818.4 M1527.7 818.4 H1539.3" fill="none" stroke="#aa10e0" stroke-width="2.3" />
<path d="M1650.0 754.5 V751.9 M1644.2 751.9 H1655.8" fill="none" stroke="#aa10e0" stroke-width="2.3" />
<path d="M1688.8 731.4 V726.3 M1683.0 726.3 H1694.6" fill="none" stroke="#aa10e0" stroke-width="2.3" />
<path d="M1727.5 708.4 V700.7 M1721.7 700.7 H1733.3" fill="none" stroke="#aa10e0" stroke-width="2.3" />
<path d="M1766.4 686.7 V675.1 M1760.6 675.1 H1772.2" fill="none" stroke="#aa10e0" stroke-width="2.3" />
<path d="M1805.3 669.5 V654.2 M1799.5 654.2 H1811.1" fill="none" stroke="#aa10e0" stroke-width="2.3" />
<polyline points="1416.6,881.1 1455.5,861.9 1494.4,841.5 1533.5,821.0 1572.4,800.0 1611.1,775.5 1650.0,754.5 1688.8,731.4 1727.5,708.4 1766.4,686.7 1805.3,669.5" fill="none" stroke="#aa10e0" stroke-width="2.1" />
<rect x="1410.39" y="872.74" width="12.40" height="16.80" fill="#aa10e0" />
<rect x="1449.29" y="853.54" width="12.40" height="16.80" fill="#aa10e0" />
<rect x="1488.18" y="833.07" width="12.40" height="16.80" fill="#aa10e0" />
<rect x="1527.33" y="812.60" width="12.40" height="16.80" fill="#aa10e0" />
<rect x="1566.23" y="791.62" width="12.40" height="16.80" fill="#aa10e0" />
<rect x="1604.86" y="767.06" width="12.40" height="16.80" fill="#aa10e0" />
<rect x="1643.76" y="746.07" width="12.40" height="16.80" fill="#aa10e0" />
<rect x="1682.65" y="723.04" width="12.40" height="16.80" fill="#aa10e0" />
<rect x="1721.29" y="700.01" width="12.40" height="16.80" fill="#aa10e0" />
<rect x="1760.19" y="678.26" width="12.40" height="16.80" fill="#aa10e0" />
<rect x="1799.08" y="661.12" width="12.40" height="16.80" fill="#aa10e0" />
<path d="M1416.6 880.4 V876.5 M1410.8 876.5 H1422.4" fill="none" stroke="#0e9a64" stroke-width="2.3" />
<path d="M1455.5 863.7 V859.9 M1449.7 859.9 H1461.3" fill="none" stroke="#0e9a64" stroke-width="2.3" />
<path d="M1494.4 842.8 V840.2 M1488.6 840.2 H1500.2" fill="none" stroke="#0e9a64" stroke-width="2.3" />
<path d="M1688.8 722.5 V719.9 M1683.0 719.9 H1694.6" fill="none" stroke="#0e9a64" stroke-width="2.3" />
<path d="M1727.5 693.6 V689.7 M1721.7 689.7 H1733.3" fill="none" stroke="#0e9a64" stroke-width="2.3" />
<path d="M1766.4 663.6 V658.5 M1760.6 658.5 H1772.2" fill="none" stroke="#0e9a64" stroke-width="2.3" />
<path d="M1805.3 633.7 V627.3 M1799.5 627.3 H1811.1" fill="none" stroke="#0e9a64" stroke-width="2.3" />
<polyline points="1416.6,880.4 1455.5,863.7 1494.4,842.8 1533.5,822.8 1572.4,800.5 1611.1,774.9 1650.0,751.1 1688.8,722.5 1727.5,693.6 1766.4,663.6 1805.3,633.7" fill="none" stroke="#000" stroke-width="2.1" />
<rect x="1410.39" y="871.97" width="12.40" height="16.80" fill="#0e9a64" />
<rect x="1449.29" y="855.34" width="12.40" height="16.80" fill="#0e9a64" />
<rect x="1488.18" y="834.35" width="12.40" height="16.80" fill="#0e9a64" />
<rect x="1527.33" y="814.39" width="12.40" height="16.80" fill="#0e9a64" />
<rect x="1566.23" y="792.13" width="12.40" height="16.80" fill="#0e9a64" />
<rect x="1604.86" y="766.54" width="12.40" height="16.80" fill="#0e9a64" />
<rect x="1643.76" y="742.75" width="12.40" height="16.80" fill="#0e9a64" />
<rect x="1682.65" y="714.09" width="12.40" height="16.80" fill="#0e9a64" />
<rect x="1721.29" y="685.17" width="12.40" height="16.80" fill="#0e9a64" />
<rect x="1760.19" y="655.23" width="12.40" height="16.80" fill="#0e9a64" />
<rect x="1799.08" y="625.29" width="12.40" height="16.80" fill="#0e9a64" />
<polyline points="1416.6,792.9 1455.5,791.1 1494.4,787.2 1533.5,785.2 1572.4,781.9 1611.1,780.6 1650.0,780.1 1688.8,778.8 1727.5,777.0 1766.4,775.5 1805.3,773.7" fill="none" stroke="#000" stroke-width="2.1" />
<rect x="1410.39" y="784.46" width="12.40" height="16.80" fill="#000" />
<rect x="1449.29" y="782.66" width="12.40" height="16.80" fill="#000" />
<rect x="1488.18" y="778.83" width="12.40" height="16.80" fill="#000" />
<rect x="1527.33" y="776.78" width="12.40" height="16.80" fill="#000" />
<rect x="1566.23" y="773.45" width="12.40" height="16.80" fill="#000" />
<rect x="1604.86" y="772.17" width="12.40" height="16.80" fill="#000" />
<rect x="1643.76" y="771.66" width="12.40" height="16.80" fill="#000" />
<rect x="1682.65" y="770.38" width="12.40" height="16.80" fill="#000" />
<rect x="1721.29" y="768.59" width="12.40" height="16.80" fill="#000" />
<rect x="1760.19" y="767.06" width="12.40" height="16.80" fill="#000" />
<rect x="1799.08" y="765.26" width="12.40" height="16.80" fill="#000" />
</g>
<g id="pd">
<defs>
<filter id="bg" color-interpolation-filters="sRGB" x="-30%" y="-30%" width="160%" height="160%"><feGaussianBlur stdDeviation="3.2"/></filter>
<filter id="br" color-interpolation-filters="sRGB" x="-30%" y="-30%" width="160%" height="160%"><feGaussianBlur stdDeviation="1.8"/></filter>
<filter id="ns" color-interpolation-filters="sRGB" x="0" y="0" width="100%" height="100%"><feTurbulence type="fractalNoise" baseFrequency="0.35" numOctaves="2" seed="4" result="n"/><feColorMatrix in="n" type="matrix" values="0 0 0 0 0  0 0.10 0 0 0  0 0 0 0 0  0 0 0 0 1"/></filter>
<radialGradient id="ring"><stop offset="0" stop-color="#000" stop-opacity="0.16"/><stop offset="0.45" stop-color="#000" stop-opacity="0.1"/><stop offset="0.8" stop-color="#000" stop-opacity="0"/></radialGradient>
</defs>
<text x="0.00" y="1020.30" font-size="46" font-weight="bold" >d</text>
<text x="778.30" y="1013.00" font-size="29" text-anchor="middle" >Hypotonic</text>
<line x1="315.20" y1="1031.30" x2="1281.00" y2="1031.30" stroke="#231f20" stroke-width="2.6" />
<text x="174.60" y="1066.60" font-size="29" text-anchor="middle" >Isotonic</text>
<text x="419.90" y="1066.60" font-size="29" text-anchor="middle" >7 min</text>
<text x="664.00" y="1066.60" font-size="29" text-anchor="middle" >11 min</text>
<text x="908.40" y="1066.60" font-size="29" text-anchor="middle" >37 min</text>
<text x="1153.70" y="1066.60" font-size="29" text-anchor="middle" >55 min</text>
<text font-size="29" text-anchor="middle" fill="#39b54a" transform="translate(49.30 1210.30) rotate(-90)" >GCaMP6</text>
<text font-size="29" text-anchor="middle" fill="#ed1c24" transform="translate(52.20 1435.00) rotate(-90)" >mScarlet</text>
<svg x="72.0" y="1072.4" width="235.9" height="219.3" viewBox="0 0 235.9 219.3" overflow="hidden">
<rect width="235.9" height="219.3" fill="#011501"/>
<rect width="235.9" height="219.3" filter="url(#ns)" opacity="0.6" style="mix-blend-mode:screen"/>
<g filter="url(#bg)">
<ellipse cx="153.4" cy="32.0" rx="13.5" ry="15.5" fill="rgb(24,199,24)"/>
<ellipse cx="153.4" cy="32.0" rx="9.4" ry="10.8" fill="url(#ring)"/>
<ellipse cx="69.9" cy="95.5" rx="17.0" ry="14.0" fill="rgb(9,74,9)" transform="rotate(28 69.9 95.5)"/>
<ellipse cx="50.0" cy="103.0" rx="22.0" ry="17.0" fill="rgb(10,81,10)"/>
<ellipse cx="198.2" cy="82.5" rx="16.0" ry="15.0" fill="rgb(13,110,13)"/>
<ellipse cx="198.2" cy="82.5" rx="11.2" ry="10.5" fill="url(#ring)"/>
<ellipse cx="230.0" cy="82.0" rx="10.0" ry="12.0" fill="rgb(11,92,11)"/>
<ellipse cx="133.4" cy="127.8" rx="15.0" ry="15.5" fill="rgb(17,137,17)"/>
<ellipse cx="133.4" cy="127.8" rx="10.5" ry="10.8" fill="url(#ring)"/>
<ellipse cx="180.3" cy="138.2" rx="13.0" ry="15.0" fill="rgb(19,159,19)"/>
<ellipse cx="180.3" cy="138.2" rx="9.1" ry="10.5" fill="url(#ring)"/>
<ellipse cx="200.5" cy="153.0" rx="14.0" ry="14.0" fill="rgb(13,103,13)"/>
<ellipse cx="200.5" cy="153.0" rx="9.8" ry="9.8" fill="url(#ring)"/>
<ellipse cx="146.0" cy="205.0" rx="23.0" ry="13.0" fill="rgb(20,163,20)" transform="rotate(-38 146.0 205.0)"/>
<ellipse cx="146.0" cy="205.0" rx="16.1" ry="9.1" fill="url(#ring)"/>
<ellipse cx="108.0" cy="214.0" rx="10.0" ry="9.0" fill="rgb(10,81,10)"/>
<ellipse cx="1.0" cy="126.0" rx="8.0" ry="11.0" fill="rgb(11,92,11)"/>
<ellipse cx="234.0" cy="153.0" rx="6.0" ry="10.0" fill="rgb(10,81,10)"/>
<ellipse cx="3.0" cy="214.0" rx="9.0" ry="8.0" fill="rgb(6,48,6)"/>
</g>
<ellipse cx="153.4" cy="32.8" rx="19.7" ry="22.4" fill="none" stroke="#ffe400" stroke-width="2.5"/>
<ellipse cx="69.9" cy="95.5" rx="24.5" ry="18.8" fill="none" stroke="#29abe2" stroke-width="2.5" transform="rotate(28 69.9 95.5)"/>
<line x1="96.70" y1="158.20" x2="91.19" y2="129.30" stroke="#29abe2" stroke-width="1.7" /><polygon points="89.3,119.4 99.0,131.8 91.2,129.3 84.9,134.5" fill="#29abe2"/>
</svg>
<svg x="72.0" y="1300.0" width="235.9" height="219.3" viewBox="0 0 235.9 219.3" overflow="hidden">
<rect width="235.9" height="219.3" fill="#000"/>
<g filter="url(#br)">
<ellipse cx="153.4" cy="32.8" rx="15.7" ry="17.7" fill="rgb(255,0,0)"/>
<ellipse cx="69.9" cy="96.3" rx="19.2" ry="16.2" fill="rgb(255,0,0)" transform="rotate(28 69.9 96.3)"/>
<ellipse cx="50.0" cy="103.8" rx="24.2" ry="19.2" fill="rgb(255,0,0)"/>
<ellipse cx="198.2" cy="83.3" rx="18.2" ry="17.2" fill="rgb(255,0,0)"/>
<ellipse cx="230.0" cy="82.8" rx="12.2" ry="14.2" fill="rgb(255,0,0)"/>
<ellipse cx="133.4" cy="128.6" rx="17.2" ry="17.7" fill="rgb(255,0,0)"/>
<ellipse cx="180.3" cy="139.0" rx="15.2" ry="17.2" fill="rgb(255,0,0)"/>
<ellipse cx="200.5" cy="153.8" rx="16.2" ry="16.2" fill="rgb(255,0,0)"/>
<ellipse cx="146.0" cy="205.8" rx="25.2" ry="15.2" fill="rgb(255,0,0)" transform="rotate(-38 146.0 205.8)"/>
<ellipse cx="108.0" cy="214.8" rx="12.2" ry="11.2" fill="rgb(229,0,0)"/>
<ellipse cx="1.0" cy="126.8" rx="10.2" ry="13.2" fill="rgb(255,0,0)"/>
<ellipse cx="234.0" cy="153.8" rx="8.2" ry="12.2" fill="rgb(255,0,0)"/>
<ellipse cx="3.0" cy="214.8" rx="11.2" ry="10.2" fill="rgb(153,0,0)"/>
</g>
<ellipse cx="153.4" cy="33.6" rx="19.7" ry="22.4" fill="none" stroke="#ffe400" stroke-width="2.5"/>
<ellipse cx="69.9" cy="96.3" rx="24.5" ry="18.8" fill="none" stroke="#29abe2" stroke-width="2.5" transform="rotate(28 69.9 96.3)"/>
<line x1="99.70" y1="156.70" x2="93.63" y2="127.17" stroke="#29abe2" stroke-width="1.7" /><polygon points="91.6,117.3 101.5,129.6 93.6,127.2 87.4,132.5" fill="#29abe2"/>
</svg>
<svg x="315.2" y="1072.4" width="234.8" height="219.3" viewBox="0 0 234.8 219.3" overflow="hidden">
<rect width="234.8" height="219.3" fill="#011501"/>
<rect width="234.8" height="219.3" filter="url(#ns)" opacity="0.6" style="mix-blend-mode:screen"/>
<g filter="url(#bg)">
<ellipse cx="148.4" cy="29.3" rx="16.0" ry="19.0" fill="rgb(18,148,18)"/>
<ellipse cx="148.4" cy="29.3" rx="11.2" ry="13.3" fill="url(#ring)"/>
<ellipse cx="55.5" cy="77.6" rx="20.0" ry="15.0" fill="rgb(7,52,7)" transform="rotate(28 55.5 77.6)"/>
<ellipse cx="48.0" cy="104.0" rx="21.0" ry="19.0" fill="rgb(9,70,9)"/>
<ellipse cx="189.3" cy="83.6" rx="17.0" ry="17.0" fill="rgb(10,81,10)"/>
<ellipse cx="226.0" cy="80.6" rx="14.0" ry="15.0" fill="rgb(19,159,19)"/>
<ellipse cx="226.0" cy="80.6" rx="9.8" ry="10.5" fill="url(#ring)"/>
<ellipse cx="128.7" cy="125.4" rx="17.0" ry="18.0" fill="rgb(10,81,10)"/>
<ellipse cx="177.3" cy="132.8" rx="17.0" ry="18.0" fill="rgb(17,137,17)"/>
<ellipse cx="177.3" cy="132.8" rx="11.9" ry="12.6" fill="url(#ring)"/>
<ellipse cx="198.2" cy="155.0" rx="16.0" ry="16.0" fill="rgb(9,74,9)"/>
<ellipse cx="141.5" cy="203.0" rx="18.0" ry="17.0" fill="rgb(17,137,17)"/>
<ellipse cx="141.5" cy="203.0" rx="12.6" ry="11.9" fill="url(#ring)"/>
<ellipse cx="102.7" cy="211.3" rx="12.0" ry="10.0" fill="rgb(7,59,7)"/>
<ellipse cx="231.0" cy="154.6" rx="10.0" ry="16.0" fill="rgb(7,59,7)"/>
<ellipse cx="1.0" cy="127.0" rx="6.0" ry="12.0" fill="rgb(9,70,9)"/>
<ellipse cx="2.0" cy="214.0" rx="5.0" ry="7.0" fill="rgb(5,37,5)"/>
</g>
<ellipse cx="148.4" cy="29.3" rx="19.7" ry="23.0" fill="none" stroke="#ffe400" stroke-width="2.5"/>
<ellipse cx="55.5" cy="77.6" rx="24.5" ry="18.8" fill="none" stroke="#29abe2" stroke-width="2.5" transform="rotate(28 55.5 77.6)"/>
<line x1="81.80" y1="139.70" x2="76.21" y2="110.80" stroke="#29abe2" stroke-width="1.7" /><polygon points="74.3,100.9 84.0,113.3 76.2,110.8 69.9,116.0" fill="#29abe2"/>
</svg>
<svg x="315.2" y="1300.0" width="234.8" height="219.3" viewBox="0 0 234.8 219.3" overflow="hidden">
<rect width="234.8" height="219.3" fill="#000"/>
<g filter="url(#br)">
<ellipse cx="148.4" cy="28.4" rx="18.2" ry="21.2" fill="rgb(255,0,0)"/>
<ellipse cx="55.5" cy="76.7" rx="22.2" ry="17.2" fill="rgb(114,0,0)" transform="rotate(28 55.5 76.7)"/>
<ellipse cx="48.0" cy="103.1" rx="23.2" ry="21.2" fill="rgb(255,0,0)"/>
<ellipse cx="189.3" cy="82.7" rx="19.2" ry="19.2" fill="rgb(255,0,0)"/>
<ellipse cx="226.0" cy="79.7" rx="16.2" ry="17.2" fill="rgb(255,0,0)"/>
<ellipse cx="128.7" cy="124.5" rx="19.2" ry="20.2" fill="rgb(255,0,0)"/>
<ellipse cx="177.3" cy="131.9" rx="19.2" ry="20.2" fill="rgb(255,0,0)"/>
<ellipse cx="198.2" cy="154.1" rx="18.2" ry="18.2" fill="rgb(255,0,0)"/>
<ellipse cx="141.5" cy="202.1" rx="20.2" ry="19.2" fill="rgb(255,0,0)"/>
<ellipse cx="102.7" cy="210.4" rx="14.2" ry="12.2" fill="rgb(127,0,0)"/>
<ellipse cx="231.0" cy="153.7" rx="12.2" ry="18.2" fill="rgb(153,0,0)"/>
<ellipse cx="1.0" cy="126.1" rx="8.2" ry="14.2" fill="rgb(255,0,0)"/>
<ellipse cx="2.0" cy="213.1" rx="7.2" ry="9.2" fill="rgb(127,0,0)"/>
</g>
<ellipse cx="148.4" cy="28.4" rx="19.7" ry="23.0" fill="none" stroke="#ffe400" stroke-width="2.5"/>
<ellipse cx="55.5" cy="76.7" rx="24.5" ry="18.8" fill="none" stroke="#29abe2" stroke-width="2.5" transform="rotate(28 55.5 76.7)"/>
<line x1="85.40" y1="138.20" x2="80.04" y2="109.31" stroke="#29abe2" stroke-width="1.7" /><polygon points="78.2,99.4 87.8,111.9 80.0,109.3 73.7,114.5" fill="#29abe2"/>
</svg>
<svg x="558.0" y="1072.4" width="235.9" height="219.3" viewBox="0 0 235.9 219.3" overflow="hidden">
<rect width="235.9" height="219.3" fill="#011501"/>
<rect width="235.9" height="219.3" filter="url(#ns)" opacity="0.6" style="mix-blend-mode:screen"/>
<g filter="url(#bg)">
<ellipse cx="149.1" cy="29.1" rx="18.6" ry="22.0" fill="rgb(6,255,6)"/>
<ellipse cx="54.0" cy="73.4" rx="20.0" ry="15.0" fill="rgb(11,92,11)" transform="rotate(28 54.0 73.4)"/>
<ellipse cx="51.3" cy="106.0" rx="20.0" ry="18.0" fill="rgb(9,70,9)"/>
<ellipse cx="191.2" cy="80.5" rx="18.0" ry="18.0" fill="rgb(11,92,11)"/>
<ellipse cx="227.0" cy="78.4" rx="15.0" ry="16.0" fill="rgb(17,137,17)"/>
<ellipse cx="227.0" cy="78.4" rx="10.5" ry="11.2" fill="url(#ring)"/>
<ellipse cx="129.3" cy="124.4" rx="18.0" ry="19.0" fill="rgb(11,88,11)"/>
<ellipse cx="177.4" cy="131.5" rx="17.0" ry="18.0" fill="rgb(17,137,17)"/>
<ellipse cx="177.4" cy="131.5" rx="11.9" ry="12.6" fill="url(#ring)"/>
<ellipse cx="199.6" cy="152.5" rx="16.0" ry="17.0" fill="rgb(10,81,10)"/>
<ellipse cx="145.5" cy="202.5" rx="18.0" ry="17.0" fill="rgb(18,148,18)"/>
<ellipse cx="145.5" cy="202.5" rx="12.6" ry="11.9" fill="url(#ring)"/>
<ellipse cx="101.2" cy="209.0" rx="13.0" ry="12.0" fill="rgb(14,114,14)"/>
<ellipse cx="101.2" cy="209.0" rx="9.1" ry="8.4" fill="url(#ring)"/>
<ellipse cx="232.0" cy="148.0" rx="8.0" ry="20.0" fill="rgb(7,59,7)"/>
<ellipse cx="1.0" cy="126.0" rx="6.0" ry="12.0" fill="rgb(11,92,11)"/>
<ellipse cx="2.0" cy="214.0" rx="5.0" ry="7.0" fill="rgb(5,37,5)"/>
</g>
<ellipse cx="149.1" cy="29.1" rx="19.6" ry="22.7" fill="none" stroke="#ffe400" stroke-width="2.5"/>
<ellipse cx="54.0" cy="73.4" rx="24.4" ry="18.8" fill="none" stroke="#29abe2" stroke-width="2.5" transform="rotate(28 54.0 73.4)"/>
<line x1="86.80" y1="18.30" x2="116.24" y2="24.52" stroke="#ffe400" stroke-width="1.7" /><polygon points="126.1,26.6 110.9,30.8 116.2,24.5 113.9,16.7" fill="#ffe400"/>
<line x1="80.90" y1="135.80" x2="75.35" y2="107.69" stroke="#29abe2" stroke-width="1.7" /><polygon points="73.4,97.8 83.2,110.1 75.4,107.7 69.0,112.9" fill="#29abe2"/>
</svg>
<svg x="558.0" y="1300.0" width="235.9" height="219.3" viewBox="0 0 235.9 219.3" overflow="hidden">
<rect width="235.9" height="219.3" fill="#000"/>
<g filter="url(#br)">
<ellipse cx="149.1" cy="27.8" rx="20.8" ry="24.2" fill="rgb(255,0,0)"/>
<ellipse cx="54.0" cy="72.1" rx="22.2" ry="17.2" fill="rgb(102,0,0)" transform="rotate(28 54.0 72.1)"/>
<ellipse cx="51.3" cy="104.7" rx="22.2" ry="20.2" fill="rgb(255,0,0)"/>
<ellipse cx="191.2" cy="79.2" rx="20.2" ry="20.2" fill="rgb(255,0,0)"/>
<ellipse cx="227.0" cy="77.1" rx="17.2" ry="18.2" fill="rgb(255,0,0)"/>
<ellipse cx="129.3" cy="123.1" rx="20.2" ry="21.2" fill="rgb(255,0,0)"/>
<ellipse cx="177.4" cy="130.2" rx="19.2" ry="20.2" fill="rgb(255,0,0)"/>
<ellipse cx="199.6" cy="151.2" rx="18.2" ry="19.2" fill="rgb(255,0,0)"/>
<ellipse cx="145.5" cy="201.2" rx="20.2" ry="19.2" fill="rgb(255,0,0)"/>
<ellipse cx="101.2" cy="207.7" rx="15.2" ry="14.2" fill="rgb(114,0,0)"/>
<ellipse cx="232.0" cy="146.7" rx="10.2" ry="22.2" fill="rgb(153,0,0)"/>
<ellipse cx="1.0" cy="124.7" rx="8.2" ry="14.2" fill="rgb(255,0,0)"/>
<ellipse cx="2.0" cy="212.7" rx="7.2" ry="9.2" fill="rgb(127,0,0)"/>
</g>
<ellipse cx="149.1" cy="27.8" rx="19.6" ry="22.7" fill="none" stroke="#ffe400" stroke-width="2.5"/>
<ellipse cx="54.0" cy="72.1" rx="24.4" ry="18.8" fill="none" stroke="#29abe2" stroke-width="2.5" transform="rotate(28 54.0 72.1)"/>
<line x1="85.90" y1="13.90" x2="115.76" y2="20.52" stroke="#ffe400" stroke-width="1.7" /><polygon points="125.6,22.7 110.4,26.7 115.8,20.5 113.5,12.6" fill="#ffe400"/>
<line x1="83.70" y1="134.10" x2="78.11" y2="105.20" stroke="#29abe2" stroke-width="1.7" /><polygon points="76.2,95.3 85.9,107.7 78.1,105.2 71.8,110.4" fill="#29abe2"/>
</svg>
<svg x="803.0" y="1072.4" width="235.0" height="219.3" viewBox="0 0 235.0 219.3" overflow="hidden">
<rect width="235.0" height="219.3" fill="#011501"/>
<rect width="235.0" height="219.3" filter="url(#ns)" opacity="0.6" style="mix-blend-mode:screen"/>
<g filter="url(#bg)">
<ellipse cx="147.7" cy="26.0" rx="15.0" ry="18.0" fill="rgb(11,92,11)"/>
<ellipse cx="53.8" cy="76.5" rx="21.0" ry="16.0" fill="rgb(30,248,30)" transform="rotate(28 53.8 76.5)"/>
<ellipse cx="42.0" cy="106.0" rx="14.0" ry="14.0" fill="rgb(19,159,19)"/>
<ellipse cx="42.0" cy="106.0" rx="9.8" ry="9.8" fill="url(#ring)"/>
<ellipse cx="188.7" cy="81.5" rx="17.0" ry="17.0" fill="rgb(11,92,11)"/>
<ellipse cx="225.5" cy="78.4" rx="13.0" ry="14.0" fill="rgb(9,74,9)"/>
<ellipse cx="127.8" cy="125.6" rx="17.0" ry="18.0" fill="rgb(11,88,11)"/>
<ellipse cx="177.2" cy="132.5" rx="15.0" ry="16.0" fill="rgb(14,119,14)"/>
<ellipse cx="177.2" cy="132.5" rx="10.5" ry="11.2" fill="url(#ring)"/>
<ellipse cx="197.0" cy="154.0" rx="15.0" ry="16.0" fill="rgb(9,74,9)"/>
<ellipse cx="229.0" cy="153.0" rx="9.0" ry="13.0" fill="rgb(7,59,7)"/>
<ellipse cx="140.2" cy="205.0" rx="17.0" ry="16.0" fill="rgb(17,137,17)"/>
<ellipse cx="140.2" cy="205.0" rx="11.9" ry="11.2" fill="url(#ring)"/>
<ellipse cx="100.0" cy="211.2" rx="12.0" ry="10.0" fill="rgb(7,59,7)"/>
<ellipse cx="0.0" cy="124.0" rx="5.0" ry="9.0" fill="rgb(6,48,6)"/>
</g>
<ellipse cx="147.7" cy="25.8" rx="20.0" ry="22.7" fill="none" stroke="#ffe400" stroke-width="2.5" stroke-dasharray="4.6 2.8"/>
<ellipse cx="53.8" cy="76.5" rx="24.4" ry="18.8" fill="none" stroke="#29abe2" stroke-width="2.5" transform="rotate(28 53.8 76.5)"/>
<line x1="85.10" y1="14.70" x2="114.85" y2="21.16" stroke="#ffe400" stroke-width="1.7" /><polygon points="124.7,23.3 109.5,27.4 114.8,21.2 112.5,13.3" fill="#ffe400"/>
<line x1="80.90" y1="139.40" x2="75.35" y2="111.29" stroke="#29abe2" stroke-width="1.7" /><polygon points="73.4,101.4 83.2,113.7 75.4,111.3 69.0,116.5" fill="#29abe2"/>
</svg>
<svg x="803.0" y="1300.0" width="235.0" height="219.3" viewBox="0 0 235.0 219.3" overflow="hidden">
<rect width="235.0" height="219.3" fill="#000"/>
<g filter="url(#br)">
<ellipse cx="147.7" cy="24.7" rx="17.2" ry="20.2" fill="rgb(255,0,0)"/>
<ellipse cx="53.8" cy="75.2" rx="23.2" ry="18.2" fill="rgb(127,0,0)" transform="rotate(28 53.8 75.2)"/>
<ellipse cx="42.0" cy="104.7" rx="16.2" ry="16.2" fill="rgb(255,0,0)"/>
<ellipse cx="188.7" cy="80.2" rx="19.2" ry="19.2" fill="rgb(255,0,0)"/>
<ellipse cx="225.5" cy="77.1" rx="15.2" ry="16.2" fill="rgb(255,0,0)"/>
<ellipse cx="127.8" cy="124.3" rx="19.2" ry="20.2" fill="rgb(255,0,0)"/>
<ellipse cx="177.2" cy="131.2" rx="17.2" ry="18.2" fill="rgb(255,0,0)"/>
<ellipse cx="197.0" cy="152.7" rx="17.2" ry="18.2" fill="rgb(255,0,0)"/>
<ellipse cx="229.0" cy="151.7" rx="11.2" ry="15.2" fill="rgb(178,0,0)"/>
<ellipse cx="140.2" cy="203.7" rx="19.2" ry="18.2" fill="rgb(255,0,0)"/>
<ellipse cx="100.0" cy="209.9" rx="14.2" ry="12.2" fill="rgb(178,0,0)"/>
<ellipse cx="0.0" cy="122.7" rx="7.2" ry="11.2" fill="rgb(255,0,0)"/>
</g>
<ellipse cx="147.7" cy="24.5" rx="20.0" ry="22.7" fill="none" stroke="#ffe400" stroke-width="2.5" stroke-dasharray="4.6 2.8"/>
<ellipse cx="53.8" cy="75.2" rx="24.4" ry="18.8" fill="none" stroke="#29abe2" stroke-width="2.5" transform="rotate(28 53.8 75.2)"/>
<line x1="84.30" y1="10.30" x2="113.47" y2="16.88" stroke="#ffe400" stroke-width="1.7" /><polygon points="123.3,19.1 108.1,23.0 113.5,16.9 111.2,9.0" fill="#ffe400"/>
<line x1="83.70" y1="137.70" x2="78.10" y2="108.50" stroke="#29abe2" stroke-width="1.7" /><polygon points="76.2,98.6 85.9,111.0 78.1,108.5 71.8,113.7" fill="#29abe2"/>
</svg>
<svg x="1046.0" y="1072.4" width="235.0" height="219.3" viewBox="0 0 235.0 219.3" overflow="hidden">
<rect width="235.0" height="219.3" fill="#011501"/>
<rect width="235.0" height="219.3" filter="url(#ns)" opacity="0.6" style="mix-blend-mode:screen"/>
<g filter="url(#bg)">
<ellipse cx="146.5" cy="27.5" rx="14.0" ry="17.5" fill="rgb(17,137,17)"/>
<ellipse cx="146.5" cy="27.5" rx="9.8" ry="12.2" fill="url(#ring)"/>
<ellipse cx="51.8" cy="78.1" rx="20.0" ry="15.0" fill="rgb(7,59,7)" transform="rotate(28 51.8 78.1)"/>
<ellipse cx="38.0" cy="106.7" rx="13.0" ry="14.0" fill="rgb(17,137,17)"/>
<ellipse cx="38.0" cy="106.7" rx="9.1" ry="9.8" fill="url(#ring)"/>
<ellipse cx="186.0" cy="81.5" rx="16.0" ry="16.0" fill="rgb(13,103,13)"/>
<ellipse cx="186.0" cy="81.5" rx="11.2" ry="11.2" fill="url(#ring)"/>
<ellipse cx="224.5" cy="78.9" rx="12.0" ry="13.0" fill="rgb(10,81,10)"/>
<ellipse cx="128.4" cy="121.0" rx="16.5" ry="17.0" fill="rgb(14,114,14)"/>
<ellipse cx="128.4" cy="121.0" rx="11.5" ry="11.9" fill="url(#ring)"/>
<ellipse cx="176.8" cy="132.7" rx="14.0" ry="15.0" fill="rgb(17,137,17)"/>
<ellipse cx="176.8" cy="132.7" rx="9.8" ry="10.5" fill="url(#ring)"/>
<ellipse cx="196.2" cy="153.5" rx="15.0" ry="15.0" fill="rgb(10,81,10)"/>
<ellipse cx="229.5" cy="152.3" rx="10.0" ry="13.0" fill="rgb(10,81,10)"/>
<ellipse cx="137.0" cy="206.6" rx="17.0" ry="16.0" fill="rgb(19,159,19)"/>
<ellipse cx="137.0" cy="206.6" rx="11.9" ry="11.2" fill="url(#ring)"/>
<ellipse cx="99.0" cy="211.7" rx="11.0" ry="12.0" fill="rgb(13,103,13)"/>
<ellipse cx="0.0" cy="121.0" rx="4.0" ry="8.0" fill="rgb(6,48,6)"/>
</g>
<ellipse cx="145.9" cy="29.1" rx="19.7" ry="22.8" fill="none" stroke="#ffe400" stroke-width="2.5" stroke-dasharray="4.6 2.8"/>
<ellipse cx="51.8" cy="78.1" rx="24.3" ry="19.0" fill="none" stroke="#29abe2" stroke-width="2.5" transform="rotate(28 51.8 78.1)" stroke-dasharray="4.6 2.8"/>
<line x1="83.50" y1="18.20" x2="113.32" y2="24.28" stroke="#ffe400" stroke-width="1.7" /><polygon points="123.2,26.3 108.0,30.6 113.3,24.3 110.9,16.4" fill="#ffe400"/>
<line x1="78.90" y1="140.90" x2="73.22" y2="111.60" stroke="#29abe2" stroke-width="1.7" /><polygon points="71.3,101.7 81.0,114.1 73.2,111.6 66.9,116.8" fill="#29abe2"/>
</svg>
<svg x="1046.0" y="1300.0" width="235.0" height="219.3" viewBox="0 0 235.0 219.3" overflow="hidden">
<rect width="235.0" height="219.3" fill="#000"/>
<g filter="url(#br)">
<ellipse cx="146.5" cy="26.2" rx="16.2" ry="19.7" fill="rgb(255,0,0)"/>
<ellipse cx="51.8" cy="76.8" rx="22.2" ry="17.2" fill="rgb(204,0,0)" transform="rotate(28 51.8 76.8)"/>
<ellipse cx="38.0" cy="105.4" rx="15.2" ry="16.2" fill="rgb(255,0,0)"/>
<ellipse cx="186.0" cy="80.2" rx="18.2" ry="18.2" fill="rgb(255,0,0)"/>
<ellipse cx="224.5" cy="77.6" rx="14.2" ry="15.2" fill="rgb(255,0,0)"/>
<ellipse cx="128.4" cy="119.7" rx="18.7" ry="19.2" fill="rgb(255,0,0)"/>
<ellipse cx="176.8" cy="131.4" rx="16.2" ry="17.2" fill="rgb(255,0,0)"/>
<ellipse cx="196.2" cy="152.2" rx="17.2" ry="17.2" fill="rgb(255,0,0)"/>
<ellipse cx="229.5" cy="151.0" rx="12.2" ry="15.2" fill="rgb(255,0,0)"/>
<ellipse cx="137.0" cy="205.3" rx="19.2" ry="18.2" fill="rgb(255,0,0)"/>
<ellipse cx="99.0" cy="210.4" rx="13.2" ry="14.2" fill="rgb(153,0,0)"/>
<ellipse cx="0.0" cy="119.7" rx="6.2" ry="10.2" fill="rgb(204,0,0)"/>
</g>
<rect x="165.5" y="203.3" width="63" height="5.2" fill="#fff"/>
<ellipse cx="145.9" cy="27.8" rx="19.7" ry="22.8" fill="none" stroke="#ffe400" stroke-width="2.5" stroke-dasharray="4.6 2.8"/>
<ellipse cx="51.8" cy="76.8" rx="24.3" ry="19.0" fill="none" stroke="#29abe2" stroke-width="2.5" transform="rotate(28 51.8 76.8)" stroke-dasharray="4.6 2.8"/>
<line x1="82.70" y1="12.90" x2="112.04" y2="19.11" stroke="#ffe400" stroke-width="1.7" /><polygon points="121.9,21.2 106.7,25.3 112.0,19.1 109.7,11.3" fill="#ffe400"/>
<line x1="82.00" y1="139.60" x2="76.68" y2="110.02" stroke="#29abe2" stroke-width="1.7" /><polygon points="74.9,100.1 84.5,112.6 76.7,110.0 70.3,115.2" fill="#29abe2"/>
</svg>
</g>
<g id="pe">
<text x="1329.00" y="1019.90" font-size="46" font-weight="bold" >e</text>
<line x1="1541.79" y1="1040.37" x2="1564.93" y2="1040.37" stroke="#0000ff" stroke-width="4.4" />
<text x="1569.40" y="1044.85" font-size="29" fill="#0000ff" >Cell 1</text>
<line x1="1657.46" y1="1040.37" x2="1680.60" y2="1040.37" stroke="#ff0000" stroke-width="4.4" />
<text x="1688.81" y="1044.85" font-size="29" fill="#ff0000" >Cell 2</text>
<line x1="1778.36" y1="1040.37" x2="1801.12" y2="1040.37" stroke="#008000" stroke-width="4.4" />
<text x="1808.21" y="1044.85" font-size="29" fill="#008000" >Cell 3</text>
<text x="1510.82" y="1085.90" font-size="29" >Hypotonic</text>
<rect x="1504.10" y="1093.40" width="454.90" height="191.10" fill="#e6e7e8" />
<rect x="1504.10" y="1297.20" width="454.90" height="186.80" fill="#e6e7e8" />
<line x1="1462.00" y1="1253.40" x2="1959.00" y2="1253.40" stroke="#000" stroke-width="2.7" stroke-dasharray="0.01 6.3" stroke-linecap="round"/>
<line x1="1462.00" y1="1462.91" x2="1959.00" y2="1462.91" stroke="#000" stroke-width="2.7" stroke-dasharray="0.01 6.3" stroke-linecap="round"/>
<line x1="1458.50" y1="1094.20" x2="1458.50" y2="1286.60" stroke="#000" stroke-width="4.5" />
<line x1="1453.20" y1="1284.70" x2="1464.00" y2="1284.70" stroke="#000" stroke-width="3.9" />
<line x1="1458.50" y1="1296.50" x2="1458.50" y2="1487.70" stroke="#000" stroke-width="4.5" />
<line x1="1453.20" y1="1298.40" x2="1464.00" y2="1298.40" stroke="#000" stroke-width="3.9" />
<line x1="1451.60" y1="1126.70" x2="1458.50" y2="1126.70" stroke="#000" stroke-width="3.9" />
<line x1="1451.60" y1="1190.70" x2="1458.50" y2="1190.70" stroke="#000" stroke-width="3.9" />
<line x1="1451.60" y1="1254.20" x2="1458.50" y2="1254.20" stroke="#000" stroke-width="3.9" />
<line x1="1451.60" y1="1344.60" x2="1458.50" y2="1344.60" stroke="#000" stroke-width="3.9" />
<line x1="1451.60" y1="1462.90" x2="1458.50" y2="1462.90" stroke="#000" stroke-width="3.9" />
<line x1="1456.30" y1="1485.70" x2="1961.00" y2="1485.70" stroke="#000" stroke-width="4.5" />
<line x1="1554.50" y1="1485.70" x2="1554.50" y2="1494.50" stroke="#000" stroke-width="4" />
<line x1="1655.60" y1="1485.70" x2="1655.60" y2="1494.50" stroke="#000" stroke-width="4" />
<line x1="1756.30" y1="1485.70" x2="1756.30" y2="1494.50" stroke="#000" stroke-width="4" />
<line x1="1857.80" y1="1485.70" x2="1857.80" y2="1494.50" stroke="#000" stroke-width="4" />
<line x1="1959.00" y1="1485.70" x2="1959.00" y2="1494.50" stroke="#000" stroke-width="4" />
<polyline points="1456.7,1275.5 1464.2,1271.7 1471.6,1256.8 1479.1,1247.5 1484.7,1240.8 1490.3,1238.1 1495.9,1233.3 1501.5,1236.3 1508.2,1228.8 1512.7,1184.0 1517.2,1101.9 1519.0,1101.9 1523.1,1169.1 1529.5,1187.8 1538.8,1180.3 1548.1,1172.8 1557.5,1174.7 1564.9,1169.1 1576.1,1168.4 1587.3,1166.1 1594.8,1165.4 1599.6,1168.4 1607.8,1160.9 1617.2,1162.4 1626.5,1161.6 1632.1,1164.6 1639.5,1171.0 1647.0,1169.1 1654.5,1166.1 1661.9,1167.2 1669.4,1171.0 1676.9,1175.5 1684.3,1176.6 1691.8,1180.3 1699.2,1175.5 1706.7,1176.6 1714.2,1179.5 1719.8,1178.4 1724.6,1184.8 1729.1,1182.2 1734.7,1183.3 1740.3,1176.6 1745.9,1176.6 1751.5,1182.9 1757.1,1182.2 1766.4,1193.4 1772.0,1210.2 1777.6,1221.3 1783.2,1236.3 1788.8,1243.7 1796.3,1241.9 1803.7,1236.3 1811.2,1240.8 1818.7,1239.2 1826.1,1245.6 1833.6,1239.2 1841.0,1243.7 1847.8,1233.3 1852.2,1241.9 1859.7,1243.0 1867.2,1240.8 1874.6,1243.7 1882.1,1240.8 1887.7,1244.5 1893.3,1235.5 1900.8,1240.8 1906.3,1231.8 1913.8,1234.4 1919.4,1231.8 1926.9,1238.1 1932.5,1228.8 1938.1,1226.9 1943.7,1237.0 1951.1,1233.3 1956.7,1237.0 1961.6,1236.3" fill="none" stroke="#ff0000" stroke-width="4.4" stroke-linejoin="round"/>
<polyline points="1456.7,1268.0 1462.3,1254.9 1467.9,1250.5 1473.5,1249.3 1479.8,1245.6 1486.6,1255.7 1494.0,1257.9 1499.6,1232.5 1506.0,1226.9 1510.8,1199.0 1516.4,1193.4 1523.1,1176.6 1528.7,1160.9 1533.2,1160.9 1538.8,1148.6 1544.4,1141.1 1549.2,1148.6 1555.6,1172.8 1561.2,1165.4 1566.8,1162.8 1572.4,1163.5 1578.0,1169.1 1583.6,1180.3 1589.2,1195.2 1594.8,1205.7 1600.4,1206.4 1607.8,1212.0 1615.3,1221.3 1620.9,1225.1 1628.4,1234.4 1635.8,1240.0 1641.4,1240.8 1648.9,1236.3 1656.3,1231.8 1663.8,1225.1 1669.4,1216.9 1675.0,1215.8 1680.6,1217.6 1686.2,1225.1 1691.8,1232.5 1699.2,1236.3 1706.7,1240.8 1712.3,1243.7 1719.8,1249.3 1727.2,1253.1 1734.7,1253.1 1740.3,1255.7 1745.2,1261.6 1749.6,1255.7 1757.1,1254.2 1762.7,1253.1 1768.3,1253.1 1773.9,1247.5 1781.3,1245.6 1785.1,1238.1 1790.7,1236.3 1796.3,1230.7 1801.9,1229.9 1807.5,1232.5 1814.9,1235.5 1820.5,1234.4 1826.1,1238.1 1831.7,1238.1 1837.3,1243.0 1844.8,1243.7 1852.2,1240.0 1859.7,1243.0 1865.3,1239.2 1870.9,1243.7 1878.4,1238.1 1887.7,1228.1 1893.3,1228.1 1898.9,1229.5 1902.6,1228.1 1908.2,1236.3 1915.7,1232.5 1923.1,1228.8 1928.7,1226.9 1934.3,1224.0 1939.9,1224.0 1945.5,1225.1 1951.1,1216.9 1956.7,1214.6 1961.6,1213.9" fill="none" stroke="#008000" stroke-width="4.4" stroke-linejoin="round"/>
<polyline points="1456.7,1247.5 1462.3,1246.7 1467.9,1251.2 1473.5,1255.7 1479.1,1254.9 1484.7,1254.2 1491.0,1260.5 1495.9,1260.5 1501.5,1256.8 1507.1,1247.5 1512.7,1236.3 1518.3,1228.8 1523.9,1222.1 1528.7,1213.9 1534.3,1216.5 1539.9,1212.0 1545.5,1205.7 1550.0,1208.3 1555.6,1197.1 1561.2,1195.2 1566.8,1201.6 1572.4,1196.3 1578.0,1199.0 1583.6,1198.2 1589.2,1198.2 1594.8,1205.7 1600.4,1201.9 1606.0,1202.7 1611.6,1207.2 1617.2,1209.4 1622.8,1208.3 1627.6,1202.7 1632.1,1203.8 1637.7,1210.2 1642.5,1204.5 1647.0,1212.8 1652.6,1210.2 1658.2,1210.9 1663.8,1218.4 1669.4,1226.9 1675.0,1230.7 1680.6,1238.1 1686.2,1243.0 1691.8,1239.2 1697.4,1241.9 1703.0,1240.0 1708.6,1240.8 1713.4,1237.0 1717.9,1240.8 1723.5,1237.0 1729.1,1237.0 1734.7,1240.8 1740.3,1243.7 1745.9,1245.6 1751.5,1243.0 1757.1,1242.6 1762.7,1241.1 1767.2,1237.0 1772.0,1240.8 1777.6,1240.8 1783.2,1244.8 1788.8,1246.3 1796.3,1244.5 1801.9,1253.1 1804.5,1259.4 1809.3,1251.2 1814.9,1254.2 1822.4,1255.7 1828.0,1260.5 1833.6,1267.2 1839.2,1266.9 1844.8,1261.6 1850.4,1260.5 1856.0,1265.4 1860.8,1259.4 1866.4,1265.0 1870.9,1261.3 1876.5,1264.2 1880.2,1261.6 1885.8,1266.9 1891.4,1271.7 1897.0,1266.1 1902.6,1266.1 1908.2,1268.7 1911.9,1265.4 1919.4,1269.1 1926.9,1268.0 1934.3,1271.7 1941.8,1274.7 1949.2,1273.6 1956.7,1274.7 1961.6,1277.3" fill="none" stroke="#0000ff" stroke-width="4.4" stroke-linejoin="round"/>
<polyline points="1456.7,1467.0 1486.6,1468.9 1523.9,1469.6 1561.2,1470.4 1635.8,1470.8 1673.1,1470.4 1689.9,1468.9 1695.5,1464.0 1701.1,1462.2 1706.7,1459.5 1712.3,1454.7 1717.9,1439.8 1723.5,1419.2 1729.1,1385.7 1734.7,1355.8 1740.3,1342.0 1745.9,1335.3 1751.5,1329.7 1757.1,1327.1 1762.7,1328.6 1768.3,1335.3 1773.1,1342.8 1777.6,1352.1 1783.2,1372.6 1788.8,1391.3 1794.4,1421.1 1800.0,1434.2 1805.6,1442.4 1811.2,1444.6 1816.8,1447.2 1820.5,1445.4 1826.1,1447.2 1833.6,1448.0 1839.2,1448.0 1844.8,1451.7 1852.2,1452.8 1859.7,1455.8 1867.2,1460.3 1874.6,1462.9 1882.1,1464.0 1897.0,1465.9 1915.7,1467.0 1934.3,1467.0 1961.6,1467.0" fill="none" stroke="#ff0000" stroke-width="4.4" stroke-linejoin="round"/>
<polyline points="1456.7,1466.6 1467.9,1467.0 1479.1,1469.6 1494.0,1470.4 1509.0,1467.8 1516.4,1465.9 1522.0,1460.3 1527.6,1437.9 1531.3,1400.6 1534.3,1368.9 1539.9,1368.9 1544.4,1383.8 1550.0,1409.9 1555.6,1416.6 1561.2,1424.8 1566.8,1436.0 1571.6,1417.4 1576.9,1411.8 1581.7,1415.5 1587.3,1422.2 1594.8,1428.6 1602.2,1433.1 1609.7,1435.3 1617.2,1436.0 1622.8,1434.9 1626.5,1433.4 1632.1,1437.9 1637.7,1444.6 1643.3,1449.8 1648.9,1454.0 1654.5,1460.3 1660.1,1464.8 1667.5,1466.6 1676.9,1467.8 1691.8,1468.5 1710.5,1468.9 1747.8,1469.6 1785.1,1468.9 1822.4,1468.5 1826.1,1467.8 1830.6,1456.6 1834.3,1439.8 1838.1,1419.2 1841.0,1370.8 1844.0,1337.2 1847.8,1329.0 1850.4,1337.2 1854.1,1350.2 1856.7,1381.9 1859.7,1423.0 1865.3,1449.1 1870.9,1455.5 1876.5,1465.9 1882.1,1467.8 1889.5,1467.8 1893.3,1462.2 1897.0,1459.5 1902.6,1461.4 1908.2,1456.6 1913.1,1454.0 1917.5,1460.3 1923.1,1462.2 1928.7,1460.3 1934.3,1462.9 1941.8,1462.2 1951.1,1462.9 1961.6,1464.0" fill="none" stroke="#008000" stroke-width="4.4" stroke-linejoin="round"/>
<polyline points="1456.7,1465.9 1464.2,1464.8 1475.4,1466.6 1494.0,1467.8 1523.9,1468.5 1542.5,1467.8 1561.2,1467.8 1568.7,1465.9 1576.1,1464.8 1581.7,1464.0 1586.6,1456.6 1591.0,1447.2 1595.9,1434.2 1600.4,1417.4 1604.8,1399.8 1609.7,1419.2 1615.3,1398.7 1620.2,1380.1 1623.9,1355.8 1626.9,1340.9 1631.3,1324.1 1636.9,1319.6 1642.5,1326.0 1647.0,1346.5 1650.8,1368.9 1653.7,1389.4 1659.0,1402.5 1663.8,1423.0 1669.4,1433.1 1675.0,1431.2 1680.6,1436.0 1686.2,1430.5 1690.7,1426.7 1695.5,1433.1 1699.2,1443.5 1703.0,1452.8 1708.6,1460.3 1714.2,1463.3 1721.6,1465.2 1732.8,1465.9 1747.8,1466.6 1785.1,1466.6 1822.4,1466.3 1859.7,1465.5 1897.0,1464.8 1934.3,1464.4 1961.6,1464.4" fill="none" stroke="#0000ff" stroke-width="4.4" stroke-linejoin="round"/>
<text x="1441.00" y="1139.00" font-size="29.5" text-anchor="end" >1.4</text>
<text x="1442.50" y="1261.50" font-size="29.5" text-anchor="end" >1</text>
<text x="1441.80" y="1355.00" font-size="29.5" text-anchor="end" >0.5</text>
<text x="1446.50" y="1470.80" font-size="29.5" text-anchor="end" >0</text>
<text x="1553.00" y="1521.90" font-size="29.5" text-anchor="middle" >10</text>
<text x="1756.00" y="1521.90" font-size="29.5" text-anchor="middle" >30</text>
<text x="1956.70" y="1521.90" font-size="29.5" text-anchor="middle" >50</text>
<text x="1699.80" y="1548.00" font-size="29" text-anchor="middle" >Time (min)</text>
<text font-size="29" text-anchor="middle" transform="translate(1350.40 1191.90) rotate(-90)" >Cell surface</text>
<text font-size="29" text-anchor="middle" transform="translate(1383.00 1191.50) rotate(-90)" >(S/S0)</text>
<text font-size="29" text-anchor="middle" transform="translate(1350.40 1405.00) rotate(-90)" >Intra. Ca<tspan font-size="17" dy="-10">2+</tspan></text>
<text font-size="29" text-anchor="middle" transform="translate(1383.00 1404.30) rotate(-90)" >(F/F0)</text>
</g>
<g id="pf">
<text x="0.00" y="1582.20" font-size="46" font-weight="bold" >f</text>
<ellipse cx="350.2" cy="1614.2" rx="4.3" ry="4.9" fill="#000"/>
<ellipse cx="379.5" cy="1637.1" rx="4.3" ry="4.9" fill="#000"/>
<ellipse cx="304.4" cy="1667.5" rx="4.3" ry="4.9" fill="#000"/>
<ellipse cx="337.9" cy="1707.5" rx="4.3" ry="4.9" fill="#000"/>
<ellipse cx="154.1" cy="1733.1" rx="4.3" ry="4.9" fill="#000"/>
<ellipse cx="433.4" cy="1727.2" rx="4.3" ry="4.9" fill="#000"/>
<ellipse cx="446.2" cy="1727.2" rx="4.3" ry="4.9" fill="#000"/>
<ellipse cx="273.4" cy="1757.6" rx="4.3" ry="4.9" fill="#000"/>
<ellipse cx="285.7" cy="1757.6" rx="4.3" ry="4.9" fill="#000"/>
<ellipse cx="378.5" cy="1757.6" rx="4.3" ry="4.9" fill="#000"/>
<ellipse cx="383.8" cy="1763.5" rx="4.3" ry="4.9" fill="#000"/>
<ellipse cx="371.5" cy="1780.5" rx="4.3" ry="4.9" fill="#000"/>
<ellipse cx="371.5" cy="1800.8" rx="4.3" ry="4.9" fill="#000"/>
<ellipse cx="371.5" cy="1804.5" rx="4.3" ry="4.9" fill="#000"/>
<ellipse cx="187.6" cy="1822.1" rx="4.3" ry="4.9" fill="#000"/>
<ellipse cx="324.1" cy="1814.7" rx="4.3" ry="4.9" fill="#000"/>
<ellipse cx="296.4" cy="1814.7" rx="4.3" ry="4.9" fill="#000"/>
<ellipse cx="246.8" cy="1834.9" rx="4.3" ry="4.9" fill="#000"/>
<ellipse cx="312.9" cy="1827.4" rx="4.3" ry="4.9" fill="#000"/>
<ellipse cx="310.2" cy="1833.8" rx="4.3" ry="4.9" fill="#000"/>
<ellipse cx="396.6" cy="1834.9" rx="4.3" ry="4.9" fill="#000"/>
<ellipse cx="168.4" cy="1851.4" rx="4.3" ry="4.9" fill="#000"/>
<ellipse cx="246.8" cy="1848.8" rx="4.3" ry="4.9" fill="#000"/>
<ellipse cx="267.1" cy="1845.0" rx="4.3" ry="4.9" fill="#000"/>
<ellipse cx="296.4" cy="1856.2" rx="4.3" ry="4.9" fill="#000"/>
<ellipse cx="312.4" cy="1856.2" rx="4.3" ry="4.9" fill="#000"/>
<ellipse cx="229.2" cy="1864.2" rx="4.3" ry="4.9" fill="#000"/>
<ellipse cx="280.4" cy="1864.2" rx="4.3" ry="4.9" fill="#000"/>
<ellipse cx="283.6" cy="1864.2" rx="4.3" ry="4.9" fill="#000"/>
<ellipse cx="304.4" cy="1865.3" rx="4.3" ry="4.9" fill="#000"/>
<ellipse cx="418.4" cy="1870.1" rx="4.3" ry="4.9" fill="#000"/>
<ellipse cx="147.7" cy="1882.9" rx="4.3" ry="4.9" fill="#000"/>
<ellipse cx="212.2" cy="1876.5" rx="4.3" ry="4.9" fill="#000"/>
<ellipse cx="236.1" cy="1882.9" rx="4.3" ry="4.9" fill="#000"/>
<ellipse cx="138.1" cy="1895.7" rx="4.3" ry="4.9" fill="#000"/>
<ellipse cx="196.2" cy="1895.7" rx="4.3" ry="4.9" fill="#000"/>
<ellipse cx="220.7" cy="1895.7" rx="4.3" ry="4.9" fill="#000"/>
<ellipse cx="238.8" cy="1894.6" rx="4.3" ry="4.9" fill="#000"/>
<ellipse cx="222.8" cy="1901.5" rx="4.3" ry="4.9" fill="#000"/>
<ellipse cx="269.7" cy="1902.1" rx="4.3" ry="4.9" fill="#000"/>
<ellipse cx="383.8" cy="1902.1" rx="4.3" ry="4.9" fill="#000"/>
<ellipse cx="537.3" cy="1894.6" rx="4.3" ry="4.9" fill="#000"/>
<ellipse cx="168.4" cy="1908.5" rx="4.3" ry="4.9" fill="#000"/>
<ellipse cx="229.7" cy="1908.5" rx="4.3" ry="4.9" fill="#000"/>
<ellipse cx="238.8" cy="1910.6" rx="4.3" ry="4.9" fill="#000"/>
<ellipse cx="254.8" cy="1910.6" rx="4.3" ry="4.9" fill="#000"/>
<ellipse cx="254.8" cy="1914.9" rx="4.3" ry="4.9" fill="#000"/>
<ellipse cx="119.9" cy="1914.9" rx="4.3" ry="4.9" fill="#000"/>
<ellipse cx="215.9" cy="1914.9" rx="4.3" ry="4.9" fill="#000"/>
<ellipse cx="193.5" cy="1921.3" rx="4.3" ry="4.9" fill="#000"/>
<ellipse cx="254.8" cy="1921.8" rx="4.3" ry="4.9" fill="#000"/>
<ellipse cx="445.1" cy="1915.9" rx="4.3" ry="4.9" fill="#000"/>
<ellipse cx="133.3" cy="1945.2" rx="4.3" ry="4.9" fill="#000"/>
<ellipse cx="147.7" cy="1945.2" rx="4.3" ry="4.9" fill="#000"/>
<ellipse cx="168.4" cy="1939.9" rx="4.3" ry="4.9" fill="#000"/>
<ellipse cx="181.2" cy="1945.2" rx="4.3" ry="4.9" fill="#000"/>
<ellipse cx="187.6" cy="1951.6" rx="4.3" ry="4.9" fill="#000"/>
<ellipse cx="299.0" cy="1958.0" rx="4.3" ry="4.9" fill="#000"/>
<ellipse cx="310.2" cy="1958.0" rx="4.3" ry="4.9" fill="#000"/>
<ellipse cx="143.9" cy="1983.1" rx="4.3" ry="4.9" fill="#000"/>
<line x1="119.94" y1="1952.17" x2="559.70" y2="1636.61" stroke="#ff0000" stroke-width="4.4" />
<line x1="97.20" y1="1600.90" x2="97.20" y2="2026.70" stroke="#000" stroke-width="4.4" />
<line x1="95.00" y1="2024.50" x2="559.00" y2="2024.50" stroke="#000" stroke-width="4.4" />
<line x1="90.80" y1="1655.30" x2="97.00" y2="1655.30" stroke="#000" stroke-width="3.6" />
<line x1="90.80" y1="1760.80" x2="97.00" y2="1760.80" stroke="#000" stroke-width="3.6" />
<line x1="90.80" y1="1866.40" x2="97.00" y2="1866.40" stroke="#000" stroke-width="3.6" />
<line x1="90.80" y1="1971.90" x2="97.00" y2="1971.90" stroke="#000" stroke-width="3.6" />
<line x1="154.00" y1="2024.70" x2="154.00" y2="2031.50" stroke="#000" stroke-width="3.6" />
<line x1="269.20" y1="2024.70" x2="269.20" y2="2031.50" stroke="#000" stroke-width="3.6" />
<line x1="383.80" y1="2024.70" x2="383.80" y2="2031.50" stroke="#000" stroke-width="3.6" />
<line x1="499.50" y1="2024.70" x2="499.50" y2="2031.50" stroke="#000" stroke-width="3.6" />
<text x="83.70" y="1665.50" font-size="29.5" text-anchor="end" >40</text>
<text x="83.70" y="1771.00" font-size="29.5" text-anchor="end" >30</text>
<text x="83.70" y="1876.60" font-size="29.5" text-anchor="end" >20</text>
<text x="83.70" y="1982.00" font-size="29.5" text-anchor="end" >10</text>
<text x="153.00" y="2058.80" font-size="29.5" text-anchor="middle" >10</text>
<text x="266.50" y="2058.80" font-size="29.5" text-anchor="middle" >20</text>
<text x="381.10" y="2058.80" font-size="29.5" text-anchor="middle" >30</text>
<text x="495.70" y="2058.80" font-size="29.5" text-anchor="middle" >40</text>
<text x="314.50" y="2101.40" font-size="29" text-anchor="middle" >Starting RVD (min)</text>
<text font-size="29" text-anchor="middle" transform="translate(32.00 1816.00) rotate(-90)" >Maximal Intra. Ca<tspan font-size="17" dy="-10">2+</tspan><tspan dy="10"> (min)</tspan></text>
<text x="122.60" y="1643.00" font-size="29" >R<tspan font-size="17" dy="-10">2</tspan><tspan dy="10"> = 0.5071</tspan></text>
</g>
<g id="pg">
<text x="593.00" y="1582.60" font-size="46" font-weight="bold" >g</text>
<text x="801.75" y="1582.00" font-size="24.5" font-weight="bold" fill="#52468c" >P2YR</text>
<clipPath id="memclip"><rect x="621.2" y="1595" width="334.9" height="70"/></clipPath><g clip-path="url(#memclip)">
<path d="M624.6 1609.2 L622.7 1626.7 M626.8 1609.2 L628.7 1626.7M624.6 1646.6 L622.7 1629.1 M626.8 1646.6 L628.7 1629.1M634.2 1609.2 L632.3 1626.7 M636.4 1609.2 L638.3 1626.7M634.2 1646.6 L632.3 1629.1 M636.4 1646.6 L638.3 1629.1M643.9 1609.2 L642.0 1626.7 M646.1 1609.2 L648.0 1626.7M643.9 1646.6 L642.0 1629.1 M646.1 1646.6 L648.0 1629.1M653.5 1609.2 L651.6 1626.7 M655.7 1609.2 L657.6 1626.7M653.5 1646.6 L651.6 1629.1 M655.7 1646.6 L657.6 1629.1M663.1 1609.2 L661.2 1626.7 M665.3 1609.2 L667.2 1626.7M663.1 1646.6 L661.2 1629.1 M665.3 1646.6 L667.2 1629.1M672.8 1609.2 L670.9 1626.7 M675.0 1609.2 L676.9 1626.7M672.8 1646.6 L670.9 1629.1 M675.0 1646.6 L676.9 1629.1M682.4 1609.2 L680.5 1626.7 M684.6 1609.2 L686.5 1626.7M682.4 1646.6 L680.5 1629.1 M684.6 1646.6 L686.5 1629.1M692.0 1609.2 L690.1 1626.7 M694.2 1609.2 L696.1 1626.7M692.0 1646.6 L690.1 1629.1 M694.2 1646.6 L696.1 1629.1M701.6 1609.2 L699.7 1626.7 M703.8 1609.2 L705.7 1626.7M701.6 1646.6 L699.7 1629.1 M703.8 1646.6 L705.7 1629.1M711.3 1609.2 L709.4 1626.7 M713.5 1609.2 L715.4 1626.7M711.3 1646.6 L709.4 1629.1 M713.5 1646.6 L715.4 1629.1M720.9 1609.2 L719.0 1626.7 M723.1 1609.2 L725.0 1626.7M720.9 1646.6 L719.0 1629.1 M723.1 1646.6 L725.0 1629.1M730.5 1609.2 L728.6 1626.7 M732.7 1609.2 L734.6 1626.7M730.5 1646.6 L728.6 1629.1 M732.7 1646.6 L734.6 1629.1M740.2 1609.2 L738.3 1626.7 M742.4 1609.2 L744.3 1626.7M740.2 1646.6 L738.3 1629.1 M742.4 1646.6 L744.3 1629.1M749.8 1609.2 L747.9 1626.7 M752.0 1609.2 L753.9 1626.7M749.8 1646.6 L747.9 1629.1 M752.0 1646.6 L753.9 1629.1M759.4 1609.2 L757.5 1626.7 M761.6 1609.2 L763.5 1626.7M759.4 1646.6 L757.5 1629.1 M761.6 1646.6 L763.5 1629.1M769.1 1609.2 L767.2 1626.7 M771.3 1609.2 L773.2 1626.7M769.1 1646.6 L767.2 1629.1 M771.3 1646.6 L773.2 1629.1M778.7 1609.2 L776.8 1626.7 M780.9 1609.2 L782.8 1626.7M778.7 1646.6 L776.8 1629.1 M780.9 1646.6 L782.8 1629.1M788.3 1609.2 L786.4 1626.7 M790.5 1609.2 L792.4 1626.7M788.3 1646.6 L786.4 1629.1 M790.5 1646.6 L792.4 1629.1M797.9 1609.2 L796.0 1626.7 M800.1 1609.2 L802.0 1626.7M797.9 1646.6 L796.0 1629.1 M800.1 1646.6 L802.0 1629.1M807.6 1609.2 L805.7 1626.7 M809.8 1609.2 L811.7 1626.7M807.6 1646.6 L805.7 1629.1 M809.8 1646.6 L811.7 1629.1M817.2 1609.2 L815.3 1626.7 M819.4 1609.2 L821.3 1626.7M817.2 1646.6 L815.3 1629.1 M819.4 1646.6 L821.3 1629.1M826.8 1609.2 L824.9 1626.7 M829.0 1609.2 L830.9 1626.7M826.8 1646.6 L824.9 1629.1 M829.0 1646.6 L830.9 1629.1M836.5 1609.2 L834.6 1626.7 M838.7 1609.2 L840.6 1626.7M836.5 1646.6 L834.6 1629.1 M838.7 1646.6 L840.6 1629.1M846.1 1609.2 L844.2 1626.7 M848.3 1609.2 L850.2 1626.7M846.1 1646.6 L844.2 1629.1 M848.3 1646.6 L850.2 1629.1M855.7 1609.2 L853.8 1626.7 M857.9 1609.2 L859.8 1626.7M855.7 1646.6 L853.8 1629.1 M857.9 1646.6 L859.8 1629.1M865.4 1609.2 L863.5 1626.7 M867.6 1609.2 L869.5 1626.7M865.4 1646.6 L863.5 1629.1 M867.6 1646.6 L869.5 1629.1M875.0 1609.2 L873.1 1626.7 M877.2 1609.2 L879.1 1626.7M875.0 1646.6 L873.1 1629.1 M877.2 1646.6 L879.1 1629.1M884.6 1609.2 L882.7 1626.7 M886.8 1609.2 L888.7 1626.7M884.6 1646.6 L882.7 1629.1 M886.8 1646.6 L888.7 1629.1M894.2 1609.2 L892.3 1626.7 M896.4 1609.2 L898.3 1626.7M894.2 1646.6 L892.3 1629.1 M896.4 1646.6 L898.3 1629.1M903.9 1609.2 L902.0 1626.7 M906.1 1609.2 L908.0 1626.7M903.9 1646.6 L902.0 1629.1 M906.1 1646.6 L908.0 1629.1M913.5 1609.2 L911.6 1626.7 M915.7 1609.2 L917.6 1626.7M913.5 1646.6 L911.6 1629.1 M915.7 1646.6 L917.6 1629.1M923.1 1609.2 L921.2 1626.7 M925.3 1609.2 L927.2 1626.7M923.1 1646.6 L921.2 1629.1 M925.3 1646.6 L927.2 1629.1M932.8 1609.2 L930.9 1626.7 M935.0 1609.2 L936.9 1626.7M932.8 1646.6 L930.9 1629.1 M935.0 1646.6 L936.9 1629.1M942.4 1609.2 L940.5 1626.7 M944.6 1609.2 L946.5 1626.7M942.4 1646.6 L940.5 1629.1 M944.6 1646.6 L946.5 1629.1M952.0 1609.2 L950.1 1626.7 M954.2 1609.2 L956.1 1626.7M952.0 1646.6 L950.1 1629.1 M954.2 1646.6 L956.1 1629.1" fill="none" stroke="#c3d1e9" stroke-width="1.3" />
<circle cx="625.70" cy="1605.70" r="4.35" fill="#8e9cb5" /><circle cx="635.33" cy="1605.70" r="4.35" fill="#8e9cb5" /><circle cx="644.96" cy="1605.70" r="4.35" fill="#8e9cb5" /><circle cx="654.59" cy="1605.70" r="4.35" fill="#8e9cb5" /><circle cx="664.22" cy="1605.70" r="4.35" fill="#8e9cb5" /><circle cx="673.85" cy="1605.70" r="4.35" fill="#8e9cb5" /><circle cx="683.48" cy="1605.70" r="4.35" fill="#8e9cb5" /><circle cx="693.11" cy="1605.70" r="4.35" fill="#8e9cb5" /><circle cx="702.74" cy="1605.70" r="4.35" fill="#8e9cb5" /><circle cx="712.37" cy="1605.70" r="4.35" fill="#8e9cb5" /><circle cx="722.00" cy="1605.70" r="4.35" fill="#8e9cb5" /><circle cx="731.63" cy="1605.70" r="4.35" fill="#8e9cb5" /><circle cx="741.26" cy="1605.70" r="4.35" fill="#8e9cb5" /><circle cx="750.89" cy="1605.70" r="4.35" fill="#8e9cb5" /><circle cx="760.52" cy="1605.70" r="4.35" fill="#8e9cb5" /><circle cx="770.15" cy="1605.70" r="4.35" fill="#8e9cb5" /><circle cx="779.78" cy="1605.70" r="4.35" fill="#8e9cb5" /><circle cx="789.41" cy="1605.70" r="4.35" fill="#8e9cb5" /><circle cx="799.04" cy="1605.70" r="4.35" fill="#8e9cb5" /><circle cx="808.67" cy="1605.70" r="4.35" fill="#8e9cb5" /><circle cx="818.30" cy="1605.70" r="4.35" fill="#8e9cb5" /><circle cx="827.93" cy="1605.70" r="4.35" fill="#8e9cb5" /><circle cx="837.56" cy="1605.70" r="4.35" fill="#8e9cb5" /><circle cx="847.19" cy="1605.70" r="4.35" fill="#8e9cb5" /><circle cx="856.82" cy="1605.70" r="4.35" fill="#8e9cb5" /><circle cx="866.45" cy="1605.70" r="4.35" fill="#8e9cb5" /><circle cx="876.08" cy="1605.70" r="4.35" fill="#8e9cb5" /><circle cx="885.71" cy="1605.70" r="4.35" fill="#8e9cb5" /><circle cx="895.34" cy="1605.70" r="4.35" fill="#8e9cb5" /><circle cx="904.97" cy="1605.70" r="4.35" fill="#8e9cb5" /><circle cx="914.60" cy="1605.70" r="4.35" fill="#8e9cb5" /><circle cx="924.23" cy="1605.70" r="4.35" fill="#8e9cb5" /><circle cx="933.86" cy="1605.70" r="4.35" fill="#8e9cb5" /><circle cx="943.49" cy="1605.70" r="4.35" fill="#8e9cb5" /><circle cx="953.12" cy="1605.70" r="4.35" fill="#8e9cb5" />
<circle cx="625.70" cy="1650.10" r="4.35" fill="#8e9cb5" /><circle cx="635.33" cy="1650.10" r="4.35" fill="#8e9cb5" /><circle cx="644.96" cy="1650.10" r="4.35" fill="#8e9cb5" /><circle cx="654.59" cy="1650.10" r="4.35" fill="#8e9cb5" /><circle cx="664.22" cy="1650.10" r="4.35" fill="#8e9cb5" /><circle cx="673.85" cy="1650.10" r="4.35" fill="#8e9cb5" /><circle cx="683.48" cy="1650.10" r="4.35" fill="#8e9cb5" /><circle cx="693.11" cy="1650.10" r="4.35" fill="#8e9cb5" /><circle cx="702.74" cy="1650.10" r="4.35" fill="#8e9cb5" /><circle cx="712.37" cy="1650.10" r="4.35" fill="#8e9cb5" /><circle cx="722.00" cy="1650.10" r="4.35" fill="#8e9cb5" /><circle cx="731.63" cy="1650.10" r="4.35" fill="#8e9cb5" /><circle cx="741.26" cy="1650.10" r="4.35" fill="#8e9cb5" /><circle cx="750.89" cy="1650.10" r="4.35" fill="#8e9cb5" /><circle cx="760.52" cy="1650.10" r="4.35" fill="#8e9cb5" /><circle cx="770.15" cy="1650.10" r="4.35" fill="#8e9cb5" /><circle cx="779.78" cy="1650.10" r="4.35" fill="#8e9cb5" /><circle cx="789.41" cy="1650.10" r="4.35" fill="#8e9cb5" /><circle cx="799.04" cy="1650.10" r="4.35" fill="#8e9cb5" /><circle cx="808.67" cy="1650.10" r="4.35" fill="#8e9cb5" /><circle cx="818.30" cy="1650.10" r="4.35" fill="#8e9cb5" /><circle cx="827.93" cy="1650.10" r="4.35" fill="#8e9cb5" /><circle cx="837.56" cy="1650.10" r="4.35" fill="#8e9cb5" /><circle cx="847.19" cy="1650.10" r="4.35" fill="#8e9cb5" /><circle cx="856.82" cy="1650.10" r="4.35" fill="#8e9cb5" /><circle cx="866.45" cy="1650.10" r="4.35" fill="#8e9cb5" /><circle cx="876.08" cy="1650.10" r="4.35" fill="#8e9cb5" /><circle cx="885.71" cy="1650.10" r="4.35" fill="#8e9cb5" /><circle cx="895.34" cy="1650.10" r="4.35" fill="#8e9cb5" /><circle cx="904.97" cy="1650.10" r="4.35" fill="#8e9cb5" /><circle cx="914.60" cy="1650.10" r="4.35" fill="#8e9cb5" /><circle cx="924.23" cy="1650.10" r="4.35" fill="#8e9cb5" /><circle cx="933.86" cy="1650.10" r="4.35" fill="#8e9cb5" /><circle cx="943.49" cy="1650.10" r="4.35" fill="#8e9cb5" /><circle cx="953.12" cy="1650.10" r="4.35" fill="#8e9cb5" />
</g>
<path d="M684.7 1587.6 V1585.6 A9.5 9.5 0 0 1 703.7 1585.6 V1587.6" fill="none" stroke="#52468c" stroke-width="2.5" />
<path d="M722.4 1587.6 V1585.6 A9.5 9.5 0 0 1 741.4 1585.6 V1587.6" fill="none" stroke="#52468c" stroke-width="2.5" />
<path d="M760.4 1587.6 V1585.6 A9.4 9.4 0 0 1 779.1 1585.6 V1587.6" fill="none" stroke="#52468c" stroke-width="2.5" />
<path d="M665.7 1663.4 V1665.4 A9.5 9.5 0 0 0 684.7 1665.4 V1663.4" fill="none" stroke="#52468c" stroke-width="2.5" />
<path d="M703.7 1663.4 V1665.4 A9.4 9.4 0 0 0 722.4 1665.4 V1663.4" fill="none" stroke="#52468c" stroke-width="2.5" />
<path d="M741.4 1663.4 V1665.4 A9.5 9.5 0 0 0 760.4 1665.4 V1663.4" fill="none" stroke="#52468c" stroke-width="2.5" />
<path d="M666.1 1585.2 C665.3 1576.2 661.0 1569.8 664.2 1563.9 C667.4 1558.8 676.0 1560.3 682.4 1561.8 S703.7 1563.9 713.3 1560.7" fill="none" stroke="#52468c" stroke-width="2.2" stroke-linecap="round"/>
<path d="M780.4 1664.7 C780.4 1678.6 781.5 1687.1 771.9 1690.3 C763.4 1693.1 750.6 1689.2 741.4 1693.9" fill="none" stroke="#52468c" stroke-width="2.4" stroke-linecap="round"/>
<rect x="658.25" y="1583.71" width="14.93" height="82.52" fill="#52468c" rx="7.4" ry="8.5"/>
<rect x="677.23" y="1583.71" width="14.92" height="82.52" fill="#52468c" rx="7.4" ry="8.5"/>
<rect x="696.20" y="1583.71" width="14.93" height="82.52" fill="#52468c" rx="7.4" ry="8.5"/>
<rect x="714.97" y="1583.71" width="14.92" height="82.52" fill="#52468c" rx="7.4" ry="8.5"/>
<rect x="733.94" y="1583.71" width="14.93" height="82.52" fill="#52468c" rx="7.4" ry="8.5"/>
<rect x="752.92" y="1583.71" width="14.93" height="82.52" fill="#52468c" rx="7.4" ry="8.5"/>
<rect x="771.68" y="1583.71" width="14.93" height="82.52" fill="#52468c" rx="7.4" ry="8.5"/>
<line x1="719.66" y1="1683.50" x2="719.66" y2="1714.84" stroke="#222" stroke-width="3" />
<polygon points="712.0,1713.8 727.1,1713.8 719.7,1728.1" fill="#222"/>
<rect x="711.56" y="1728.06" width="85.07" height="44.14" fill="#cfd3e9" stroke="#2f3b70" stroke-width="1.7" rx="22" ry="22"/>
<text x="753.77" y="1754.93" font-size="18" text-anchor="middle" >Gαq</text>
<rect x="693.43" y="1771.77" width="86.14" height="44.56" fill="#daf0f6" stroke="#2b7a8c" stroke-width="1.7" rx="22.3" ry="22.3"/>
<text x="736.72" y="1799.28" font-size="18" text-anchor="middle" >PLC</text>
<line x1="796.84" y1="1778.17" x2="796.84" y2="1811.86" stroke="#ff0000" stroke-width="6.4" />
<line x1="796.84" y1="1794.80" x2="860.38" y2="1794.80" stroke="#ff0000" stroke-width="6.4" />
<text x="871.04" y="1802.69" font-size="25" font-weight="bold" fill="#ff0000" >U73122</text>
<line x1="739.06" y1="1830.49" x2="739.06" y2="1881.02" stroke="#222" stroke-width="3.4" stroke-dasharray="10.1 10.1"/>
<polygon points="733.5,1886.8 744.6,1886.8 739.1,1897.7" fill="#222"/>
<line x1="739.06" y1="1959.49" x2="739.06" y2="2010.02" stroke="#222" stroke-width="3.4" stroke-dasharray="10.1 10.1"/>
<polygon points="733.5,2016.0 744.6,2016.0 739.1,2026.7" fill="#222"/>
<rect x="705.16" y="1904.26" width="68.02" height="44.57" fill="#fbe4ea" stroke="#8b2a4a" stroke-width="1.8" rx="22.3" ry="22.3"/>
<text x="739.28" y="1932.20" font-size="18" text-anchor="middle" >IP<tspan font-size="11.5" dy="3">3</tspan></text>
<circle cx="739.06" cy="2061.62" r="25.7" fill="#f1e0b0" stroke="#a0702a" stroke-width="1.9" />
<text x="739.06" y="2066.52" font-size="18" text-anchor="middle" >Ca<tspan font-size="11.5" dy="-6">2+</tspan></text>
<rect x="1110.48" y="1957.17" width="38.70" height="93.04" fill="#808080" stroke="#000" stroke-width="2.1" />
<rect x="1170.36" y="1816.99" width="38.41" height="233.22" fill="#ff0000" stroke="#000" stroke-width="2.1" />
<rect x="1231.38" y="1778.99" width="38.70" height="271.22" fill="#0000ff" stroke="#000" stroke-width="2.1" />
<rect x="1302.48" y="1980.49" width="38.41" height="69.72" fill="#808080" stroke="#000" stroke-width="2.1" />
<rect x="1363.22" y="1963.79" width="38.41" height="86.42" fill="#ff0000" stroke="#000" stroke-width="2.1" />
<rect x="1424.24" y="1943.07" width="38.13" height="107.14" fill="#0000ff" stroke="#000" stroke-width="2.1" />
<path d="M1129.8 1948.0 V1965.0 M1118.5 1948.0 H1141.1 M1118.5 1965.0 H1141.1" fill="none" stroke="#000" stroke-width="2.1" />
<path d="M1189.4 1800.4 V1833.5 M1178.1 1800.4 H1200.7 M1178.1 1833.5 H1200.7" fill="none" stroke="#000" stroke-width="2.1" />
<path d="M1250.7 1773.0 V1784.0 M1239.4 1773.0 H1262.0 M1239.4 1784.0 H1262.0" fill="none" stroke="#000" stroke-width="2.1" />
<path d="M1321.5 1970.2 V1989.5 M1310.2 1970.2 H1332.8 M1310.2 1989.5 H1332.8" fill="none" stroke="#000" stroke-width="2.1" />
<path d="M1382.3 1955.8 V1970.8 M1371.0 1955.8 H1393.6 M1371.0 1970.8 H1393.6" fill="none" stroke="#000" stroke-width="2.1" />
<path d="M1443.6 1930.5 V1953.8 M1432.3 1930.5 H1454.9 M1432.3 1953.8 H1454.9" fill="none" stroke="#000" stroke-width="2.1" />
<circle cx="1129.83" cy="1942.27" r="3.8" fill="#000" />
<circle cx="1129.83" cy="1958.68" r="3.8" fill="#000" />
<circle cx="1129.83" cy="1971.63" r="3.8" fill="#000" />
<circle cx="1189.42" cy="1784.53" r="3.8" fill="#000" />
<circle cx="1189.42" cy="1829.14" r="3.8" fill="#000" />
<circle cx="1189.42" cy="1837.78" r="3.8" fill="#000" />
<circle cx="1243.53" cy="1771.00" r="3.8" fill="#000" />
<circle cx="1256.49" cy="1775.89" r="3.8" fill="#000" />
<circle cx="1250.73" cy="1788.84" r="3.8" fill="#000" />
<circle cx="1321.54" cy="1962.13" r="3.8" fill="#000" />
<circle cx="1321.54" cy="1983.14" r="3.8" fill="#000" />
<circle cx="1321.54" cy="1994.66" r="3.8" fill="#000" />
<circle cx="1382.28" cy="1950.90" r="3.8" fill="#000" />
<circle cx="1382.28" cy="1962.13" r="3.8" fill="#000" />
<circle cx="1382.28" cy="1976.52" r="3.8" fill="#000" />
<circle cx="1443.59" cy="1921.26" r="3.8" fill="#000" />
<circle cx="1443.59" cy="1945.72" r="3.8" fill="#000" />
<circle cx="1443.59" cy="1960.98" r="3.8" fill="#000" />
<line x1="1091.00" y1="1713.40" x2="1091.00" y2="2051.20" stroke="#000" stroke-width="4.6" />
<line x1="1079.50" y1="1715.44" x2="1091.00" y2="1715.44" stroke="#000" stroke-width="4" />
<line x1="1079.50" y1="1826.26" x2="1091.00" y2="1826.26" stroke="#000" stroke-width="4" />
<line x1="1079.50" y1="1937.66" x2="1091.00" y2="1937.66" stroke="#000" stroke-width="4" />
<line x1="1079.50" y1="2049.35" x2="1091.00" y2="2049.35" stroke="#000" stroke-width="4" />
<text x="1068.31" y="1836.76" font-size="29.5" text-anchor="end" >200</text>
<text x="1072.62" y="2058.99" font-size="29.5" text-anchor="end" >0</text>
<text font-size="29" text-anchor="middle" transform="translate(1003.20 1880.00) rotate(-90)" >IL-1β (pg/ml)</text>
<line x1="1112.56" y1="2057.41" x2="1268.58" y2="2057.41" stroke="#231f20" stroke-width="2.9" />
<line x1="1304.85" y1="2059.42" x2="1460.86" y2="2059.42" stroke="#231f20" stroke-width="2.9" />
<text x="1192.01" y="2096.27" font-size="29" text-anchor="middle" >Ctrl</text>
<text x="1372.06" y="2096.27" font-size="29" text-anchor="middle" >U73122</text>
<path d="M1130.4 1799.5 V1740.8 H1190.3 V1752.3" fill="none" stroke="#111" stroke-width="1.5" />
<text x="1171.00" y="1731.85" font-size="20.6" text-anchor="middle" font-style="italic" >p &lt; 0,0001</text>
<path d="M1130.4 1700.5 V1693.3 H1250.7 V1725.5" fill="none" stroke="#111" stroke-width="1.5" />
<text x="1192.30" y="1685.22" font-size="20.6" text-anchor="middle" font-style="italic" >p &lt; 0,0001</text>
<path d="M1190.3 1665.9 V1652.1 H1382.6 V1665.9" fill="none" stroke="#111" stroke-width="1.5" />
<text x="1283.11" y="1644.05" font-size="20.6" text-anchor="middle" font-style="italic" >p &lt; 0,0001</text>
<path d="M1250.7 1621.9 V1607.5 H1443.0 V1642.9" fill="none" stroke="#111" stroke-width="1.5" />
<text x="1338.53" y="1601.16" font-size="20.6" text-anchor="middle" font-style="italic" >p &lt; 0,0001</text>
<path d="M1322.1 1845.5 V1832.0 H1382.6 V1844.4" fill="none" stroke="#111" stroke-width="1.5" />
<text x="1351.91" y="1824.25" font-size="20.6" text-anchor="middle" font-style="italic" >p = 0,8537</text>
<path d="M1322.1 1801.8 V1793.7 H1443.0 V1832.0" fill="none" stroke="#111" stroke-width="1.5" />
<text x="1382.42" y="1785.96" font-size="20.6" text-anchor="middle" font-style="italic" >p = 0,1807</text>
<rect x="1618.26" y="1960.05" width="38.69" height="89.30" fill="#808080" stroke="#000" stroke-width="2.1" />
<rect x="1678.42" y="1836.56" width="38.41" height="212.79" fill="#ff0000" stroke="#000" stroke-width="2.1" />
<rect x="1738.29" y="1798.57" width="38.70" height="250.78" fill="#0000ff" stroke="#000" stroke-width="2.1" />
<rect x="1810.25" y="1945.08" width="38.70" height="104.27" fill="#808080" stroke="#000" stroke-width="2.1" />
<rect x="1870.41" y="1820.16" width="38.42" height="229.19" fill="#ff0000" stroke="#000" stroke-width="2.1" />
<rect x="1930.58" y="1809.79" width="38.41" height="239.56" fill="#0000ff" stroke="#000" stroke-width="2.1" />
<path d="M1637.9 1954.4 V1965.3 M1626.6 1954.4 H1649.2 M1626.6 1965.3 H1649.2" fill="none" stroke="#000" stroke-width="2.1" />
<path d="M1697.8 1829.7 V1843.0 M1686.5 1829.7 H1709.1 M1686.5 1843.0 H1709.1" fill="none" stroke="#000" stroke-width="2.1" />
<path d="M1757.3 1790.3 V1804.7 M1746.0 1790.3 H1768.6 M1746.0 1804.7 H1768.6" fill="none" stroke="#000" stroke-width="2.1" />
<path d="M1829.6 1940.5 V1948.6 M1818.3 1940.5 H1840.9 M1818.3 1948.6 H1840.9" fill="none" stroke="#000" stroke-width="2.1" />
<path d="M1889.8 1798.0 V1842.1 M1878.5 1798.0 H1901.1 M1878.5 1842.1 H1901.1" fill="none" stroke="#000" stroke-width="2.1" />
<path d="M1947.9 1796.6 V1822.5 M1936.6 1796.6 H1959.2 M1936.6 1822.5 H1959.2" fill="none" stroke="#000" stroke-width="2.1" />
<circle cx="1637.89" cy="1949.46" r="3.8" fill="#000" />
<circle cx="1644.23" cy="1962.13" r="3.8" fill="#000" />
<circle cx="1631.85" cy="1968.18" r="3.8" fill="#000" />
<circle cx="1697.77" cy="1825.40" r="3.8" fill="#000" />
<circle cx="1697.77" cy="1837.78" r="3.8" fill="#000" />
<circle cx="1697.77" cy="1847.85" r="3.8" fill="#000" />
<circle cx="1750.73" cy="1789.71" r="3.8" fill="#000" />
<circle cx="1762.82" cy="1793.74" r="3.8" fill="#000" />
<circle cx="1757.35" cy="1811.87" r="3.8" fill="#000" />
<circle cx="1829.89" cy="1936.51" r="3.8" fill="#000" />
<circle cx="1836.51" cy="1947.74" r="3.8" fill="#000" />
<circle cx="1823.56" cy="1951.48" r="3.8" fill="#000" />
<circle cx="1889.76" cy="1776.75" r="3.8" fill="#000" />
<circle cx="1883.14" cy="1842.10" r="3.8" fill="#000" />
<circle cx="1896.96" cy="1840.66" r="3.8" fill="#000" />
<circle cx="1947.91" cy="1787.40" r="3.8" fill="#000" />
<circle cx="1947.91" cy="1811.87" r="3.8" fill="#000" />
<circle cx="1947.91" cy="1831.16" r="3.8" fill="#000" />
<line x1="1597.60" y1="1712.60" x2="1597.60" y2="2050.60" stroke="#000" stroke-width="4.6" />
<line x1="1585.80" y1="1714.58" x2="1597.60" y2="1714.58" stroke="#000" stroke-width="4" />
<line x1="1585.80" y1="1825.40" x2="1597.60" y2="1825.40" stroke="#000" stroke-width="4" />
<line x1="1585.80" y1="1937.09" x2="1597.60" y2="1937.09" stroke="#000" stroke-width="4" />
<line x1="1585.80" y1="2048.49" x2="1597.60" y2="2048.49" stroke="#000" stroke-width="4" />
<text x="1577.52" y="1838.78" font-size="29.5" text-anchor="end" >200</text>
<text x="1581.26" y="2060.42" font-size="29.5" text-anchor="end" >0</text>
<text font-size="29" text-anchor="middle" transform="translate(1513.30 1884.60) rotate(-90)" >IL-1β (pg/ml)</text>
<line x1="1620.62" y1="2057.99" x2="1776.64" y2="2057.99" stroke="#231f20" stroke-width="2.9" />
<line x1="1813.20" y1="2060.00" x2="1968.92" y2="2060.00" stroke="#231f20" stroke-width="2.9" />
<text x="1700.07" y="2096.27" font-size="29" text-anchor="middle" >Ctrl</text>
<text x="1880.26" y="2096.27" font-size="29" text-anchor="middle" >U73343</text>
<path d="M1637.3 1810.4 V1786.5 H1697.5 V1796.6" fill="none" stroke="#111" stroke-width="1.5" />
<text x="1667.69" y="1777.90" font-size="20.6" text-anchor="middle" font-style="italic" >p &lt; 0,0001</text>
<path d="M1637.3 1731.8 V1726.4 H1757.3 V1757.2" fill="none" stroke="#111" stroke-width="1.5" />
<text x="1701.22" y="1718.89" font-size="20.6" text-anchor="middle" font-style="italic" >p &lt; 0,0001</text>
<path d="M1697.5 1670.2 V1655.8 H1891.2 V1670.2" fill="none" stroke="#111" stroke-width="1.5" />
<text x="1800.67" y="1648.37" font-size="20.6" text-anchor="middle" font-style="italic" >p = 0,894</text>
<path d="M1757.3 1630.5 V1617.6 H1949.3 V1648.7" fill="none" stroke="#111" stroke-width="1.5" />
<text x="1853.93" y="1610.37" font-size="20.6" text-anchor="middle" font-style="italic" >p = 0,7609</text>
<path d="M1829.6 1819.6 V1755.2 H1889.8 V1760.9" fill="none" stroke="#111" stroke-width="1.5" />
<text x="1858.96" y="1746.53" font-size="20.6" text-anchor="middle" font-style="italic" >p &lt; 0,0001</text>
<path d="M1829.6 1703.9 V1695.3 H1949.3 V1753.4" fill="none" stroke="#111" stroke-width="1.5" />
<text x="1889.48" y="1687.52" font-size="20.6" text-anchor="middle" font-style="italic" >p &lt; 0,0001</text>
<rect x="1468.86" y="1573.75" width="38.70" height="20.57" fill="#808080" stroke="#000" stroke-width="2.1" />
<text x="1513.83" y="1594.54" font-size="29" fill="#808285" >HBSS</text>
<rect x="1468.86" y="1635.64" width="38.70" height="19.13" fill="#ff0000" stroke="#000" stroke-width="2.1" />
<text x="1513.83" y="1655.57" font-size="29" fill="#ed1c24" >MSU</text>
<rect x="1468.86" y="1694.08" width="38.70" height="19.12" fill="#0000ff" stroke="#000" stroke-width="2.1" />
<text x="1513.83" y="1713.43" font-size="29" fill="#0000ff" >CPP</text>
</g>
</svg>
</body></html>
